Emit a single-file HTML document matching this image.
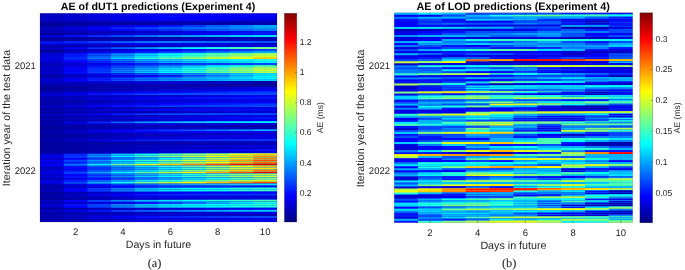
<!DOCTYPE html>
<html><head><meta charset="utf-8"><title>AE heatmaps</title>
<style>
html,body{margin:0;padding:0;background:#fff;}
body{width:685px;height:270px;overflow:hidden;font-family:"Liberation Sans",sans-serif;}
svg{display:block}
text{font-family:"Liberation Sans",sans-serif;fill:#262626;text-rendering:geometricPrecision}
.tk{font-size:9.5px}
.cb{font-size:8.6px}
.cl{font-size:8.6px}
.lb{}
.ti{font-size:10.65px;font-weight:bold;fill:#000}
.tib{font-size:10.8px}
.sf{font-family:"Liberation Serif",serif;font-size:12.3px;fill:#111}
</style></head><body>
<svg width="685" height="270" viewBox="0 0 685 270">
<defs><linearGradient id="jet" x1="0" y1="1" x2="0" y2="0">
<stop offset="0" stop-color="#000080"/><stop offset="0.125" stop-color="#0000ff"/><stop offset="0.375" stop-color="#00ffff"/><stop offset="0.625" stop-color="#ffff00"/><stop offset="0.875" stop-color="#ff0000"/><stop offset="1" stop-color="#800000"/>
</linearGradient>
<filter id="vb" x="-2%" y="-2%" width="104%" height="104%"><feGaussianBlur stdDeviation="0.35 0.5"/></filter></defs>
<rect width="685" height="270" fill="#fff"/>
<g opacity="0.999">
<clipPath id="cpa"><rect x="40.00" y="13.30" width="237.00" height="208.70"/></clipPath>
<g clip-path="url(#cpa)"><g filter="url(#vb)">
<rect x="37.00" y="10.30" width="243.00" height="6.01" fill="#0000c2"/>
<rect x="63.70" y="10.30" width="216.30" height="6.01" fill="#0000ce"/>
<rect x="87.40" y="10.30" width="192.60" height="6.01" fill="#0000db"/>
<rect x="111.10" y="10.30" width="168.90" height="6.01" fill="#0000e7"/>
<rect x="134.80" y="10.30" width="145.20" height="6.01" fill="#0000f4"/>
<rect x="158.50" y="10.30" width="121.50" height="6.01" fill="#0000fa"/>
<rect x="182.20" y="10.30" width="97.80" height="6.01" fill="#0000fa"/>
<rect x="205.90" y="10.30" width="74.10" height="6.01" fill="#0000fa"/>
<rect x="229.60" y="10.30" width="50.40" height="6.01" fill="#0000fa"/>
<rect x="253.30" y="10.30" width="26.70" height="6.01" fill="#0000fa"/>
<rect x="37.00" y="15.31" width="243.00" height="3.01" fill="#0000c2"/>
<rect x="63.70" y="15.31" width="216.30" height="3.01" fill="#0000d2"/>
<rect x="87.40" y="15.31" width="192.60" height="3.01" fill="#0000e2"/>
<rect x="111.10" y="15.31" width="168.90" height="3.01" fill="#0000f1"/>
<rect x="134.80" y="15.31" width="145.20" height="3.01" fill="#0002ff"/>
<rect x="158.50" y="15.31" width="121.50" height="3.01" fill="#0008ff"/>
<rect x="182.20" y="15.31" width="97.80" height="3.01" fill="#0005ff"/>
<rect x="205.90" y="15.31" width="74.10" height="3.01" fill="#0002ff"/>
<rect x="229.60" y="15.31" width="50.40" height="3.01" fill="#0000fd"/>
<rect x="253.30" y="15.31" width="26.70" height="3.01" fill="#0000fa"/>
<rect x="37.00" y="17.31" width="243.00" height="3.01" fill="#0000c2"/>
<rect x="63.70" y="17.31" width="216.30" height="3.01" fill="#0000cf"/>
<rect x="87.40" y="17.31" width="192.60" height="3.01" fill="#0000dd"/>
<rect x="111.10" y="17.31" width="168.90" height="3.01" fill="#0000eb"/>
<rect x="134.80" y="17.31" width="145.20" height="3.01" fill="#0000f8"/>
<rect x="158.50" y="17.31" width="121.50" height="3.01" fill="#0000fc"/>
<rect x="182.20" y="17.31" width="97.80" height="3.01" fill="#0000f6"/>
<rect x="205.90" y="17.31" width="74.10" height="3.01" fill="#0000f1"/>
<rect x="229.60" y="17.31" width="50.40" height="3.01" fill="#0000eb"/>
<rect x="253.30" y="17.31" width="26.70" height="3.01" fill="#0000e6"/>
<rect x="37.00" y="19.32" width="243.00" height="3.01" fill="#0000c8"/>
<rect x="63.70" y="19.32" width="216.30" height="3.01" fill="#0000d3"/>
<rect x="87.40" y="19.32" width="192.60" height="3.01" fill="#0000de"/>
<rect x="111.10" y="19.32" width="168.90" height="3.01" fill="#0000e9"/>
<rect x="134.80" y="19.32" width="145.20" height="3.01" fill="#0000f4"/>
<rect x="158.50" y="19.32" width="121.50" height="3.01" fill="#0000f8"/>
<rect x="182.20" y="19.32" width="97.80" height="3.01" fill="#0000f3"/>
<rect x="205.90" y="19.32" width="74.10" height="3.01" fill="#0000ef"/>
<rect x="229.60" y="19.32" width="50.40" height="3.01" fill="#0000ea"/>
<rect x="253.30" y="19.32" width="26.70" height="3.01" fill="#0000e6"/>
<rect x="37.00" y="21.33" width="243.00" height="3.01" fill="#0000a3"/>
<rect x="63.70" y="21.33" width="216.30" height="3.01" fill="#0000a7"/>
<rect x="87.40" y="21.33" width="192.60" height="3.01" fill="#0000aa"/>
<rect x="111.10" y="21.33" width="168.90" height="3.01" fill="#0000ad"/>
<rect x="134.80" y="21.33" width="145.20" height="3.01" fill="#0000b1"/>
<rect x="158.50" y="21.33" width="121.50" height="3.01" fill="#0000b2"/>
<rect x="182.20" y="21.33" width="97.80" height="3.01" fill="#0000b2"/>
<rect x="205.90" y="21.33" width="74.10" height="3.01" fill="#0000b2"/>
<rect x="229.60" y="21.33" width="50.40" height="3.01" fill="#0000b2"/>
<rect x="253.30" y="21.33" width="26.70" height="3.01" fill="#0000b2"/>
<rect x="37.00" y="23.33" width="243.00" height="3.01" fill="#00009e"/>
<rect x="63.70" y="23.33" width="216.30" height="3.01" fill="#0000a2"/>
<rect x="87.40" y="23.33" width="192.60" height="3.01" fill="#0000a5"/>
<rect x="111.10" y="23.33" width="168.90" height="3.01" fill="#0000a8"/>
<rect x="134.80" y="23.33" width="145.20" height="3.01" fill="#0000ac"/>
<rect x="158.50" y="23.33" width="121.50" height="3.01" fill="#0000ae"/>
<rect x="182.20" y="23.33" width="97.80" height="3.01" fill="#0000af"/>
<rect x="205.90" y="23.33" width="74.10" height="3.01" fill="#0000b0"/>
<rect x="229.60" y="23.33" width="50.40" height="3.01" fill="#0000b1"/>
<rect x="253.30" y="23.33" width="26.70" height="3.01" fill="#0000b2"/>
<rect x="37.00" y="25.34" width="243.00" height="3.01" fill="#00009e"/>
<rect x="63.70" y="25.34" width="216.30" height="3.01" fill="#0000b5"/>
<rect x="87.40" y="25.34" width="192.60" height="3.01" fill="#0000cd"/>
<rect x="111.10" y="25.34" width="168.90" height="3.01" fill="#0000e4"/>
<rect x="134.80" y="25.34" width="145.20" height="3.01" fill="#0000fb"/>
<rect x="158.50" y="25.34" width="121.50" height="3.01" fill="#001bff"/>
<rect x="182.20" y="25.34" width="97.80" height="3.01" fill="#0041ff"/>
<rect x="205.90" y="25.34" width="74.10" height="3.01" fill="#0067ff"/>
<rect x="229.60" y="25.34" width="50.40" height="3.01" fill="#008dff"/>
<rect x="253.30" y="25.34" width="26.70" height="3.01" fill="#00b2ff"/>
<rect x="37.00" y="27.35" width="243.00" height="3.01" fill="#0000c2"/>
<rect x="63.70" y="27.35" width="216.30" height="3.01" fill="#0000e3"/>
<rect x="87.40" y="27.35" width="192.60" height="3.01" fill="#0005ff"/>
<rect x="111.10" y="27.35" width="168.90" height="3.01" fill="#0025ff"/>
<rect x="134.80" y="27.35" width="145.20" height="3.01" fill="#0046ff"/>
<rect x="158.50" y="27.35" width="121.50" height="3.01" fill="#005fff"/>
<rect x="182.20" y="27.35" width="97.80" height="3.01" fill="#006fff"/>
<rect x="205.90" y="27.35" width="74.10" height="3.01" fill="#007eff"/>
<rect x="229.60" y="27.35" width="50.40" height="3.01" fill="#008eff"/>
<rect x="253.30" y="27.35" width="26.70" height="3.01" fill="#009eff"/>
<rect x="37.00" y="29.35" width="243.00" height="3.01" fill="#0000b8"/>
<rect x="63.70" y="29.35" width="216.30" height="3.01" fill="#0000d1"/>
<rect x="87.40" y="29.35" width="192.60" height="3.01" fill="#0000e9"/>
<rect x="111.10" y="29.35" width="168.90" height="3.01" fill="#0003ff"/>
<rect x="134.80" y="29.35" width="145.20" height="3.01" fill="#001cff"/>
<rect x="158.50" y="29.35" width="121.50" height="3.01" fill="#0032ff"/>
<rect x="182.20" y="29.35" width="97.80" height="3.01" fill="#0046ff"/>
<rect x="205.90" y="29.35" width="74.10" height="3.01" fill="#0059ff"/>
<rect x="229.60" y="29.35" width="50.40" height="3.01" fill="#006cff"/>
<rect x="253.30" y="29.35" width="26.70" height="3.01" fill="#0080ff"/>
<rect x="37.00" y="31.36" width="243.00" height="3.01" fill="#0000ad"/>
<rect x="63.70" y="31.36" width="216.30" height="3.01" fill="#0000b4"/>
<rect x="87.40" y="31.36" width="192.60" height="3.01" fill="#0000bb"/>
<rect x="111.10" y="31.36" width="168.90" height="3.01" fill="#0000c2"/>
<rect x="134.80" y="31.36" width="145.20" height="3.01" fill="#0000c9"/>
<rect x="158.50" y="31.36" width="121.50" height="3.01" fill="#0000d4"/>
<rect x="182.20" y="31.36" width="97.80" height="3.01" fill="#0000e6"/>
<rect x="205.90" y="31.36" width="74.10" height="3.01" fill="#0000f6"/>
<rect x="229.60" y="31.36" width="50.40" height="3.01" fill="#0008ff"/>
<rect x="253.30" y="31.36" width="26.70" height="3.01" fill="#0019ff"/>
<rect x="37.00" y="33.37" width="243.00" height="3.01" fill="#00009e"/>
<rect x="63.70" y="33.37" width="216.30" height="3.01" fill="#0000af"/>
<rect x="87.40" y="33.37" width="192.60" height="3.01" fill="#0000bf"/>
<rect x="111.10" y="33.37" width="168.90" height="3.01" fill="#0000cf"/>
<rect x="134.80" y="33.37" width="145.20" height="3.01" fill="#0000e0"/>
<rect x="158.50" y="33.37" width="121.50" height="3.01" fill="#0000ed"/>
<rect x="182.20" y="33.37" width="97.80" height="3.01" fill="#0000f8"/>
<rect x="205.90" y="33.37" width="74.10" height="3.01" fill="#0004ff"/>
<rect x="229.60" y="33.37" width="50.40" height="3.01" fill="#000fff"/>
<rect x="253.30" y="33.37" width="26.70" height="3.01" fill="#0019ff"/>
<rect x="37.00" y="35.37" width="243.00" height="3.01" fill="#0000e7"/>
<rect x="63.70" y="35.37" width="216.30" height="3.01" fill="#000cff"/>
<rect x="87.40" y="35.37" width="192.60" height="3.01" fill="#0030ff"/>
<rect x="111.10" y="35.37" width="168.90" height="3.01" fill="#0054ff"/>
<rect x="134.80" y="35.37" width="145.20" height="3.01" fill="#0078ff"/>
<rect x="158.50" y="35.37" width="121.50" height="3.01" fill="#0094ff"/>
<rect x="182.20" y="35.37" width="97.80" height="3.01" fill="#00a8ff"/>
<rect x="205.90" y="35.37" width="74.10" height="3.01" fill="#00bdff"/>
<rect x="229.60" y="35.37" width="50.40" height="3.01" fill="#00d1ff"/>
<rect x="253.30" y="35.37" width="26.70" height="3.01" fill="#00e5ff"/>
<rect x="37.00" y="37.38" width="243.00" height="3.01" fill="#00009e"/>
<rect x="63.70" y="37.38" width="216.30" height="3.01" fill="#0000a2"/>
<rect x="87.40" y="37.38" width="192.60" height="3.01" fill="#0000a5"/>
<rect x="111.10" y="37.38" width="168.90" height="3.01" fill="#0000a8"/>
<rect x="134.80" y="37.38" width="145.20" height="3.01" fill="#0000ac"/>
<rect x="158.50" y="37.38" width="121.50" height="3.01" fill="#0000ae"/>
<rect x="182.20" y="37.38" width="97.80" height="3.01" fill="#0000af"/>
<rect x="205.90" y="37.38" width="74.10" height="3.01" fill="#0000b0"/>
<rect x="229.60" y="37.38" width="50.40" height="3.01" fill="#0000b1"/>
<rect x="253.30" y="37.38" width="26.70" height="3.01" fill="#0000b2"/>
<rect x="37.00" y="39.39" width="243.00" height="3.01" fill="#00009e"/>
<rect x="63.70" y="39.39" width="216.30" height="3.01" fill="#0000a6"/>
<rect x="87.40" y="39.39" width="192.60" height="3.01" fill="#0000ae"/>
<rect x="111.10" y="39.39" width="168.90" height="3.01" fill="#0000b6"/>
<rect x="134.80" y="39.39" width="145.20" height="3.01" fill="#0000be"/>
<rect x="158.50" y="39.39" width="121.50" height="3.01" fill="#0000c1"/>
<rect x="182.20" y="39.39" width="97.80" height="3.01" fill="#0000c0"/>
<rect x="205.90" y="39.39" width="74.10" height="3.01" fill="#0000bf"/>
<rect x="229.60" y="39.39" width="50.40" height="3.01" fill="#0000be"/>
<rect x="253.30" y="39.39" width="26.70" height="3.01" fill="#0000bd"/>
<rect x="37.00" y="41.39" width="243.00" height="3.01" fill="#0014ff"/>
<rect x="63.70" y="41.39" width="216.30" height="3.01" fill="#002eff"/>
<rect x="87.40" y="41.39" width="192.60" height="3.01" fill="#0049ff"/>
<rect x="111.10" y="41.39" width="168.90" height="3.01" fill="#0063ff"/>
<rect x="134.80" y="41.39" width="145.20" height="3.01" fill="#007dff"/>
<rect x="158.50" y="41.39" width="121.50" height="3.01" fill="#0083ff"/>
<rect x="182.20" y="41.39" width="97.80" height="3.01" fill="#0075ff"/>
<rect x="205.90" y="41.39" width="74.10" height="3.01" fill="#0068ff"/>
<rect x="229.60" y="41.39" width="50.40" height="3.01" fill="#005aff"/>
<rect x="253.30" y="41.39" width="26.70" height="3.01" fill="#004dff"/>
<rect x="37.00" y="43.40" width="243.00" height="3.01" fill="#0000d4"/>
<rect x="63.70" y="43.40" width="216.30" height="3.01" fill="#0000dc"/>
<rect x="87.40" y="43.40" width="192.60" height="3.01" fill="#0000e4"/>
<rect x="111.10" y="43.40" width="168.90" height="3.01" fill="#0000ec"/>
<rect x="134.80" y="43.40" width="145.20" height="3.01" fill="#0000f3"/>
<rect x="158.50" y="43.40" width="121.50" height="3.01" fill="#0000f2"/>
<rect x="182.20" y="43.40" width="97.80" height="3.01" fill="#0000e7"/>
<rect x="205.90" y="43.40" width="74.10" height="3.01" fill="#0000dc"/>
<rect x="229.60" y="43.40" width="50.40" height="3.01" fill="#0000d2"/>
<rect x="253.30" y="43.40" width="26.70" height="3.01" fill="#0000c7"/>
<rect x="37.00" y="45.41" width="243.00" height="3.01" fill="#0000a3"/>
<rect x="63.70" y="45.41" width="216.30" height="3.01" fill="#0000a9"/>
<rect x="87.40" y="45.41" width="192.60" height="3.01" fill="#0000af"/>
<rect x="111.10" y="45.41" width="168.90" height="3.01" fill="#0000b4"/>
<rect x="134.80" y="45.41" width="145.20" height="3.01" fill="#0000ba"/>
<rect x="158.50" y="45.41" width="121.50" height="3.01" fill="#0000c1"/>
<rect x="182.20" y="45.41" width="97.80" height="3.01" fill="#0000ca"/>
<rect x="205.90" y="45.41" width="74.10" height="3.01" fill="#0000d3"/>
<rect x="229.60" y="45.41" width="50.40" height="3.01" fill="#0000dc"/>
<rect x="253.30" y="45.41" width="26.70" height="3.01" fill="#0000e6"/>
<rect x="37.00" y="47.41" width="243.00" height="3.01" fill="#0000c8"/>
<rect x="63.70" y="47.41" width="216.30" height="3.01" fill="#0000fc"/>
<rect x="87.40" y="47.41" width="192.60" height="3.01" fill="#0031ff"/>
<rect x="111.10" y="47.41" width="168.90" height="3.01" fill="#0065ff"/>
<rect x="134.80" y="47.41" width="145.20" height="3.01" fill="#0099ff"/>
<rect x="158.50" y="47.41" width="121.50" height="3.01" fill="#00c9ff"/>
<rect x="182.20" y="47.41" width="97.80" height="3.01" fill="#00f7ff"/>
<rect x="205.90" y="47.41" width="74.10" height="3.01" fill="#25ffda"/>
<rect x="229.60" y="47.41" width="50.40" height="3.01" fill="#52ffad"/>
<rect x="253.30" y="47.41" width="26.70" height="3.01" fill="#80ff80"/>
<rect x="37.00" y="49.42" width="243.00" height="3.01" fill="#00009e"/>
<rect x="63.70" y="49.42" width="216.30" height="3.01" fill="#0000b2"/>
<rect x="87.40" y="49.42" width="192.60" height="3.01" fill="#0000c6"/>
<rect x="111.10" y="49.42" width="168.90" height="3.01" fill="#0000da"/>
<rect x="134.80" y="49.42" width="145.20" height="3.01" fill="#0000ed"/>
<rect x="158.50" y="49.42" width="121.50" height="3.01" fill="#0002ff"/>
<rect x="182.20" y="49.42" width="97.80" height="3.01" fill="#0014ff"/>
<rect x="205.90" y="49.42" width="74.10" height="3.01" fill="#0027ff"/>
<rect x="229.60" y="49.42" width="50.40" height="3.01" fill="#003aff"/>
<rect x="253.30" y="49.42" width="26.70" height="3.01" fill="#004dff"/>
<rect x="37.00" y="51.43" width="243.00" height="3.01" fill="#0000ad"/>
<rect x="63.70" y="51.43" width="216.30" height="3.01" fill="#0000cb"/>
<rect x="87.40" y="51.43" width="192.60" height="3.01" fill="#0000e8"/>
<rect x="111.10" y="51.43" width="168.90" height="3.01" fill="#0007ff"/>
<rect x="134.80" y="51.43" width="145.20" height="3.01" fill="#0024ff"/>
<rect x="158.50" y="51.43" width="121.50" height="3.01" fill="#0041ff"/>
<rect x="182.20" y="51.43" width="97.80" height="3.01" fill="#005dff"/>
<rect x="205.90" y="51.43" width="74.10" height="3.01" fill="#007aff"/>
<rect x="229.60" y="51.43" width="50.40" height="3.01" fill="#0096ff"/>
<rect x="253.30" y="51.43" width="26.70" height="3.01" fill="#00b2ff"/>
<rect x="37.00" y="53.43" width="243.00" height="3.01" fill="#0000da"/>
<rect x="63.70" y="53.43" width="216.30" height="3.01" fill="#0018ff"/>
<rect x="87.40" y="53.43" width="192.60" height="3.01" fill="#0054ff"/>
<rect x="111.10" y="53.43" width="168.90" height="3.01" fill="#0090ff"/>
<rect x="134.80" y="53.43" width="145.20" height="3.01" fill="#00ccff"/>
<rect x="158.50" y="53.43" width="121.50" height="3.01" fill="#02fffd"/>
<rect x="182.20" y="53.43" width="97.80" height="3.01" fill="#2effd1"/>
<rect x="205.90" y="53.43" width="74.10" height="3.01" fill="#5affa5"/>
<rect x="229.60" y="53.43" width="50.40" height="3.01" fill="#86ff79"/>
<rect x="253.30" y="53.43" width="26.70" height="3.01" fill="#b3ff4c"/>
<rect x="37.00" y="55.44" width="243.00" height="3.01" fill="#0000da"/>
<rect x="63.70" y="55.44" width="216.30" height="3.01" fill="#001cff"/>
<rect x="87.40" y="55.44" width="192.60" height="3.01" fill="#005dff"/>
<rect x="111.10" y="55.44" width="168.90" height="3.01" fill="#009eff"/>
<rect x="134.80" y="55.44" width="145.20" height="3.01" fill="#00dfff"/>
<rect x="158.50" y="55.44" width="121.50" height="3.01" fill="#17ffe8"/>
<rect x="182.20" y="55.44" width="97.80" height="3.01" fill="#46ffb9"/>
<rect x="205.90" y="55.44" width="74.10" height="3.01" fill="#74ff8b"/>
<rect x="229.60" y="55.44" width="50.40" height="3.01" fill="#a3ff5c"/>
<rect x="253.30" y="55.44" width="26.70" height="3.01" fill="#d1ff2e"/>
<rect x="37.00" y="57.45" width="243.00" height="3.01" fill="#0000e7"/>
<rect x="63.70" y="57.45" width="216.30" height="3.01" fill="#0037ff"/>
<rect x="87.40" y="57.45" width="192.60" height="3.01" fill="#0086ff"/>
<rect x="111.10" y="57.45" width="168.90" height="3.01" fill="#00d5ff"/>
<rect x="134.80" y="57.45" width="145.20" height="3.01" fill="#25ffda"/>
<rect x="158.50" y="57.45" width="121.50" height="3.01" fill="#67ff98"/>
<rect x="182.20" y="57.45" width="97.80" height="3.01" fill="#9bff64"/>
<rect x="205.90" y="57.45" width="74.10" height="3.01" fill="#cfff30"/>
<rect x="229.60" y="57.45" width="50.40" height="3.01" fill="#fffb00"/>
<rect x="253.30" y="57.45" width="26.70" height="3.01" fill="#ffc700"/>
<rect x="37.00" y="59.45" width="243.00" height="3.01" fill="#0000da"/>
<rect x="63.70" y="59.45" width="216.30" height="3.01" fill="#000fff"/>
<rect x="87.40" y="59.45" width="192.60" height="3.01" fill="#0042ff"/>
<rect x="111.10" y="59.45" width="168.90" height="3.01" fill="#0075ff"/>
<rect x="134.80" y="59.45" width="145.20" height="3.01" fill="#00a8ff"/>
<rect x="158.50" y="59.45" width="121.50" height="3.01" fill="#00cbff"/>
<rect x="182.20" y="59.45" width="97.80" height="3.01" fill="#00dfff"/>
<rect x="205.90" y="59.45" width="74.10" height="3.01" fill="#00f2ff"/>
<rect x="229.60" y="59.45" width="50.40" height="3.01" fill="#06fff9"/>
<rect x="253.30" y="59.45" width="26.70" height="3.01" fill="#1affe5"/>
<rect x="37.00" y="61.46" width="243.00" height="3.01" fill="#0000c8"/>
<rect x="63.70" y="61.46" width="216.30" height="3.01" fill="#0000f6"/>
<rect x="87.40" y="61.46" width="192.60" height="3.01" fill="#0025ff"/>
<rect x="111.10" y="61.46" width="168.90" height="3.01" fill="#0054ff"/>
<rect x="134.80" y="61.46" width="145.20" height="3.01" fill="#0082ff"/>
<rect x="158.50" y="61.46" width="121.50" height="3.01" fill="#00a4ff"/>
<rect x="182.20" y="61.46" width="97.80" height="3.01" fill="#00b9ff"/>
<rect x="205.90" y="61.46" width="74.10" height="3.01" fill="#00cfff"/>
<rect x="229.60" y="61.46" width="50.40" height="3.01" fill="#00e4ff"/>
<rect x="253.30" y="61.46" width="26.70" height="3.01" fill="#00faff"/>
<rect x="37.00" y="63.47" width="243.00" height="3.01" fill="#0000b8"/>
<rect x="63.70" y="63.47" width="216.30" height="3.01" fill="#0000d3"/>
<rect x="87.40" y="63.47" width="192.60" height="3.01" fill="#0000ee"/>
<rect x="111.10" y="63.47" width="168.90" height="3.01" fill="#000aff"/>
<rect x="134.80" y="63.47" width="145.20" height="3.01" fill="#0025ff"/>
<rect x="158.50" y="63.47" width="121.50" height="3.01" fill="#0036ff"/>
<rect x="182.20" y="63.47" width="97.80" height="3.01" fill="#003bff"/>
<rect x="205.90" y="63.47" width="74.10" height="3.01" fill="#0041ff"/>
<rect x="229.60" y="63.47" width="50.40" height="3.01" fill="#0047ff"/>
<rect x="253.30" y="63.47" width="26.70" height="3.01" fill="#004dff"/>
<rect x="37.00" y="65.47" width="243.00" height="3.01" fill="#0000c8"/>
<rect x="63.70" y="65.47" width="216.30" height="3.01" fill="#0000f0"/>
<rect x="87.40" y="65.47" width="192.60" height="3.01" fill="#001aff"/>
<rect x="111.10" y="65.47" width="168.90" height="3.01" fill="#0043ff"/>
<rect x="134.80" y="65.47" width="145.20" height="3.01" fill="#006bff"/>
<rect x="158.50" y="65.47" width="121.50" height="3.01" fill="#0097ff"/>
<rect x="182.20" y="65.47" width="97.80" height="3.01" fill="#00c7ff"/>
<rect x="205.90" y="65.47" width="74.10" height="3.01" fill="#00f7ff"/>
<rect x="229.60" y="65.47" width="50.40" height="3.01" fill="#27ffd8"/>
<rect x="253.30" y="65.47" width="26.70" height="3.01" fill="#57ffa8"/>
<rect x="37.00" y="67.48" width="243.00" height="3.01" fill="#0000c8"/>
<rect x="63.70" y="67.48" width="216.30" height="3.01" fill="#0000fd"/>
<rect x="87.40" y="67.48" width="192.60" height="3.01" fill="#0033ff"/>
<rect x="111.10" y="67.48" width="168.90" height="3.01" fill="#0068ff"/>
<rect x="134.80" y="67.48" width="145.20" height="3.01" fill="#009dff"/>
<rect x="158.50" y="67.48" width="121.50" height="3.01" fill="#00d4ff"/>
<rect x="182.20" y="67.48" width="97.80" height="3.01" fill="#0ffff0"/>
<rect x="205.90" y="67.48" width="74.10" height="3.01" fill="#49ffb6"/>
<rect x="229.60" y="67.48" width="50.40" height="3.01" fill="#83ff7c"/>
<rect x="253.30" y="67.48" width="26.70" height="3.01" fill="#bdff42"/>
<rect x="37.00" y="69.49" width="243.00" height="3.01" fill="#0000c8"/>
<rect x="63.70" y="69.49" width="216.30" height="3.01" fill="#0006ff"/>
<rect x="87.40" y="69.49" width="192.60" height="3.01" fill="#0043ff"/>
<rect x="111.10" y="69.49" width="168.90" height="3.01" fill="#0080ff"/>
<rect x="134.80" y="69.49" width="145.20" height="3.01" fill="#00bdff"/>
<rect x="158.50" y="69.49" width="121.50" height="3.01" fill="#00f7ff"/>
<rect x="182.20" y="69.49" width="97.80" height="3.01" fill="#2effd1"/>
<rect x="205.90" y="69.49" width="74.10" height="3.01" fill="#64ff9b"/>
<rect x="229.60" y="69.49" width="50.40" height="3.01" fill="#9bff64"/>
<rect x="253.30" y="69.49" width="26.70" height="3.01" fill="#d1ff2e"/>
<rect x="37.00" y="71.50" width="243.00" height="3.01" fill="#0000c8"/>
<rect x="63.70" y="71.50" width="216.30" height="3.01" fill="#0008ff"/>
<rect x="87.40" y="71.50" width="192.60" height="3.01" fill="#0047ff"/>
<rect x="111.10" y="71.50" width="168.90" height="3.01" fill="#0087ff"/>
<rect x="134.80" y="71.50" width="145.20" height="3.01" fill="#00c6ff"/>
<rect x="158.50" y="71.50" width="121.50" height="3.01" fill="#00fdff"/>
<rect x="182.20" y="71.50" width="97.80" height="3.01" fill="#2effd1"/>
<rect x="205.90" y="71.50" width="74.10" height="3.01" fill="#5effa2"/>
<rect x="229.60" y="71.50" width="50.40" height="3.01" fill="#8dff72"/>
<rect x="253.30" y="71.50" width="26.70" height="3.01" fill="#bdff42"/>
<rect x="37.00" y="73.50" width="243.00" height="3.01" fill="#0000b8"/>
<rect x="63.70" y="73.50" width="216.30" height="3.01" fill="#0000de"/>
<rect x="87.40" y="73.50" width="192.60" height="3.01" fill="#0006ff"/>
<rect x="111.10" y="73.50" width="168.90" height="3.01" fill="#002cff"/>
<rect x="134.80" y="73.50" width="145.20" height="3.01" fill="#0053ff"/>
<rect x="158.50" y="73.50" width="121.50" height="3.01" fill="#0074ff"/>
<rect x="182.20" y="73.50" width="97.80" height="3.01" fill="#0090ff"/>
<rect x="205.90" y="73.50" width="74.10" height="3.01" fill="#00adff"/>
<rect x="229.60" y="73.50" width="50.40" height="3.01" fill="#00c9ff"/>
<rect x="253.30" y="73.50" width="26.70" height="3.01" fill="#00e5ff"/>
<rect x="37.00" y="75.51" width="243.00" height="3.01" fill="#00009e"/>
<rect x="63.70" y="75.51" width="216.30" height="3.01" fill="#0000b8"/>
<rect x="87.40" y="75.51" width="192.60" height="3.01" fill="#0000d1"/>
<rect x="111.10" y="75.51" width="168.90" height="3.01" fill="#0000eb"/>
<rect x="134.80" y="75.51" width="145.20" height="3.01" fill="#0005ff"/>
<rect x="158.50" y="75.51" width="121.50" height="3.01" fill="#002dff"/>
<rect x="182.20" y="75.51" width="97.80" height="3.01" fill="#0063ff"/>
<rect x="205.90" y="75.51" width="74.10" height="3.01" fill="#0098ff"/>
<rect x="229.60" y="75.51" width="50.40" height="3.01" fill="#00ceff"/>
<rect x="253.30" y="75.51" width="26.70" height="3.01" fill="#05fffa"/>
<rect x="37.00" y="77.52" width="243.00" height="3.01" fill="#0000c8"/>
<rect x="63.70" y="77.52" width="216.30" height="3.01" fill="#0000f0"/>
<rect x="87.40" y="77.52" width="192.60" height="3.01" fill="#001aff"/>
<rect x="111.10" y="77.52" width="168.90" height="3.01" fill="#0043ff"/>
<rect x="134.80" y="77.52" width="145.20" height="3.01" fill="#006bff"/>
<rect x="158.50" y="77.52" width="121.50" height="3.01" fill="#008dff"/>
<rect x="182.20" y="77.52" width="97.80" height="3.01" fill="#00a8ff"/>
<rect x="205.90" y="77.52" width="74.10" height="3.01" fill="#00c3ff"/>
<rect x="229.60" y="77.52" width="50.40" height="3.01" fill="#00dfff"/>
<rect x="253.30" y="77.52" width="26.70" height="3.01" fill="#00faff"/>
<rect x="37.00" y="79.52" width="243.00" height="3.01" fill="#0000d4"/>
<rect x="63.70" y="79.52" width="216.30" height="3.01" fill="#0000fc"/>
<rect x="87.40" y="79.52" width="192.60" height="3.01" fill="#0025ff"/>
<rect x="111.10" y="79.52" width="168.90" height="3.01" fill="#004eff"/>
<rect x="134.80" y="79.52" width="145.20" height="3.01" fill="#0076ff"/>
<rect x="158.50" y="79.52" width="121.50" height="3.01" fill="#0092ff"/>
<rect x="182.20" y="79.52" width="97.80" height="3.01" fill="#00a2ff"/>
<rect x="205.90" y="79.52" width="74.10" height="3.01" fill="#00b1ff"/>
<rect x="229.60" y="79.52" width="50.40" height="3.01" fill="#00c1ff"/>
<rect x="253.30" y="79.52" width="26.70" height="3.01" fill="#00d1ff"/>
<rect x="37.00" y="81.53" width="243.00" height="3.01" fill="#0000b8"/>
<rect x="63.70" y="81.53" width="216.30" height="3.01" fill="#0000c2"/>
<rect x="87.40" y="81.53" width="192.60" height="3.01" fill="#0000cd"/>
<rect x="111.10" y="81.53" width="168.90" height="3.01" fill="#0000d8"/>
<rect x="134.80" y="81.53" width="145.20" height="3.01" fill="#0000e3"/>
<rect x="158.50" y="81.53" width="121.50" height="3.01" fill="#0000e0"/>
<rect x="182.20" y="81.53" width="97.80" height="3.01" fill="#0000cf"/>
<rect x="205.90" y="81.53" width="74.10" height="3.01" fill="#0000bf"/>
<rect x="229.60" y="81.53" width="50.40" height="3.01" fill="#0000af"/>
<rect x="253.30" y="81.53" width="26.70" height="3.01" fill="#00009e"/>
<rect x="37.00" y="83.54" width="243.00" height="3.01" fill="#0000b8"/>
<rect x="63.70" y="83.54" width="216.30" height="3.01" fill="#0000bb"/>
<rect x="87.40" y="83.54" width="192.60" height="3.01" fill="#0000be"/>
<rect x="111.10" y="83.54" width="168.90" height="3.01" fill="#0000c2"/>
<rect x="134.80" y="83.54" width="145.20" height="3.01" fill="#0000c5"/>
<rect x="158.50" y="83.54" width="121.50" height="3.01" fill="#0000c1"/>
<rect x="182.20" y="83.54" width="97.80" height="3.01" fill="#0000b6"/>
<rect x="205.90" y="83.54" width="74.10" height="3.01" fill="#0000ab"/>
<rect x="229.60" y="83.54" width="50.40" height="3.01" fill="#00009f"/>
<rect x="253.30" y="83.54" width="26.70" height="3.01" fill="#000094"/>
<rect x="37.00" y="85.54" width="243.00" height="3.01" fill="#00009e"/>
<rect x="63.70" y="85.54" width="216.30" height="3.01" fill="#0000a3"/>
<rect x="87.40" y="85.54" width="192.60" height="3.01" fill="#0000a7"/>
<rect x="111.10" y="85.54" width="168.90" height="3.01" fill="#0000ac"/>
<rect x="134.80" y="85.54" width="145.20" height="3.01" fill="#0000b0"/>
<rect x="158.50" y="85.54" width="121.50" height="3.01" fill="#0000b0"/>
<rect x="182.20" y="85.54" width="97.80" height="3.01" fill="#0000ac"/>
<rect x="205.90" y="85.54" width="74.10" height="3.01" fill="#0000a7"/>
<rect x="229.60" y="85.54" width="50.40" height="3.01" fill="#0000a3"/>
<rect x="253.30" y="85.54" width="26.70" height="3.01" fill="#00009e"/>
<rect x="37.00" y="87.55" width="243.00" height="3.01" fill="#00009e"/>
<rect x="63.70" y="87.55" width="216.30" height="3.01" fill="#0000a6"/>
<rect x="87.40" y="87.55" width="192.60" height="3.01" fill="#0000ae"/>
<rect x="111.10" y="87.55" width="168.90" height="3.01" fill="#0000b6"/>
<rect x="134.80" y="87.55" width="145.20" height="3.01" fill="#0000be"/>
<rect x="158.50" y="87.55" width="121.50" height="3.01" fill="#0000c6"/>
<rect x="182.20" y="87.55" width="97.80" height="3.01" fill="#0000ce"/>
<rect x="205.90" y="87.55" width="74.10" height="3.01" fill="#0000d6"/>
<rect x="229.60" y="87.55" width="50.40" height="3.01" fill="#0000de"/>
<rect x="253.30" y="87.55" width="26.70" height="3.01" fill="#0000e6"/>
<rect x="37.00" y="89.56" width="243.00" height="3.01" fill="#0000a3"/>
<rect x="63.70" y="89.56" width="216.30" height="3.01" fill="#0000aa"/>
<rect x="87.40" y="89.56" width="192.60" height="3.01" fill="#0000b1"/>
<rect x="111.10" y="89.56" width="168.90" height="3.01" fill="#0000b8"/>
<rect x="134.80" y="89.56" width="145.20" height="3.01" fill="#0000be"/>
<rect x="158.50" y="89.56" width="121.50" height="3.01" fill="#0000c8"/>
<rect x="182.20" y="89.56" width="97.80" height="3.01" fill="#0000d4"/>
<rect x="205.90" y="89.56" width="74.10" height="3.01" fill="#0000e1"/>
<rect x="229.60" y="89.56" width="50.40" height="3.01" fill="#0000ed"/>
<rect x="253.30" y="89.56" width="26.70" height="3.01" fill="#0000fa"/>
<rect x="37.00" y="91.56" width="243.00" height="3.01" fill="#0000b8"/>
<rect x="63.70" y="91.56" width="216.30" height="3.01" fill="#0000ca"/>
<rect x="87.40" y="91.56" width="192.60" height="3.01" fill="#0000dc"/>
<rect x="111.10" y="91.56" width="168.90" height="3.01" fill="#0000ee"/>
<rect x="134.80" y="91.56" width="145.20" height="3.01" fill="#0001ff"/>
<rect x="158.50" y="91.56" width="121.50" height="3.01" fill="#000fff"/>
<rect x="182.20" y="91.56" width="97.80" height="3.01" fill="#0019ff"/>
<rect x="205.90" y="91.56" width="74.10" height="3.01" fill="#0024ff"/>
<rect x="229.60" y="91.56" width="50.40" height="3.01" fill="#002eff"/>
<rect x="253.30" y="91.56" width="26.70" height="3.01" fill="#0038ff"/>
<rect x="37.00" y="93.57" width="243.00" height="3.01" fill="#0000da"/>
<rect x="63.70" y="93.57" width="216.30" height="3.01" fill="#0000f6"/>
<rect x="87.40" y="93.57" width="192.60" height="3.01" fill="#0012ff"/>
<rect x="111.10" y="93.57" width="168.90" height="3.01" fill="#002eff"/>
<rect x="134.80" y="93.57" width="145.20" height="3.01" fill="#0049ff"/>
<rect x="158.50" y="93.57" width="121.50" height="3.01" fill="#0056ff"/>
<rect x="182.20" y="93.57" width="97.80" height="3.01" fill="#0053ff"/>
<rect x="205.90" y="93.57" width="74.10" height="3.01" fill="#0051ff"/>
<rect x="229.60" y="93.57" width="50.40" height="3.01" fill="#004fff"/>
<rect x="253.30" y="93.57" width="26.70" height="3.01" fill="#004dff"/>
<rect x="37.00" y="95.58" width="243.00" height="3.01" fill="#0000ad"/>
<rect x="63.70" y="95.58" width="216.30" height="3.01" fill="#0000b6"/>
<rect x="87.40" y="95.58" width="192.60" height="3.01" fill="#0000c0"/>
<rect x="111.10" y="95.58" width="168.90" height="3.01" fill="#0000c9"/>
<rect x="134.80" y="95.58" width="145.20" height="3.01" fill="#0000d2"/>
<rect x="158.50" y="95.58" width="121.50" height="3.01" fill="#0000da"/>
<rect x="182.20" y="95.58" width="97.80" height="3.01" fill="#0000e2"/>
<rect x="205.90" y="95.58" width="74.10" height="3.01" fill="#0000ea"/>
<rect x="229.60" y="95.58" width="50.40" height="3.01" fill="#0000f2"/>
<rect x="253.30" y="95.58" width="26.70" height="3.01" fill="#0000fa"/>
<rect x="37.00" y="97.58" width="243.00" height="3.01" fill="#0000b8"/>
<rect x="63.70" y="97.58" width="216.30" height="3.01" fill="#0000ca"/>
<rect x="87.40" y="97.58" width="192.60" height="3.01" fill="#0000dc"/>
<rect x="111.10" y="97.58" width="168.90" height="3.01" fill="#0000ee"/>
<rect x="134.80" y="97.58" width="145.20" height="3.01" fill="#0001ff"/>
<rect x="158.50" y="97.58" width="121.50" height="3.01" fill="#000cff"/>
<rect x="182.20" y="97.58" width="97.80" height="3.01" fill="#000fff"/>
<rect x="205.90" y="97.58" width="74.10" height="3.01" fill="#0013ff"/>
<rect x="229.60" y="97.58" width="50.40" height="3.01" fill="#0016ff"/>
<rect x="253.30" y="97.58" width="26.70" height="3.01" fill="#0019ff"/>
<rect x="37.00" y="99.59" width="243.00" height="3.01" fill="#0000ad"/>
<rect x="63.70" y="99.59" width="216.30" height="3.01" fill="#0000b6"/>
<rect x="87.40" y="99.59" width="192.60" height="3.01" fill="#0000c0"/>
<rect x="111.10" y="99.59" width="168.90" height="3.01" fill="#0000c9"/>
<rect x="134.80" y="99.59" width="145.20" height="3.01" fill="#0000d2"/>
<rect x="158.50" y="99.59" width="121.50" height="3.01" fill="#0000d8"/>
<rect x="182.20" y="99.59" width="97.80" height="3.01" fill="#0000db"/>
<rect x="205.90" y="99.59" width="74.10" height="3.01" fill="#0000df"/>
<rect x="229.60" y="99.59" width="50.40" height="3.01" fill="#0000e2"/>
<rect x="253.30" y="99.59" width="26.70" height="3.01" fill="#0000e6"/>
<rect x="37.00" y="101.60" width="243.00" height="3.01" fill="#0000a3"/>
<rect x="63.70" y="101.60" width="216.30" height="3.01" fill="#0000b0"/>
<rect x="87.40" y="101.60" width="192.60" height="3.01" fill="#0000bd"/>
<rect x="111.10" y="101.60" width="168.90" height="3.01" fill="#0000ca"/>
<rect x="134.80" y="101.60" width="145.20" height="3.01" fill="#0000d7"/>
<rect x="158.50" y="101.60" width="121.50" height="3.01" fill="#0000e1"/>
<rect x="182.20" y="101.60" width="97.80" height="3.01" fill="#0000e7"/>
<rect x="205.90" y="101.60" width="74.10" height="3.01" fill="#0000ed"/>
<rect x="229.60" y="101.60" width="50.40" height="3.01" fill="#0000f4"/>
<rect x="253.30" y="101.60" width="26.70" height="3.01" fill="#0000fa"/>
<rect x="37.00" y="103.60" width="243.00" height="3.01" fill="#0000ad"/>
<rect x="63.70" y="103.60" width="216.30" height="3.01" fill="#0000c1"/>
<rect x="87.40" y="103.60" width="192.60" height="3.01" fill="#0000d5"/>
<rect x="111.10" y="103.60" width="168.90" height="3.01" fill="#0000e9"/>
<rect x="134.80" y="103.60" width="145.20" height="3.01" fill="#0000fd"/>
<rect x="158.50" y="103.60" width="121.50" height="3.01" fill="#000dff"/>
<rect x="182.20" y="103.60" width="97.80" height="3.01" fill="#0018ff"/>
<rect x="205.90" y="103.60" width="74.10" height="3.01" fill="#0023ff"/>
<rect x="229.60" y="103.60" width="50.40" height="3.01" fill="#002dff"/>
<rect x="253.30" y="103.60" width="26.70" height="3.01" fill="#0038ff"/>
<rect x="37.00" y="105.61" width="243.00" height="3.01" fill="#0000c8"/>
<rect x="63.70" y="105.61" width="216.30" height="3.01" fill="#0000e2"/>
<rect x="87.40" y="105.61" width="192.60" height="3.01" fill="#0000fc"/>
<rect x="111.10" y="105.61" width="168.90" height="3.01" fill="#0016ff"/>
<rect x="134.80" y="105.61" width="145.20" height="3.01" fill="#0030ff"/>
<rect x="158.50" y="105.61" width="121.50" height="3.01" fill="#003fff"/>
<rect x="182.20" y="105.61" width="97.80" height="3.01" fill="#0042ff"/>
<rect x="205.90" y="105.61" width="74.10" height="3.01" fill="#0046ff"/>
<rect x="229.60" y="105.61" width="50.40" height="3.01" fill="#0049ff"/>
<rect x="253.30" y="105.61" width="26.70" height="3.01" fill="#004dff"/>
<rect x="37.00" y="107.62" width="243.00" height="3.01" fill="#00009e"/>
<rect x="63.70" y="107.62" width="216.30" height="3.01" fill="#0000a7"/>
<rect x="87.40" y="107.62" width="192.60" height="3.01" fill="#0000b0"/>
<rect x="111.10" y="107.62" width="168.90" height="3.01" fill="#0000b9"/>
<rect x="134.80" y="107.62" width="145.20" height="3.01" fill="#0000c2"/>
<rect x="158.50" y="107.62" width="121.50" height="3.01" fill="#0000ca"/>
<rect x="182.20" y="107.62" width="97.80" height="3.01" fill="#0000d1"/>
<rect x="205.90" y="107.62" width="74.10" height="3.01" fill="#0000d8"/>
<rect x="229.60" y="107.62" width="50.40" height="3.01" fill="#0000df"/>
<rect x="253.30" y="107.62" width="26.70" height="3.01" fill="#0000e6"/>
<rect x="37.00" y="109.62" width="243.00" height="3.01" fill="#0000b8"/>
<rect x="63.70" y="109.62" width="216.30" height="3.01" fill="#0000c7"/>
<rect x="87.40" y="109.62" width="192.60" height="3.01" fill="#0000d7"/>
<rect x="111.10" y="109.62" width="168.90" height="3.01" fill="#0000e7"/>
<rect x="134.80" y="109.62" width="145.20" height="3.01" fill="#0000f7"/>
<rect x="158.50" y="109.62" width="121.50" height="3.01" fill="#0001ff"/>
<rect x="182.20" y="109.62" width="97.80" height="3.01" fill="#0002ff"/>
<rect x="205.90" y="109.62" width="74.10" height="3.01" fill="#0003ff"/>
<rect x="229.60" y="109.62" width="50.40" height="3.01" fill="#0004ff"/>
<rect x="253.30" y="109.62" width="26.70" height="3.01" fill="#0005ff"/>
<rect x="37.00" y="111.63" width="243.00" height="3.01" fill="#00009e"/>
<rect x="63.70" y="111.63" width="216.30" height="3.01" fill="#0000a4"/>
<rect x="87.40" y="111.63" width="192.60" height="3.01" fill="#0000a9"/>
<rect x="111.10" y="111.63" width="168.90" height="3.01" fill="#0000af"/>
<rect x="134.80" y="111.63" width="145.20" height="3.01" fill="#0000b5"/>
<rect x="158.50" y="111.63" width="121.50" height="3.01" fill="#0000ba"/>
<rect x="182.20" y="111.63" width="97.80" height="3.01" fill="#0000c0"/>
<rect x="205.90" y="111.63" width="74.10" height="3.01" fill="#0000c6"/>
<rect x="229.60" y="111.63" width="50.40" height="3.01" fill="#0000cb"/>
<rect x="253.30" y="111.63" width="26.70" height="3.01" fill="#0000d1"/>
<rect x="37.00" y="113.64" width="243.00" height="3.01" fill="#0000c8"/>
<rect x="63.70" y="113.64" width="216.30" height="3.01" fill="#0000e5"/>
<rect x="87.40" y="113.64" width="192.60" height="3.01" fill="#0003ff"/>
<rect x="111.10" y="113.64" width="168.90" height="3.01" fill="#0021ff"/>
<rect x="134.80" y="113.64" width="145.20" height="3.01" fill="#003eff"/>
<rect x="158.50" y="113.64" width="121.50" height="3.01" fill="#004dff"/>
<rect x="182.20" y="113.64" width="97.80" height="3.01" fill="#004dff"/>
<rect x="205.90" y="113.64" width="74.10" height="3.01" fill="#004dff"/>
<rect x="229.60" y="113.64" width="50.40" height="3.01" fill="#004dff"/>
<rect x="253.30" y="113.64" width="26.70" height="3.01" fill="#004dff"/>
<rect x="37.00" y="115.64" width="243.00" height="3.01" fill="#0000a3"/>
<rect x="63.70" y="115.64" width="216.30" height="3.01" fill="#0000ac"/>
<rect x="87.40" y="115.64" width="192.60" height="3.01" fill="#0000b5"/>
<rect x="111.10" y="115.64" width="168.90" height="3.01" fill="#0000be"/>
<rect x="134.80" y="115.64" width="145.20" height="3.01" fill="#0000c7"/>
<rect x="158.50" y="115.64" width="121.50" height="3.01" fill="#0000cf"/>
<rect x="182.20" y="115.64" width="97.80" height="3.01" fill="#0000d4"/>
<rect x="205.90" y="115.64" width="74.10" height="3.01" fill="#0000da"/>
<rect x="229.60" y="115.64" width="50.40" height="3.01" fill="#0000e0"/>
<rect x="253.30" y="115.64" width="26.70" height="3.01" fill="#0000e6"/>
<rect x="37.00" y="117.65" width="243.00" height="3.01" fill="#0000ad"/>
<rect x="63.70" y="117.65" width="216.30" height="3.01" fill="#0000ba"/>
<rect x="87.40" y="117.65" width="192.60" height="3.01" fill="#0000c7"/>
<rect x="111.10" y="117.65" width="168.90" height="3.01" fill="#0000d4"/>
<rect x="134.80" y="117.65" width="145.20" height="3.01" fill="#0000e2"/>
<rect x="158.50" y="117.65" width="121.50" height="3.01" fill="#0000ed"/>
<rect x="182.20" y="117.65" width="97.80" height="3.01" fill="#0000f8"/>
<rect x="205.90" y="117.65" width="74.10" height="3.01" fill="#0004ff"/>
<rect x="229.60" y="117.65" width="50.40" height="3.01" fill="#000fff"/>
<rect x="253.30" y="117.65" width="26.70" height="3.01" fill="#0019ff"/>
<rect x="37.00" y="119.66" width="243.00" height="3.01" fill="#0000a3"/>
<rect x="63.70" y="119.66" width="216.30" height="3.01" fill="#0000ac"/>
<rect x="87.40" y="119.66" width="192.60" height="3.01" fill="#0000b5"/>
<rect x="111.10" y="119.66" width="168.90" height="3.01" fill="#0000be"/>
<rect x="134.80" y="119.66" width="145.20" height="3.01" fill="#0000c7"/>
<rect x="158.50" y="119.66" width="121.50" height="3.01" fill="#0000d1"/>
<rect x="182.20" y="119.66" width="97.80" height="3.01" fill="#0000db"/>
<rect x="205.90" y="119.66" width="74.10" height="3.01" fill="#0000e6"/>
<rect x="229.60" y="119.66" width="50.40" height="3.01" fill="#0000f0"/>
<rect x="253.30" y="119.66" width="26.70" height="3.01" fill="#0000fa"/>
<rect x="37.00" y="121.66" width="243.00" height="3.01" fill="#0000b8"/>
<rect x="63.70" y="121.66" width="216.30" height="3.01" fill="#0000f0"/>
<rect x="87.40" y="121.66" width="192.60" height="3.01" fill="#002aff"/>
<rect x="111.10" y="121.66" width="168.90" height="3.01" fill="#0063ff"/>
<rect x="134.80" y="121.66" width="145.20" height="3.01" fill="#009bff"/>
<rect x="158.50" y="121.66" width="121.50" height="3.01" fill="#00beff"/>
<rect x="182.20" y="121.66" width="97.80" height="3.01" fill="#00caff"/>
<rect x="205.90" y="121.66" width="74.10" height="3.01" fill="#00d7ff"/>
<rect x="229.60" y="121.66" width="50.40" height="3.01" fill="#00e3ff"/>
<rect x="253.30" y="121.66" width="26.70" height="3.01" fill="#00f0ff"/>
<rect x="37.00" y="123.67" width="243.00" height="3.01" fill="#0000a3"/>
<rect x="63.70" y="123.67" width="216.30" height="3.01" fill="#0000b2"/>
<rect x="87.40" y="123.67" width="192.60" height="3.01" fill="#0000c2"/>
<rect x="111.10" y="123.67" width="168.90" height="3.01" fill="#0000d1"/>
<rect x="134.80" y="123.67" width="145.20" height="3.01" fill="#0000e0"/>
<rect x="158.50" y="123.67" width="121.50" height="3.01" fill="#0000e6"/>
<rect x="182.20" y="123.67" width="97.80" height="3.01" fill="#0000e0"/>
<rect x="205.90" y="123.67" width="74.10" height="3.01" fill="#0000db"/>
<rect x="229.60" y="123.67" width="50.40" height="3.01" fill="#0000d6"/>
<rect x="253.30" y="123.67" width="26.70" height="3.01" fill="#0000d1"/>
<rect x="37.00" y="125.68" width="243.00" height="3.01" fill="#00009e"/>
<rect x="63.70" y="125.68" width="216.30" height="3.01" fill="#0000a4"/>
<rect x="87.40" y="125.68" width="192.60" height="3.01" fill="#0000a9"/>
<rect x="111.10" y="125.68" width="168.90" height="3.01" fill="#0000af"/>
<rect x="134.80" y="125.68" width="145.20" height="3.01" fill="#0000b5"/>
<rect x="158.50" y="125.68" width="121.50" height="3.01" fill="#0000b6"/>
<rect x="182.20" y="125.68" width="97.80" height="3.01" fill="#0000b2"/>
<rect x="205.90" y="125.68" width="74.10" height="3.01" fill="#0000af"/>
<rect x="229.60" y="125.68" width="50.40" height="3.01" fill="#0000ac"/>
<rect x="253.30" y="125.68" width="26.70" height="3.01" fill="#0000a8"/>
<rect x="37.00" y="127.68" width="243.00" height="3.01" fill="#0000a3"/>
<rect x="63.70" y="127.68" width="216.30" height="3.01" fill="#0000ac"/>
<rect x="87.40" y="127.68" width="192.60" height="3.01" fill="#0000b5"/>
<rect x="111.10" y="127.68" width="168.90" height="3.01" fill="#0000be"/>
<rect x="134.80" y="127.68" width="145.20" height="3.01" fill="#0000c7"/>
<rect x="158.50" y="127.68" width="121.50" height="3.01" fill="#0000c9"/>
<rect x="182.20" y="127.68" width="97.80" height="3.01" fill="#0000c4"/>
<rect x="205.90" y="127.68" width="74.10" height="3.01" fill="#0000be"/>
<rect x="229.60" y="127.68" width="50.40" height="3.01" fill="#0000b8"/>
<rect x="253.30" y="127.68" width="26.70" height="3.01" fill="#0000b2"/>
<rect x="37.00" y="129.69" width="243.00" height="3.01" fill="#0000a3"/>
<rect x="63.70" y="129.69" width="216.30" height="3.01" fill="#0000c3"/>
<rect x="87.40" y="129.69" width="192.60" height="3.01" fill="#0000e3"/>
<rect x="111.10" y="129.69" width="168.90" height="3.01" fill="#0003ff"/>
<rect x="134.80" y="129.69" width="145.20" height="3.01" fill="#0023ff"/>
<rect x="158.50" y="129.69" width="121.50" height="3.01" fill="#0041ff"/>
<rect x="182.20" y="129.69" width="97.80" height="3.01" fill="#005dff"/>
<rect x="205.90" y="129.69" width="74.10" height="3.01" fill="#007aff"/>
<rect x="229.60" y="129.69" width="50.40" height="3.01" fill="#0096ff"/>
<rect x="253.30" y="129.69" width="26.70" height="3.01" fill="#00b2ff"/>
<rect x="37.00" y="131.70" width="243.00" height="3.01" fill="#0000ad"/>
<rect x="63.70" y="131.70" width="216.30" height="3.01" fill="#0000c2"/>
<rect x="87.40" y="131.70" width="192.60" height="3.01" fill="#0000d6"/>
<rect x="111.10" y="131.70" width="168.90" height="3.01" fill="#0000eb"/>
<rect x="134.80" y="131.70" width="145.20" height="3.01" fill="#0000ff"/>
<rect x="158.50" y="131.70" width="121.50" height="3.01" fill="#0006ff"/>
<rect x="182.20" y="131.70" width="97.80" height="3.01" fill="#0000fd"/>
<rect x="205.90" y="131.70" width="74.10" height="3.01" fill="#0000f5"/>
<rect x="229.60" y="131.70" width="50.40" height="3.01" fill="#0000ed"/>
<rect x="253.30" y="131.70" width="26.70" height="3.01" fill="#0000e6"/>
<rect x="37.00" y="133.70" width="243.00" height="3.01" fill="#00009e"/>
<rect x="63.70" y="133.70" width="216.30" height="3.01" fill="#0000a4"/>
<rect x="87.40" y="133.70" width="192.60" height="3.01" fill="#0000a9"/>
<rect x="111.10" y="133.70" width="168.90" height="3.01" fill="#0000af"/>
<rect x="134.80" y="133.70" width="145.20" height="3.01" fill="#0000b5"/>
<rect x="158.50" y="133.70" width="121.50" height="3.01" fill="#0000ba"/>
<rect x="182.20" y="133.70" width="97.80" height="3.01" fill="#0000c0"/>
<rect x="205.90" y="133.70" width="74.10" height="3.01" fill="#0000c6"/>
<rect x="229.60" y="133.70" width="50.40" height="3.01" fill="#0000cb"/>
<rect x="253.30" y="133.70" width="26.70" height="3.01" fill="#0000d1"/>
<rect x="37.00" y="135.71" width="243.00" height="3.01" fill="#0000a3"/>
<rect x="63.70" y="135.71" width="216.30" height="3.01" fill="#0000af"/>
<rect x="87.40" y="135.71" width="192.60" height="3.01" fill="#0000ba"/>
<rect x="111.10" y="135.71" width="168.90" height="3.01" fill="#0000c5"/>
<rect x="134.80" y="135.71" width="145.20" height="3.01" fill="#0000d1"/>
<rect x="158.50" y="135.71" width="121.50" height="3.01" fill="#0000d8"/>
<rect x="182.20" y="135.71" width="97.80" height="3.01" fill="#0000db"/>
<rect x="205.90" y="135.71" width="74.10" height="3.01" fill="#0000df"/>
<rect x="229.60" y="135.71" width="50.40" height="3.01" fill="#0000e2"/>
<rect x="253.30" y="135.71" width="26.70" height="3.01" fill="#0000e6"/>
<rect x="37.00" y="137.72" width="243.00" height="3.01" fill="#0000a3"/>
<rect x="63.70" y="137.72" width="216.30" height="3.01" fill="#0000af"/>
<rect x="87.40" y="137.72" width="192.60" height="3.01" fill="#0000ba"/>
<rect x="111.10" y="137.72" width="168.90" height="3.01" fill="#0000c5"/>
<rect x="134.80" y="137.72" width="145.20" height="3.01" fill="#0000d1"/>
<rect x="158.50" y="137.72" width="121.50" height="3.01" fill="#0000d8"/>
<rect x="182.20" y="137.72" width="97.80" height="3.01" fill="#0000db"/>
<rect x="205.90" y="137.72" width="74.10" height="3.01" fill="#0000df"/>
<rect x="229.60" y="137.72" width="50.40" height="3.01" fill="#0000e2"/>
<rect x="253.30" y="137.72" width="26.70" height="3.01" fill="#0000e6"/>
<rect x="37.00" y="139.72" width="243.00" height="3.01" fill="#0000ad"/>
<rect x="63.70" y="139.72" width="216.30" height="3.01" fill="#0000cb"/>
<rect x="87.40" y="139.72" width="192.60" height="3.01" fill="#0000e8"/>
<rect x="111.10" y="139.72" width="168.90" height="3.01" fill="#0007ff"/>
<rect x="134.80" y="139.72" width="145.20" height="3.01" fill="#0024ff"/>
<rect x="158.50" y="139.72" width="121.50" height="3.01" fill="#0034ff"/>
<rect x="182.20" y="139.72" width="97.80" height="3.01" fill="#0035ff"/>
<rect x="205.90" y="139.72" width="74.10" height="3.01" fill="#0036ff"/>
<rect x="229.60" y="139.72" width="50.40" height="3.01" fill="#0037ff"/>
<rect x="253.30" y="139.72" width="26.70" height="3.01" fill="#0038ff"/>
<rect x="37.00" y="141.73" width="243.00" height="3.01" fill="#00009e"/>
<rect x="63.70" y="141.73" width="216.30" height="3.01" fill="#0000a3"/>
<rect x="87.40" y="141.73" width="192.60" height="3.01" fill="#0000a7"/>
<rect x="111.10" y="141.73" width="168.90" height="3.01" fill="#0000ac"/>
<rect x="134.80" y="141.73" width="145.20" height="3.01" fill="#0000b0"/>
<rect x="158.50" y="141.73" width="121.50" height="3.01" fill="#0000b5"/>
<rect x="182.20" y="141.73" width="97.80" height="3.01" fill="#0000b9"/>
<rect x="205.90" y="141.73" width="74.10" height="3.01" fill="#0000be"/>
<rect x="229.60" y="141.73" width="50.40" height="3.01" fill="#0000c2"/>
<rect x="253.30" y="141.73" width="26.70" height="3.01" fill="#0000c7"/>
<rect x="37.00" y="143.74" width="243.00" height="3.01" fill="#00009e"/>
<rect x="63.70" y="143.74" width="216.30" height="3.01" fill="#0000a2"/>
<rect x="87.40" y="143.74" width="192.60" height="3.01" fill="#0000a5"/>
<rect x="111.10" y="143.74" width="168.90" height="3.01" fill="#0000a8"/>
<rect x="134.80" y="143.74" width="145.20" height="3.01" fill="#0000ac"/>
<rect x="158.50" y="143.74" width="121.50" height="3.01" fill="#0000ae"/>
<rect x="182.20" y="143.74" width="97.80" height="3.01" fill="#0000af"/>
<rect x="205.90" y="143.74" width="74.10" height="3.01" fill="#0000b0"/>
<rect x="229.60" y="143.74" width="50.40" height="3.01" fill="#0000b1"/>
<rect x="253.30" y="143.74" width="26.70" height="3.01" fill="#0000b2"/>
<rect x="37.00" y="145.74" width="243.00" height="3.01" fill="#0000a3"/>
<rect x="63.70" y="145.74" width="216.30" height="3.01" fill="#0000af"/>
<rect x="87.40" y="145.74" width="192.60" height="3.01" fill="#0000ba"/>
<rect x="111.10" y="145.74" width="168.90" height="3.01" fill="#0000c5"/>
<rect x="134.80" y="145.74" width="145.20" height="3.01" fill="#0000d1"/>
<rect x="158.50" y="145.74" width="121.50" height="3.01" fill="#0000d8"/>
<rect x="182.20" y="145.74" width="97.80" height="3.01" fill="#0000db"/>
<rect x="205.90" y="145.74" width="74.10" height="3.01" fill="#0000df"/>
<rect x="229.60" y="145.74" width="50.40" height="3.01" fill="#0000e2"/>
<rect x="253.30" y="145.74" width="26.70" height="3.01" fill="#0000e6"/>
<rect x="37.00" y="147.75" width="243.00" height="3.01" fill="#00009e"/>
<rect x="63.70" y="147.75" width="216.30" height="3.01" fill="#0000a5"/>
<rect x="87.40" y="147.75" width="192.60" height="3.01" fill="#0000ac"/>
<rect x="111.10" y="147.75" width="168.90" height="3.01" fill="#0000b2"/>
<rect x="134.80" y="147.75" width="145.20" height="3.01" fill="#0000b9"/>
<rect x="158.50" y="147.75" width="121.50" height="3.01" fill="#0000bf"/>
<rect x="182.20" y="147.75" width="97.80" height="3.01" fill="#0000c3"/>
<rect x="205.90" y="147.75" width="74.10" height="3.01" fill="#0000c8"/>
<rect x="229.60" y="147.75" width="50.40" height="3.01" fill="#0000cd"/>
<rect x="253.30" y="147.75" width="26.70" height="3.01" fill="#0000d1"/>
<rect x="37.00" y="149.76" width="243.00" height="3.01" fill="#00009e"/>
<rect x="63.70" y="149.76" width="216.30" height="3.01" fill="#0000ac"/>
<rect x="87.40" y="149.76" width="192.60" height="3.01" fill="#0000ba"/>
<rect x="111.10" y="149.76" width="168.90" height="3.01" fill="#0000c9"/>
<rect x="134.80" y="149.76" width="145.20" height="3.01" fill="#0000d7"/>
<rect x="158.50" y="149.76" width="121.50" height="3.01" fill="#0000e4"/>
<rect x="182.20" y="149.76" width="97.80" height="3.01" fill="#0000f1"/>
<rect x="205.90" y="149.76" width="74.10" height="3.01" fill="#0000fe"/>
<rect x="229.60" y="149.76" width="50.40" height="3.01" fill="#000cff"/>
<rect x="253.30" y="149.76" width="26.70" height="3.01" fill="#0019ff"/>
<rect x="37.00" y="151.76" width="243.00" height="3.01" fill="#0000a3"/>
<rect x="63.70" y="151.76" width="216.30" height="3.01" fill="#0000ac"/>
<rect x="87.40" y="151.76" width="192.60" height="3.01" fill="#0000b5"/>
<rect x="111.10" y="151.76" width="168.90" height="3.01" fill="#0000be"/>
<rect x="134.80" y="151.76" width="145.20" height="3.01" fill="#0000c7"/>
<rect x="158.50" y="151.76" width="121.50" height="3.01" fill="#0000cf"/>
<rect x="182.20" y="151.76" width="97.80" height="3.01" fill="#0000d4"/>
<rect x="205.90" y="151.76" width="74.10" height="3.01" fill="#0000da"/>
<rect x="229.60" y="151.76" width="50.40" height="3.01" fill="#0000e0"/>
<rect x="253.30" y="151.76" width="26.70" height="3.01" fill="#0000e6"/>
<rect x="37.00" y="153.77" width="243.00" height="3.01" fill="#0000da"/>
<rect x="63.70" y="153.77" width="216.30" height="3.01" fill="#002bff"/>
<rect x="87.40" y="153.77" width="192.60" height="3.01" fill="#007aff"/>
<rect x="111.10" y="153.77" width="168.90" height="3.01" fill="#00caff"/>
<rect x="134.80" y="153.77" width="145.20" height="3.01" fill="#1bffe4"/>
<rect x="158.50" y="153.77" width="121.50" height="3.01" fill="#5cffa3"/>
<rect x="182.20" y="153.77" width="97.80" height="3.01" fill="#91ff6e"/>
<rect x="205.90" y="153.77" width="74.10" height="3.01" fill="#c5ff3a"/>
<rect x="229.60" y="153.77" width="50.40" height="3.01" fill="#f9ff06"/>
<rect x="253.30" y="153.77" width="26.70" height="3.01" fill="#ffd100"/>
<rect x="37.00" y="155.78" width="243.00" height="3.01" fill="#0000e7"/>
<rect x="63.70" y="155.78" width="216.30" height="3.01" fill="#0040ff"/>
<rect x="87.40" y="155.78" width="192.60" height="3.01" fill="#0098ff"/>
<rect x="111.10" y="155.78" width="168.90" height="3.01" fill="#00f0ff"/>
<rect x="134.80" y="155.78" width="145.20" height="3.01" fill="#49ffb6"/>
<rect x="158.50" y="155.78" width="121.50" height="3.01" fill="#90ff6f"/>
<rect x="182.20" y="155.78" width="97.80" height="3.01" fill="#c7ff38"/>
<rect x="205.90" y="155.78" width="74.10" height="3.01" fill="#fdff02"/>
<rect x="229.60" y="155.78" width="50.40" height="3.01" fill="#ffca00"/>
<rect x="253.30" y="155.78" width="26.70" height="3.01" fill="#ff9400"/>
<rect x="37.00" y="157.78" width="243.00" height="3.01" fill="#0000c8"/>
<rect x="63.70" y="157.78" width="216.30" height="3.01" fill="#0000ff"/>
<rect x="87.40" y="157.78" width="192.60" height="3.01" fill="#0038ff"/>
<rect x="111.10" y="157.78" width="168.90" height="3.01" fill="#006fff"/>
<rect x="134.80" y="157.78" width="145.20" height="3.01" fill="#00a6ff"/>
<rect x="158.50" y="157.78" width="121.50" height="3.01" fill="#00f3ff"/>
<rect x="182.20" y="157.78" width="97.80" height="3.01" fill="#57ffa8"/>
<rect x="205.90" y="157.78" width="74.10" height="3.01" fill="#b9ff46"/>
<rect x="229.60" y="157.78" width="50.40" height="3.01" fill="#ffe200"/>
<rect x="253.30" y="157.78" width="26.70" height="3.01" fill="#ff8000"/>
<rect x="37.00" y="159.79" width="243.00" height="3.01" fill="#0000f3"/>
<rect x="63.70" y="159.79" width="216.30" height="3.01" fill="#0046ff"/>
<rect x="87.40" y="159.79" width="192.60" height="3.01" fill="#0098ff"/>
<rect x="111.10" y="159.79" width="168.90" height="3.01" fill="#00eaff"/>
<rect x="134.80" y="159.79" width="145.20" height="3.01" fill="#3dffc2"/>
<rect x="158.50" y="159.79" width="121.50" height="3.01" fill="#8bff74"/>
<rect x="182.20" y="159.79" width="97.80" height="3.01" fill="#d5ff2a"/>
<rect x="205.90" y="159.79" width="74.10" height="3.01" fill="#ffe000"/>
<rect x="229.60" y="159.79" width="50.40" height="3.01" fill="#ff9600"/>
<rect x="253.30" y="159.79" width="26.70" height="3.01" fill="#ff4c00"/>
<rect x="37.00" y="161.80" width="243.00" height="3.01" fill="#0000d4"/>
<rect x="63.70" y="161.80" width="216.30" height="3.01" fill="#0020ff"/>
<rect x="87.40" y="161.80" width="192.60" height="3.01" fill="#006cff"/>
<rect x="111.10" y="161.80" width="168.90" height="3.01" fill="#00b7ff"/>
<rect x="134.80" y="161.80" width="145.20" height="3.01" fill="#03fffc"/>
<rect x="158.50" y="161.80" width="121.50" height="3.01" fill="#51ffae"/>
<rect x="182.20" y="161.80" width="97.80" height="3.01" fill="#a2ff5e"/>
<rect x="205.90" y="161.80" width="74.10" height="3.01" fill="#f2ff0d"/>
<rect x="229.60" y="161.80" width="50.40" height="3.01" fill="#ffbc00"/>
<rect x="253.30" y="161.80" width="26.70" height="3.01" fill="#ff6b00"/>
<rect x="37.00" y="163.80" width="243.00" height="3.01" fill="#0006ff"/>
<rect x="63.70" y="163.80" width="216.30" height="3.01" fill="#007cff"/>
<rect x="87.40" y="163.80" width="192.60" height="3.01" fill="#00f1ff"/>
<rect x="111.10" y="163.80" width="168.90" height="3.01" fill="#68ff97"/>
<rect x="134.80" y="163.80" width="145.20" height="3.01" fill="#deff21"/>
<rect x="158.50" y="163.80" width="121.50" height="3.01" fill="#ffc700"/>
<rect x="182.20" y="163.80" width="97.80" height="3.01" fill="#ff8a00"/>
<rect x="205.90" y="163.80" width="74.10" height="3.01" fill="#ff4d00"/>
<rect x="229.60" y="163.80" width="50.40" height="3.01" fill="#ff0f00"/>
<rect x="253.30" y="163.80" width="26.70" height="3.01" fill="#d10000"/>
<rect x="37.00" y="165.81" width="243.00" height="3.01" fill="#0000c8"/>
<rect x="63.70" y="165.81" width="216.30" height="3.01" fill="#000eff"/>
<rect x="87.40" y="165.81" width="192.60" height="3.01" fill="#0053ff"/>
<rect x="111.10" y="165.81" width="168.90" height="3.01" fill="#0098ff"/>
<rect x="134.80" y="165.81" width="145.20" height="3.01" fill="#00ddff"/>
<rect x="158.50" y="165.81" width="121.50" height="3.01" fill="#25ffda"/>
<rect x="182.20" y="165.81" width="97.80" height="3.01" fill="#6eff90"/>
<rect x="205.90" y="165.81" width="74.10" height="3.01" fill="#b8ff47"/>
<rect x="229.60" y="165.81" width="50.40" height="3.01" fill="#fffc00"/>
<rect x="253.30" y="165.81" width="26.70" height="3.01" fill="#ffb300"/>
<rect x="37.00" y="167.82" width="243.00" height="3.01" fill="#0000c8"/>
<rect x="63.70" y="167.82" width="216.30" height="3.01" fill="#0000ff"/>
<rect x="87.40" y="167.82" width="192.60" height="3.01" fill="#0038ff"/>
<rect x="111.10" y="167.82" width="168.90" height="3.01" fill="#006fff"/>
<rect x="134.80" y="167.82" width="145.20" height="3.01" fill="#00a6ff"/>
<rect x="158.50" y="167.82" width="121.50" height="3.01" fill="#00e8ff"/>
<rect x="182.20" y="167.82" width="97.80" height="3.01" fill="#35ffca"/>
<rect x="205.90" y="167.82" width="74.10" height="3.01" fill="#81ff7e"/>
<rect x="229.60" y="167.82" width="50.40" height="3.01" fill="#cdff32"/>
<rect x="253.30" y="167.82" width="26.70" height="3.01" fill="#ffe500"/>
<rect x="37.00" y="169.82" width="243.00" height="3.01" fill="#0000d4"/>
<rect x="63.70" y="169.82" width="216.30" height="3.01" fill="#0017ff"/>
<rect x="87.40" y="169.82" width="192.60" height="3.01" fill="#005aff"/>
<rect x="111.10" y="169.82" width="168.90" height="3.01" fill="#009cff"/>
<rect x="134.80" y="169.82" width="145.20" height="3.01" fill="#00deff"/>
<rect x="158.50" y="169.82" width="121.50" height="3.01" fill="#2bffd4"/>
<rect x="182.20" y="169.82" width="97.80" height="3.01" fill="#80ff80"/>
<rect x="205.90" y="169.82" width="74.10" height="3.01" fill="#d5ff2a"/>
<rect x="229.60" y="169.82" width="50.40" height="3.01" fill="#ffd400"/>
<rect x="253.30" y="169.82" width="26.70" height="3.01" fill="#ff8000"/>
<rect x="37.00" y="171.83" width="243.00" height="3.01" fill="#0000e7"/>
<rect x="63.70" y="171.83" width="216.30" height="3.01" fill="#0046ff"/>
<rect x="87.40" y="171.83" width="192.60" height="3.01" fill="#00a5ff"/>
<rect x="111.10" y="171.83" width="168.90" height="3.01" fill="#05fffa"/>
<rect x="134.80" y="171.83" width="145.20" height="3.01" fill="#64ff9b"/>
<rect x="158.50" y="171.83" width="121.50" height="3.01" fill="#bdff42"/>
<rect x="182.20" y="171.83" width="97.80" height="3.01" fill="#fff000"/>
<rect x="205.90" y="171.83" width="74.10" height="3.01" fill="#ff9e00"/>
<rect x="229.60" y="171.83" width="50.40" height="3.01" fill="#ff4c00"/>
<rect x="253.30" y="171.83" width="26.70" height="3.01" fill="#fa0000"/>
<rect x="37.00" y="173.84" width="243.00" height="3.01" fill="#0000c8"/>
<rect x="63.70" y="173.84" width="216.30" height="3.01" fill="#0000ff"/>
<rect x="87.40" y="173.84" width="192.60" height="3.01" fill="#0038ff"/>
<rect x="111.10" y="173.84" width="168.90" height="3.01" fill="#006fff"/>
<rect x="134.80" y="173.84" width="145.20" height="3.01" fill="#00a6ff"/>
<rect x="158.50" y="173.84" width="121.50" height="3.01" fill="#00dcff"/>
<rect x="182.20" y="173.84" width="97.80" height="3.01" fill="#13ffec"/>
<rect x="205.90" y="173.84" width="74.10" height="3.01" fill="#48ffb7"/>
<rect x="229.60" y="173.84" width="50.40" height="3.01" fill="#7dff82"/>
<rect x="253.30" y="173.84" width="26.70" height="3.01" fill="#b3ff4c"/>
<rect x="37.00" y="175.85" width="243.00" height="3.01" fill="#0000d4"/>
<rect x="63.70" y="175.85" width="216.30" height="3.01" fill="#0013ff"/>
<rect x="87.40" y="175.85" width="192.60" height="3.01" fill="#0050ff"/>
<rect x="111.10" y="175.85" width="168.90" height="3.01" fill="#008eff"/>
<rect x="134.80" y="175.85" width="145.20" height="3.01" fill="#00ccff"/>
<rect x="158.50" y="175.85" width="121.50" height="3.01" fill="#05fffa"/>
<rect x="182.20" y="175.85" width="97.80" height="3.01" fill="#38ffc7"/>
<rect x="205.90" y="175.85" width="74.10" height="3.01" fill="#6bff94"/>
<rect x="229.60" y="175.85" width="50.40" height="3.01" fill="#9eff61"/>
<rect x="253.30" y="175.85" width="26.70" height="3.01" fill="#d1ff2e"/>
<rect x="37.00" y="177.85" width="243.00" height="3.01" fill="#0000b8"/>
<rect x="63.70" y="177.85" width="216.30" height="3.01" fill="#0000e4"/>
<rect x="87.40" y="177.85" width="192.60" height="3.01" fill="#0011ff"/>
<rect x="111.10" y="177.85" width="168.90" height="3.01" fill="#003dff"/>
<rect x="134.80" y="177.85" width="145.20" height="3.01" fill="#0069ff"/>
<rect x="158.50" y="177.85" width="121.50" height="3.01" fill="#009cff"/>
<rect x="182.20" y="177.85" width="97.80" height="3.01" fill="#00d4ff"/>
<rect x="205.90" y="177.85" width="74.10" height="3.01" fill="#0efff1"/>
<rect x="229.60" y="177.85" width="50.40" height="3.01" fill="#47ffb8"/>
<rect x="253.30" y="177.85" width="26.70" height="3.01" fill="#80ff80"/>
<rect x="37.00" y="179.86" width="243.00" height="3.01" fill="#0000da"/>
<rect x="63.70" y="179.86" width="216.30" height="3.01" fill="#001cff"/>
<rect x="87.40" y="179.86" width="192.60" height="3.01" fill="#005dff"/>
<rect x="111.10" y="179.86" width="168.90" height="3.01" fill="#009eff"/>
<rect x="134.80" y="179.86" width="145.20" height="3.01" fill="#00dfff"/>
<rect x="158.50" y="179.86" width="121.50" height="3.01" fill="#1affe5"/>
<rect x="182.20" y="179.86" width="97.80" height="3.01" fill="#4dffb2"/>
<rect x="205.90" y="179.86" width="74.10" height="3.01" fill="#80ff80"/>
<rect x="229.60" y="179.86" width="50.40" height="3.01" fill="#b2ff4d"/>
<rect x="253.30" y="179.86" width="26.70" height="3.01" fill="#e5ff1a"/>
<rect x="37.00" y="181.87" width="243.00" height="3.01" fill="#0000e7"/>
<rect x="63.70" y="181.87" width="216.30" height="3.01" fill="#004bff"/>
<rect x="87.40" y="181.87" width="192.60" height="3.01" fill="#00afff"/>
<rect x="111.10" y="181.87" width="168.90" height="3.01" fill="#13ffec"/>
<rect x="134.80" y="181.87" width="145.20" height="3.01" fill="#77ff88"/>
<rect x="158.50" y="181.87" width="121.50" height="3.01" fill="#c6ff39"/>
<rect x="182.20" y="181.87" width="97.80" height="3.01" fill="#fffd00"/>
<rect x="205.90" y="181.87" width="74.10" height="3.01" fill="#ffc200"/>
<rect x="229.60" y="181.87" width="50.40" height="3.01" fill="#ff8700"/>
<rect x="253.30" y="181.87" width="26.70" height="3.01" fill="#ff4c00"/>
<rect x="37.00" y="183.87" width="243.00" height="3.01" fill="#0000b8"/>
<rect x="63.70" y="183.87" width="216.30" height="3.01" fill="#0000e4"/>
<rect x="87.40" y="183.87" width="192.60" height="3.01" fill="#0011ff"/>
<rect x="111.10" y="183.87" width="168.90" height="3.01" fill="#003dff"/>
<rect x="134.80" y="183.87" width="145.20" height="3.01" fill="#0069ff"/>
<rect x="158.50" y="183.87" width="121.50" height="3.01" fill="#008bff"/>
<rect x="182.20" y="183.87" width="97.80" height="3.01" fill="#00a2ff"/>
<rect x="205.90" y="183.87" width="74.10" height="3.01" fill="#00b8ff"/>
<rect x="229.60" y="183.87" width="50.40" height="3.01" fill="#00cfff"/>
<rect x="253.30" y="183.87" width="26.70" height="3.01" fill="#00e5ff"/>
<rect x="37.00" y="185.88" width="243.00" height="3.01" fill="#0000a3"/>
<rect x="63.70" y="185.88" width="216.30" height="3.01" fill="#0000c3"/>
<rect x="87.40" y="185.88" width="192.60" height="3.01" fill="#0000e3"/>
<rect x="111.10" y="185.88" width="168.90" height="3.01" fill="#0003ff"/>
<rect x="134.80" y="185.88" width="145.20" height="3.01" fill="#0023ff"/>
<rect x="158.50" y="185.88" width="121.50" height="3.01" fill="#0030ff"/>
<rect x="182.20" y="185.88" width="97.80" height="3.01" fill="#002aff"/>
<rect x="205.90" y="185.88" width="74.10" height="3.01" fill="#0025ff"/>
<rect x="229.60" y="185.88" width="50.40" height="3.01" fill="#001fff"/>
<rect x="253.30" y="185.88" width="26.70" height="3.01" fill="#0019ff"/>
<rect x="37.00" y="187.89" width="243.00" height="3.01" fill="#0000b8"/>
<rect x="63.70" y="187.89" width="216.30" height="3.01" fill="#0000f8"/>
<rect x="87.40" y="187.89" width="192.60" height="3.01" fill="#003aff"/>
<rect x="111.10" y="187.89" width="168.90" height="3.01" fill="#007aff"/>
<rect x="134.80" y="187.89" width="145.20" height="3.01" fill="#00bbff"/>
<rect x="158.50" y="187.89" width="121.50" height="3.01" fill="#00e5ff"/>
<rect x="182.20" y="187.89" width="97.80" height="3.01" fill="#00faff"/>
<rect x="205.90" y="187.89" width="74.10" height="3.01" fill="#0ffff0"/>
<rect x="229.60" y="187.89" width="50.40" height="3.01" fill="#24ffdb"/>
<rect x="253.30" y="187.89" width="26.70" height="3.01" fill="#38ffc7"/>
<rect x="37.00" y="189.89" width="243.00" height="3.01" fill="#0000b8"/>
<rect x="63.70" y="189.89" width="216.30" height="3.01" fill="#0000f8"/>
<rect x="87.40" y="189.89" width="192.60" height="3.01" fill="#003aff"/>
<rect x="111.10" y="189.89" width="168.90" height="3.01" fill="#007aff"/>
<rect x="134.80" y="189.89" width="145.20" height="3.01" fill="#00bbff"/>
<rect x="158.50" y="189.89" width="121.50" height="3.01" fill="#00e5ff"/>
<rect x="182.20" y="189.89" width="97.80" height="3.01" fill="#00faff"/>
<rect x="205.90" y="189.89" width="74.10" height="3.01" fill="#0ffff0"/>
<rect x="229.60" y="189.89" width="50.40" height="3.01" fill="#24ffdb"/>
<rect x="253.30" y="189.89" width="26.70" height="3.01" fill="#38ffc7"/>
<rect x="37.00" y="191.90" width="243.00" height="3.01" fill="#00009e"/>
<rect x="63.70" y="191.90" width="216.30" height="3.01" fill="#0000b2"/>
<rect x="87.40" y="191.90" width="192.60" height="3.01" fill="#0000c6"/>
<rect x="111.10" y="191.90" width="168.90" height="3.01" fill="#0000da"/>
<rect x="134.80" y="191.90" width="145.20" height="3.01" fill="#0000ed"/>
<rect x="158.50" y="191.90" width="121.50" height="3.01" fill="#0000f8"/>
<rect x="182.20" y="191.90" width="97.80" height="3.01" fill="#0000f8"/>
<rect x="205.90" y="191.90" width="74.10" height="3.01" fill="#0000f9"/>
<rect x="229.60" y="191.90" width="50.40" height="3.01" fill="#0000f9"/>
<rect x="253.30" y="191.90" width="26.70" height="3.01" fill="#0000fa"/>
<rect x="37.00" y="193.91" width="243.00" height="3.01" fill="#0000ad"/>
<rect x="63.70" y="193.91" width="216.30" height="3.01" fill="#0000c9"/>
<rect x="87.40" y="193.91" width="192.60" height="3.01" fill="#0000e4"/>
<rect x="111.10" y="193.91" width="168.90" height="3.01" fill="#0000ff"/>
<rect x="134.80" y="193.91" width="145.20" height="3.01" fill="#001bff"/>
<rect x="158.50" y="193.91" width="121.50" height="3.01" fill="#002aff"/>
<rect x="182.20" y="193.91" width="97.80" height="3.01" fill="#002eff"/>
<rect x="205.90" y="193.91" width="74.10" height="3.01" fill="#0031ff"/>
<rect x="229.60" y="193.91" width="50.40" height="3.01" fill="#0035ff"/>
<rect x="253.30" y="193.91" width="26.70" height="3.01" fill="#0038ff"/>
<rect x="37.00" y="195.91" width="243.00" height="3.01" fill="#0000a3"/>
<rect x="63.70" y="195.91" width="216.30" height="3.01" fill="#0000b6"/>
<rect x="87.40" y="195.91" width="192.60" height="3.01" fill="#0000ca"/>
<rect x="111.10" y="195.91" width="168.90" height="3.01" fill="#0000dd"/>
<rect x="134.80" y="195.91" width="145.20" height="3.01" fill="#0000f0"/>
<rect x="158.50" y="195.91" width="121.50" height="3.01" fill="#0000f5"/>
<rect x="182.20" y="195.91" width="97.80" height="3.01" fill="#0000ec"/>
<rect x="205.90" y="195.91" width="74.10" height="3.01" fill="#0000e3"/>
<rect x="229.60" y="195.91" width="50.40" height="3.01" fill="#0000da"/>
<rect x="253.30" y="195.91" width="26.70" height="3.01" fill="#0000d1"/>
<rect x="37.00" y="197.92" width="243.00" height="3.01" fill="#00009e"/>
<rect x="63.70" y="197.92" width="216.30" height="3.01" fill="#0000a8"/>
<rect x="87.40" y="197.92" width="192.60" height="3.01" fill="#0000b2"/>
<rect x="111.10" y="197.92" width="168.90" height="3.01" fill="#0000bd"/>
<rect x="134.80" y="197.92" width="145.20" height="3.01" fill="#0000c7"/>
<rect x="158.50" y="197.92" width="121.50" height="3.01" fill="#0000cf"/>
<rect x="182.20" y="197.92" width="97.80" height="3.01" fill="#0000d4"/>
<rect x="205.90" y="197.92" width="74.10" height="3.01" fill="#0000da"/>
<rect x="229.60" y="197.92" width="50.40" height="3.01" fill="#0000e0"/>
<rect x="253.30" y="197.92" width="26.70" height="3.01" fill="#0000e6"/>
<rect x="37.00" y="199.93" width="243.00" height="3.01" fill="#0000c8"/>
<rect x="63.70" y="199.93" width="216.30" height="3.01" fill="#0006ff"/>
<rect x="87.40" y="199.93" width="192.60" height="3.01" fill="#0043ff"/>
<rect x="111.10" y="199.93" width="168.90" height="3.01" fill="#0080ff"/>
<rect x="134.80" y="199.93" width="145.20" height="3.01" fill="#00bdff"/>
<rect x="158.50" y="199.93" width="121.50" height="3.01" fill="#00e8ff"/>
<rect x="182.20" y="199.93" width="97.80" height="3.01" fill="#02fffd"/>
<rect x="205.90" y="199.93" width="74.10" height="3.01" fill="#1bffe4"/>
<rect x="229.60" y="199.93" width="50.40" height="3.01" fill="#34ffcb"/>
<rect x="253.30" y="199.93" width="26.70" height="3.01" fill="#4dffb2"/>
<rect x="37.00" y="201.93" width="243.00" height="3.01" fill="#0000ad"/>
<rect x="63.70" y="201.93" width="216.30" height="3.01" fill="#0000c3"/>
<rect x="87.40" y="201.93" width="192.60" height="3.01" fill="#0000da"/>
<rect x="111.10" y="201.93" width="168.90" height="3.01" fill="#0000f0"/>
<rect x="134.80" y="201.93" width="145.20" height="3.01" fill="#0007ff"/>
<rect x="158.50" y="201.93" width="121.50" height="3.01" fill="#002fff"/>
<rect x="182.20" y="201.93" width="97.80" height="3.01" fill="#0069ff"/>
<rect x="205.90" y="201.93" width="74.10" height="3.01" fill="#00a4ff"/>
<rect x="229.60" y="201.93" width="50.40" height="3.01" fill="#00deff"/>
<rect x="253.30" y="201.93" width="26.70" height="3.01" fill="#1affe5"/>
<rect x="37.00" y="203.94" width="243.00" height="3.01" fill="#0000d4"/>
<rect x="63.70" y="203.94" width="216.30" height="3.01" fill="#000fff"/>
<rect x="87.40" y="203.94" width="192.60" height="3.01" fill="#004aff"/>
<rect x="111.10" y="203.94" width="168.90" height="3.01" fill="#0084ff"/>
<rect x="134.80" y="203.94" width="145.20" height="3.01" fill="#00beff"/>
<rect x="158.50" y="203.94" width="121.50" height="3.01" fill="#00e4ff"/>
<rect x="182.20" y="203.94" width="97.80" height="3.01" fill="#00f6ff"/>
<rect x="205.90" y="203.94" width="74.10" height="3.01" fill="#0afff5"/>
<rect x="229.60" y="203.94" width="50.40" height="3.01" fill="#1cffe3"/>
<rect x="253.30" y="203.94" width="26.70" height="3.01" fill="#2effd1"/>
<rect x="37.00" y="205.95" width="243.00" height="3.01" fill="#0000c8"/>
<rect x="63.70" y="205.95" width="216.30" height="3.01" fill="#0002ff"/>
<rect x="87.40" y="205.95" width="192.60" height="3.01" fill="#003cff"/>
<rect x="111.10" y="205.95" width="168.90" height="3.01" fill="#0076ff"/>
<rect x="134.80" y="205.95" width="145.20" height="3.01" fill="#00afff"/>
<rect x="158.50" y="205.95" width="121.50" height="3.01" fill="#00d4ff"/>
<rect x="182.20" y="205.95" width="97.80" height="3.01" fill="#00e5ff"/>
<rect x="205.90" y="205.95" width="74.10" height="3.01" fill="#00f6ff"/>
<rect x="229.60" y="205.95" width="50.40" height="3.01" fill="#09fff6"/>
<rect x="253.30" y="205.95" width="26.70" height="3.01" fill="#1affe5"/>
<rect x="37.00" y="207.95" width="243.00" height="3.01" fill="#0000a3"/>
<rect x="63.70" y="207.95" width="216.30" height="3.01" fill="#0000ac"/>
<rect x="87.40" y="207.95" width="192.60" height="3.01" fill="#0000b5"/>
<rect x="111.10" y="207.95" width="168.90" height="3.01" fill="#0000be"/>
<rect x="134.80" y="207.95" width="145.20" height="3.01" fill="#0000c7"/>
<rect x="158.50" y="207.95" width="121.50" height="3.01" fill="#0000d1"/>
<rect x="182.20" y="207.95" width="97.80" height="3.01" fill="#0000db"/>
<rect x="205.90" y="207.95" width="74.10" height="3.01" fill="#0000e6"/>
<rect x="229.60" y="207.95" width="50.40" height="3.01" fill="#0000f0"/>
<rect x="253.30" y="207.95" width="26.70" height="3.01" fill="#0000fa"/>
<rect x="37.00" y="209.96" width="243.00" height="3.01" fill="#0000c8"/>
<rect x="63.70" y="209.96" width="216.30" height="3.01" fill="#0000ed"/>
<rect x="87.40" y="209.96" width="192.60" height="3.01" fill="#0013ff"/>
<rect x="111.10" y="209.96" width="168.90" height="3.01" fill="#0038ff"/>
<rect x="134.80" y="209.96" width="145.20" height="3.01" fill="#005eff"/>
<rect x="158.50" y="209.96" width="121.50" height="3.01" fill="#007bff"/>
<rect x="182.20" y="209.96" width="97.80" height="3.01" fill="#0090ff"/>
<rect x="205.90" y="209.96" width="74.10" height="3.01" fill="#00a6ff"/>
<rect x="229.60" y="209.96" width="50.40" height="3.01" fill="#00bcff"/>
<rect x="253.30" y="209.96" width="26.70" height="3.01" fill="#00d1ff"/>
<rect x="37.00" y="211.97" width="243.00" height="3.01" fill="#0000a3"/>
<rect x="63.70" y="211.97" width="216.30" height="3.01" fill="#0000aa"/>
<rect x="87.40" y="211.97" width="192.60" height="3.01" fill="#0000b1"/>
<rect x="111.10" y="211.97" width="168.90" height="3.01" fill="#0000b8"/>
<rect x="134.80" y="211.97" width="145.20" height="3.01" fill="#0000be"/>
<rect x="158.50" y="211.97" width="121.50" height="3.01" fill="#0000c6"/>
<rect x="182.20" y="211.97" width="97.80" height="3.01" fill="#0000ce"/>
<rect x="205.90" y="211.97" width="74.10" height="3.01" fill="#0000d6"/>
<rect x="229.60" y="211.97" width="50.40" height="3.01" fill="#0000de"/>
<rect x="253.30" y="211.97" width="26.70" height="3.01" fill="#0000e6"/>
<rect x="37.00" y="213.97" width="243.00" height="3.01" fill="#0000ad"/>
<rect x="63.70" y="213.97" width="216.30" height="3.01" fill="#0000b6"/>
<rect x="87.40" y="213.97" width="192.60" height="3.01" fill="#0000c0"/>
<rect x="111.10" y="213.97" width="168.90" height="3.01" fill="#0000c9"/>
<rect x="134.80" y="213.97" width="145.20" height="3.01" fill="#0000d2"/>
<rect x="158.50" y="213.97" width="121.50" height="3.01" fill="#0000d2"/>
<rect x="182.20" y="213.97" width="97.80" height="3.01" fill="#0000ca"/>
<rect x="205.90" y="213.97" width="74.10" height="3.01" fill="#0000c2"/>
<rect x="229.60" y="213.97" width="50.40" height="3.01" fill="#0000ba"/>
<rect x="253.30" y="213.97" width="26.70" height="3.01" fill="#0000b2"/>
<rect x="37.00" y="215.98" width="243.00" height="3.01" fill="#0000ad"/>
<rect x="63.70" y="215.98" width="216.30" height="3.01" fill="#0000c5"/>
<rect x="87.40" y="215.98" width="192.60" height="3.01" fill="#0000dd"/>
<rect x="111.10" y="215.98" width="168.90" height="3.01" fill="#0000f5"/>
<rect x="134.80" y="215.98" width="145.20" height="3.01" fill="#000eff"/>
<rect x="158.50" y="215.98" width="121.50" height="3.01" fill="#001fff"/>
<rect x="182.20" y="215.98" width="97.80" height="3.01" fill="#002aff"/>
<rect x="205.90" y="215.98" width="74.10" height="3.01" fill="#0036ff"/>
<rect x="229.60" y="215.98" width="50.40" height="3.01" fill="#0041ff"/>
<rect x="253.30" y="215.98" width="26.70" height="3.01" fill="#004dff"/>
<rect x="37.00" y="217.99" width="243.00" height="3.01" fill="#0000ad"/>
<rect x="63.70" y="217.99" width="216.30" height="3.01" fill="#0000b6"/>
<rect x="87.40" y="217.99" width="192.60" height="3.01" fill="#0000c0"/>
<rect x="111.10" y="217.99" width="168.90" height="3.01" fill="#0000c9"/>
<rect x="134.80" y="217.99" width="145.20" height="3.01" fill="#0000d2"/>
<rect x="158.50" y="217.99" width="121.50" height="3.01" fill="#0000d8"/>
<rect x="182.20" y="217.99" width="97.80" height="3.01" fill="#0000db"/>
<rect x="205.90" y="217.99" width="74.10" height="3.01" fill="#0000df"/>
<rect x="229.60" y="217.99" width="50.40" height="3.01" fill="#0000e2"/>
<rect x="253.30" y="217.99" width="26.70" height="3.01" fill="#0000e6"/>
<rect x="37.00" y="219.99" width="243.00" height="5.01" fill="#0000b8"/>
<rect x="63.70" y="219.99" width="216.30" height="5.01" fill="#0000c6"/>
<rect x="87.40" y="219.99" width="192.60" height="5.01" fill="#0000d5"/>
<rect x="111.10" y="219.99" width="168.90" height="5.01" fill="#0000e4"/>
<rect x="134.80" y="219.99" width="145.20" height="5.01" fill="#0000f3"/>
<rect x="158.50" y="219.99" width="121.50" height="5.01" fill="#0000fa"/>
<rect x="182.20" y="219.99" width="97.80" height="5.01" fill="#0000fa"/>
<rect x="205.90" y="219.99" width="74.10" height="5.01" fill="#0000fa"/>
<rect x="229.60" y="219.99" width="50.40" height="5.01" fill="#0000fa"/>
<rect x="253.30" y="219.99" width="26.70" height="5.01" fill="#0000fa"/>
</g></g>
<line x1="75.55" y1="13.30" x2="75.55" y2="222.00" stroke="#262626" stroke-opacity="0.13" stroke-width="0.6"/>
<line x1="75.55" y1="222.00" x2="75.55" y2="219.80" stroke="#262626" stroke-opacity="0.7" stroke-width="0.5"/>
<line x1="75.55" y1="13.30" x2="75.55" y2="15.50" stroke="#262626" stroke-opacity="0.7" stroke-width="0.5"/>
<text x="75.55" y="234.80" class="tk" text-anchor="middle">2</text>
<line x1="122.95" y1="13.30" x2="122.95" y2="222.00" stroke="#262626" stroke-opacity="0.13" stroke-width="0.6"/>
<line x1="122.95" y1="222.00" x2="122.95" y2="219.80" stroke="#262626" stroke-opacity="0.7" stroke-width="0.5"/>
<line x1="122.95" y1="13.30" x2="122.95" y2="15.50" stroke="#262626" stroke-opacity="0.7" stroke-width="0.5"/>
<text x="122.95" y="234.80" class="tk" text-anchor="middle">4</text>
<line x1="170.35" y1="13.30" x2="170.35" y2="222.00" stroke="#262626" stroke-opacity="0.13" stroke-width="0.6"/>
<line x1="170.35" y1="222.00" x2="170.35" y2="219.80" stroke="#262626" stroke-opacity="0.7" stroke-width="0.5"/>
<line x1="170.35" y1="13.30" x2="170.35" y2="15.50" stroke="#262626" stroke-opacity="0.7" stroke-width="0.5"/>
<text x="170.35" y="234.80" class="tk" text-anchor="middle">6</text>
<line x1="217.75" y1="13.30" x2="217.75" y2="222.00" stroke="#262626" stroke-opacity="0.13" stroke-width="0.6"/>
<line x1="217.75" y1="222.00" x2="217.75" y2="219.80" stroke="#262626" stroke-opacity="0.7" stroke-width="0.5"/>
<line x1="217.75" y1="13.30" x2="217.75" y2="15.50" stroke="#262626" stroke-opacity="0.7" stroke-width="0.5"/>
<text x="217.75" y="234.80" class="tk" text-anchor="middle">8</text>
<line x1="265.15" y1="13.30" x2="265.15" y2="222.00" stroke="#262626" stroke-opacity="0.13" stroke-width="0.6"/>
<line x1="265.15" y1="222.00" x2="265.15" y2="219.80" stroke="#262626" stroke-opacity="0.7" stroke-width="0.5"/>
<line x1="265.15" y1="13.30" x2="265.15" y2="15.50" stroke="#262626" stroke-opacity="0.7" stroke-width="0.5"/>
<text x="265.15" y="234.80" class="tk" text-anchor="middle">10</text>
<line x1="40.00" y1="65.47" x2="277.00" y2="65.47" stroke="#262626" stroke-opacity="0.13" stroke-width="0.6"/>
<line x1="40.00" y1="65.47" x2="42.20" y2="65.47" stroke="#262626" stroke-opacity="0.7" stroke-width="0.5"/>
<line x1="277.00" y1="65.47" x2="274.80" y2="65.47" stroke="#262626" stroke-opacity="0.7" stroke-width="0.5"/>
<text x="35.80" y="69.17" class="tk" text-anchor="end">2021</text>
<line x1="40.00" y1="169.82" x2="277.00" y2="169.82" stroke="#262626" stroke-opacity="0.13" stroke-width="0.6"/>
<line x1="40.00" y1="169.82" x2="42.20" y2="169.82" stroke="#262626" stroke-opacity="0.7" stroke-width="0.5"/>
<line x1="277.00" y1="169.82" x2="274.80" y2="169.82" stroke="#262626" stroke-opacity="0.7" stroke-width="0.5"/>
<text x="35.80" y="173.52" class="tk" text-anchor="end">2022</text>
<rect x="40.00" y="13.30" width="237.00" height="208.70" fill="none" stroke="#262626" stroke-opacity="0.3" stroke-width="0.5"/>
<text x="158.00" y="9.80" class="ti" text-anchor="middle">AE of dUT1 predictions (Experiment 4)</text>
<text x="158.50" y="247.60" class="lb" font-size="10.60" text-anchor="middle">Days in future</text>
<text transform="translate(10.10,118.05) rotate(-90)" class="lb" font-size="10.60" textLength="136.2" lengthAdjust="spacing" text-anchor="middle">Iteration year of the test data</text>
<text x="154.50" y="267.20" class="sf" text-anchor="middle">(a)</text>
<rect x="284.40" y="13.30" width="12.40" height="208.70" fill="url(#jet)"/>
<rect x="284.40" y="13.30" width="12.40" height="208.70" fill="none" stroke="#262626" stroke-opacity="0.45" stroke-width="0.6"/>
<line x1="296.80" y1="192.89" x2="295.00" y2="192.89" stroke="#262626" stroke-opacity="0.7" stroke-width="0.5"/>
<text x="299.70" y="195.59" class="cb">0.2</text>
<line x1="296.80" y1="162.81" x2="295.00" y2="162.81" stroke="#262626" stroke-opacity="0.7" stroke-width="0.5"/>
<text x="299.70" y="165.51" class="cb">0.4</text>
<line x1="296.80" y1="132.73" x2="295.00" y2="132.73" stroke="#262626" stroke-opacity="0.7" stroke-width="0.5"/>
<text x="299.70" y="135.43" class="cb">0.6</text>
<line x1="296.80" y1="102.65" x2="295.00" y2="102.65" stroke="#262626" stroke-opacity="0.7" stroke-width="0.5"/>
<text x="299.70" y="105.35" class="cb">0.8</text>
<line x1="296.80" y1="72.56" x2="295.00" y2="72.56" stroke="#262626" stroke-opacity="0.7" stroke-width="0.5"/>
<text x="299.70" y="75.26" class="cb">1</text>
<line x1="296.80" y1="42.48" x2="295.00" y2="42.48" stroke="#262626" stroke-opacity="0.7" stroke-width="0.5"/>
<text x="299.70" y="45.18" class="cb">1.2</text>
<text transform="translate(322.90,117.65) rotate(-90)" class="cl" text-anchor="middle">AE (ms)</text>
<clipPath id="cpb"><rect x="394.20" y="12.80" width="238.50" height="210.00"/></clipPath>
<g clip-path="url(#cpb)"><g filter="url(#vb)">
<rect x="391.20" y="9.80" width="244.50" height="6.02" fill="#00b2ff"/>
<rect x="418.05" y="9.80" width="217.65" height="6.02" fill="#00faff"/>
<rect x="441.90" y="9.80" width="193.80" height="6.02" fill="#00c7ff"/>
<rect x="465.75" y="9.80" width="169.95" height="6.02" fill="#004dff"/>
<rect x="489.60" y="9.80" width="146.10" height="6.02" fill="#004dff"/>
<rect x="513.45" y="9.80" width="122.25" height="6.02" fill="#004dff"/>
<rect x="537.30" y="9.80" width="98.40" height="6.02" fill="#004dff"/>
<rect x="561.15" y="9.80" width="74.55" height="6.02" fill="#0019ff"/>
<rect x="585.00" y="9.80" width="50.70" height="6.02" fill="#0019ff"/>
<rect x="608.85" y="9.80" width="26.85" height="6.02" fill="#0005ff"/>
<rect x="391.20" y="14.82" width="244.50" height="3.02" fill="#0000fa"/>
<rect x="418.05" y="14.82" width="217.65" height="3.02" fill="#0000fa"/>
<rect x="441.90" y="14.82" width="193.80" height="3.02" fill="#004dff"/>
<rect x="465.75" y="14.82" width="169.95" height="3.02" fill="#00b2ff"/>
<rect x="489.60" y="14.82" width="146.10" height="3.02" fill="#1affe5"/>
<rect x="513.45" y="14.82" width="122.25" height="3.02" fill="#4dffb2"/>
<rect x="537.30" y="14.82" width="98.40" height="3.02" fill="#6bff94"/>
<rect x="561.15" y="14.82" width="74.55" height="3.02" fill="#2effd1"/>
<rect x="585.00" y="14.82" width="50.70" height="3.02" fill="#4dffb2"/>
<rect x="608.85" y="14.82" width="26.85" height="3.02" fill="#05fffa"/>
<rect x="391.20" y="16.84" width="244.50" height="3.02" fill="#0075ff"/>
<rect x="418.05" y="16.84" width="217.65" height="3.02" fill="#00b2ff"/>
<rect x="441.90" y="16.84" width="193.80" height="3.02" fill="#00b2ff"/>
<rect x="465.75" y="16.84" width="169.95" height="3.02" fill="#0080ff"/>
<rect x="489.60" y="16.84" width="146.10" height="3.02" fill="#0080ff"/>
<rect x="513.45" y="16.84" width="122.25" height="3.02" fill="#00b2ff"/>
<rect x="537.30" y="16.84" width="98.40" height="3.02" fill="#009eff"/>
<rect x="561.15" y="16.84" width="74.55" height="3.02" fill="#00b2ff"/>
<rect x="585.00" y="16.84" width="50.70" height="3.02" fill="#0061ff"/>
<rect x="608.85" y="16.84" width="26.85" height="3.02" fill="#0019ff"/>
<rect x="391.20" y="18.86" width="244.50" height="3.02" fill="#0019ff"/>
<rect x="418.05" y="18.86" width="217.65" height="3.02" fill="#004dff"/>
<rect x="441.90" y="18.86" width="193.80" height="3.02" fill="#0019ff"/>
<rect x="465.75" y="18.86" width="169.95" height="3.02" fill="#00d1ff"/>
<rect x="489.60" y="18.86" width="146.10" height="3.02" fill="#00d1ff"/>
<rect x="513.45" y="18.86" width="122.25" height="3.02" fill="#00b2ff"/>
<rect x="537.30" y="18.86" width="98.40" height="3.02" fill="#0038ff"/>
<rect x="561.15" y="18.86" width="74.55" height="3.02" fill="#0000fa"/>
<rect x="585.00" y="18.86" width="50.70" height="3.02" fill="#0000e6"/>
<rect x="608.85" y="18.86" width="26.85" height="3.02" fill="#0000fa"/>
<rect x="391.20" y="20.88" width="244.50" height="3.02" fill="#0000fa"/>
<rect x="418.05" y="20.88" width="217.65" height="3.02" fill="#002eff"/>
<rect x="441.90" y="20.88" width="193.80" height="3.02" fill="#0019ff"/>
<rect x="465.75" y="20.88" width="169.95" height="3.02" fill="#0000f0"/>
<rect x="489.60" y="20.88" width="146.10" height="3.02" fill="#0000fa"/>
<rect x="513.45" y="20.88" width="122.25" height="3.02" fill="#004dff"/>
<rect x="537.30" y="20.88" width="98.40" height="3.02" fill="#0057ff"/>
<rect x="561.15" y="20.88" width="74.55" height="3.02" fill="#0000e6"/>
<rect x="585.00" y="20.88" width="50.70" height="3.02" fill="#0000b2"/>
<rect x="608.85" y="20.88" width="26.85" height="3.02" fill="#0019ff"/>
<rect x="391.20" y="22.90" width="244.50" height="3.02" fill="#0000fa"/>
<rect x="418.05" y="22.90" width="217.65" height="3.02" fill="#004dff"/>
<rect x="441.90" y="22.90" width="193.80" height="3.02" fill="#0061ff"/>
<rect x="465.75" y="22.90" width="169.95" height="3.02" fill="#004dff"/>
<rect x="489.60" y="22.90" width="146.10" height="3.02" fill="#004dff"/>
<rect x="513.45" y="22.90" width="122.25" height="3.02" fill="#0080ff"/>
<rect x="537.30" y="22.90" width="98.40" height="3.02" fill="#0061ff"/>
<rect x="561.15" y="22.90" width="74.55" height="3.02" fill="#0019ff"/>
<rect x="585.00" y="22.90" width="50.70" height="3.02" fill="#0000d1"/>
<rect x="608.85" y="22.90" width="26.85" height="3.02" fill="#0019ff"/>
<rect x="391.20" y="24.92" width="244.50" height="3.02" fill="#0000fa"/>
<rect x="418.05" y="24.92" width="217.65" height="3.02" fill="#0000fa"/>
<rect x="441.90" y="24.92" width="193.80" height="3.02" fill="#0000e6"/>
<rect x="465.75" y="24.92" width="169.95" height="3.02" fill="#0000e6"/>
<rect x="489.60" y="24.92" width="146.10" height="3.02" fill="#0000e6"/>
<rect x="513.45" y="24.92" width="122.25" height="3.02" fill="#0000d1"/>
<rect x="537.30" y="24.92" width="98.40" height="3.02" fill="#0000e6"/>
<rect x="561.15" y="24.92" width="74.55" height="3.02" fill="#009eff"/>
<rect x="585.00" y="24.92" width="50.70" height="3.02" fill="#009eff"/>
<rect x="608.85" y="24.92" width="26.85" height="3.02" fill="#0019ff"/>
<rect x="391.20" y="26.93" width="244.50" height="3.02" fill="#00d1ff"/>
<rect x="418.05" y="26.93" width="217.65" height="3.02" fill="#00e5ff"/>
<rect x="441.90" y="26.93" width="193.80" height="3.02" fill="#00d1ff"/>
<rect x="465.75" y="26.93" width="169.95" height="3.02" fill="#00b2ff"/>
<rect x="489.60" y="26.93" width="146.10" height="3.02" fill="#00b2ff"/>
<rect x="513.45" y="26.93" width="122.25" height="3.02" fill="#004dff"/>
<rect x="537.30" y="26.93" width="98.40" height="3.02" fill="#004dff"/>
<rect x="561.15" y="26.93" width="74.55" height="3.02" fill="#0000b2"/>
<rect x="585.00" y="26.93" width="50.70" height="3.02" fill="#0000a8"/>
<rect x="608.85" y="26.93" width="26.85" height="3.02" fill="#0000e6"/>
<rect x="391.20" y="28.95" width="244.50" height="3.02" fill="#0000a8"/>
<rect x="418.05" y="28.95" width="217.65" height="3.02" fill="#0000bd"/>
<rect x="441.90" y="28.95" width="193.80" height="3.02" fill="#0000d1"/>
<rect x="465.75" y="28.95" width="169.95" height="3.02" fill="#0000c7"/>
<rect x="489.60" y="28.95" width="146.10" height="3.02" fill="#0000e6"/>
<rect x="513.45" y="28.95" width="122.25" height="3.02" fill="#0000e6"/>
<rect x="537.30" y="28.95" width="98.40" height="3.02" fill="#002eff"/>
<rect x="561.15" y="28.95" width="74.55" height="3.02" fill="#0061ff"/>
<rect x="585.00" y="28.95" width="50.70" height="3.02" fill="#0019ff"/>
<rect x="608.85" y="28.95" width="26.85" height="3.02" fill="#004dff"/>
<rect x="391.20" y="30.97" width="244.50" height="3.02" fill="#0000e6"/>
<rect x="418.05" y="30.97" width="217.65" height="3.02" fill="#0000fa"/>
<rect x="441.90" y="30.97" width="193.80" height="3.02" fill="#0019ff"/>
<rect x="465.75" y="30.97" width="169.95" height="3.02" fill="#004dff"/>
<rect x="489.60" y="30.97" width="146.10" height="3.02" fill="#004dff"/>
<rect x="513.45" y="30.97" width="122.25" height="3.02" fill="#004dff"/>
<rect x="537.30" y="30.97" width="98.40" height="3.02" fill="#0080ff"/>
<rect x="561.15" y="30.97" width="74.55" height="3.02" fill="#0080ff"/>
<rect x="585.00" y="30.97" width="50.70" height="3.02" fill="#0080ff"/>
<rect x="608.85" y="30.97" width="26.85" height="3.02" fill="#004dff"/>
<rect x="391.20" y="32.99" width="244.50" height="3.02" fill="#0000e6"/>
<rect x="418.05" y="32.99" width="217.65" height="3.02" fill="#0019ff"/>
<rect x="441.90" y="32.99" width="193.80" height="3.02" fill="#004dff"/>
<rect x="465.75" y="32.99" width="169.95" height="3.02" fill="#006bff"/>
<rect x="489.60" y="32.99" width="146.10" height="3.02" fill="#0080ff"/>
<rect x="513.45" y="32.99" width="122.25" height="3.02" fill="#009eff"/>
<rect x="537.30" y="32.99" width="98.40" height="3.02" fill="#009eff"/>
<rect x="561.15" y="32.99" width="74.55" height="3.02" fill="#004dff"/>
<rect x="585.00" y="32.99" width="50.70" height="3.02" fill="#0000fa"/>
<rect x="608.85" y="32.99" width="26.85" height="3.02" fill="#0000fa"/>
<rect x="391.20" y="35.01" width="244.50" height="3.02" fill="#0094ff"/>
<rect x="418.05" y="35.01" width="217.65" height="3.02" fill="#00b2ff"/>
<rect x="441.90" y="35.01" width="193.80" height="3.02" fill="#00b2ff"/>
<rect x="465.75" y="35.01" width="169.95" height="3.02" fill="#0094ff"/>
<rect x="489.60" y="35.01" width="146.10" height="3.02" fill="#0061ff"/>
<rect x="513.45" y="35.01" width="122.25" height="3.02" fill="#0061ff"/>
<rect x="537.30" y="35.01" width="98.40" height="3.02" fill="#008aff"/>
<rect x="561.15" y="35.01" width="74.55" height="3.02" fill="#004dff"/>
<rect x="585.00" y="35.01" width="50.70" height="3.02" fill="#0019ff"/>
<rect x="608.85" y="35.01" width="26.85" height="3.02" fill="#004dff"/>
<rect x="391.20" y="37.03" width="244.50" height="3.02" fill="#0000d1"/>
<rect x="418.05" y="37.03" width="217.65" height="3.02" fill="#0000e6"/>
<rect x="441.90" y="37.03" width="193.80" height="3.02" fill="#0000e6"/>
<rect x="465.75" y="37.03" width="169.95" height="3.02" fill="#0000d1"/>
<rect x="489.60" y="37.03" width="146.10" height="3.02" fill="#0000d1"/>
<rect x="513.45" y="37.03" width="122.25" height="3.02" fill="#0000d1"/>
<rect x="537.30" y="37.03" width="98.40" height="3.02" fill="#0000db"/>
<rect x="561.15" y="37.03" width="74.55" height="3.02" fill="#0000bd"/>
<rect x="585.00" y="37.03" width="50.70" height="3.02" fill="#0000bd"/>
<rect x="608.85" y="37.03" width="26.85" height="3.02" fill="#0000e6"/>
<rect x="391.20" y="39.05" width="244.50" height="3.02" fill="#0000e6"/>
<rect x="418.05" y="39.05" width="217.65" height="3.02" fill="#0000fa"/>
<rect x="441.90" y="39.05" width="193.80" height="3.02" fill="#00b2ff"/>
<rect x="465.75" y="39.05" width="169.95" height="3.02" fill="#1affe5"/>
<rect x="489.60" y="39.05" width="146.10" height="3.02" fill="#38ffc7"/>
<rect x="513.45" y="39.05" width="122.25" height="3.02" fill="#2effd1"/>
<rect x="537.30" y="39.05" width="98.40" height="3.02" fill="#2effd1"/>
<rect x="561.15" y="39.05" width="74.55" height="3.02" fill="#1affe5"/>
<rect x="585.00" y="39.05" width="50.70" height="3.02" fill="#1affe5"/>
<rect x="608.85" y="39.05" width="26.85" height="3.02" fill="#05fffa"/>
<rect x="391.20" y="41.07" width="244.50" height="3.02" fill="#00b2ff"/>
<rect x="418.05" y="41.07" width="217.65" height="3.02" fill="#00d1ff"/>
<rect x="441.90" y="41.07" width="193.80" height="3.02" fill="#0080ff"/>
<rect x="465.75" y="41.07" width="169.95" height="3.02" fill="#0061ff"/>
<rect x="489.60" y="41.07" width="146.10" height="3.02" fill="#004dff"/>
<rect x="513.45" y="41.07" width="122.25" height="3.02" fill="#0080ff"/>
<rect x="537.30" y="41.07" width="98.40" height="3.02" fill="#00b2ff"/>
<rect x="561.15" y="41.07" width="74.55" height="3.02" fill="#004dff"/>
<rect x="585.00" y="41.07" width="50.70" height="3.02" fill="#0019ff"/>
<rect x="608.85" y="41.07" width="26.85" height="3.02" fill="#004dff"/>
<rect x="391.20" y="43.09" width="244.50" height="3.02" fill="#0000fa"/>
<rect x="418.05" y="43.09" width="217.65" height="3.02" fill="#009eff"/>
<rect x="441.90" y="43.09" width="193.80" height="3.02" fill="#009eff"/>
<rect x="465.75" y="43.09" width="169.95" height="3.02" fill="#00d1ff"/>
<rect x="489.60" y="43.09" width="146.10" height="3.02" fill="#00b2ff"/>
<rect x="513.45" y="43.09" width="122.25" height="3.02" fill="#009eff"/>
<rect x="537.30" y="43.09" width="98.40" height="3.02" fill="#0080ff"/>
<rect x="561.15" y="43.09" width="74.55" height="3.02" fill="#0080ff"/>
<rect x="585.00" y="43.09" width="50.70" height="3.02" fill="#004dff"/>
<rect x="608.85" y="43.09" width="26.85" height="3.02" fill="#00b2ff"/>
<rect x="391.20" y="45.11" width="244.50" height="3.02" fill="#0080ff"/>
<rect x="418.05" y="45.11" width="217.65" height="3.02" fill="#004dff"/>
<rect x="441.90" y="45.11" width="193.80" height="3.02" fill="#0019ff"/>
<rect x="465.75" y="45.11" width="169.95" height="3.02" fill="#0000fa"/>
<rect x="489.60" y="45.11" width="146.10" height="3.02" fill="#004dff"/>
<rect x="513.45" y="45.11" width="122.25" height="3.02" fill="#0080ff"/>
<rect x="537.30" y="45.11" width="98.40" height="3.02" fill="#00a8ff"/>
<rect x="561.15" y="45.11" width="74.55" height="3.02" fill="#009eff"/>
<rect x="585.00" y="45.11" width="50.70" height="3.02" fill="#009eff"/>
<rect x="608.85" y="45.11" width="26.85" height="3.02" fill="#00d1ff"/>
<rect x="391.20" y="47.13" width="244.50" height="3.02" fill="#0000d1"/>
<rect x="418.05" y="47.13" width="217.65" height="3.02" fill="#0019ff"/>
<rect x="441.90" y="47.13" width="193.80" height="3.02" fill="#004dff"/>
<rect x="465.75" y="47.13" width="169.95" height="3.02" fill="#004dff"/>
<rect x="489.60" y="47.13" width="146.10" height="3.02" fill="#0019ff"/>
<rect x="513.45" y="47.13" width="122.25" height="3.02" fill="#0019ff"/>
<rect x="537.30" y="47.13" width="98.40" height="3.02" fill="#002eff"/>
<rect x="561.15" y="47.13" width="74.55" height="3.02" fill="#0080ff"/>
<rect x="585.00" y="47.13" width="50.70" height="3.02" fill="#0080ff"/>
<rect x="608.85" y="47.13" width="26.85" height="3.02" fill="#0019ff"/>
<rect x="391.20" y="49.15" width="244.50" height="3.02" fill="#004dff"/>
<rect x="418.05" y="49.15" width="217.65" height="3.02" fill="#00b2ff"/>
<rect x="441.90" y="49.15" width="193.80" height="3.02" fill="#00e5ff"/>
<rect x="465.75" y="49.15" width="169.95" height="3.02" fill="#2effd1"/>
<rect x="489.60" y="49.15" width="146.10" height="3.02" fill="#61ff9e"/>
<rect x="513.45" y="49.15" width="122.25" height="3.02" fill="#61ff9e"/>
<rect x="537.30" y="49.15" width="98.40" height="3.02" fill="#00dbff"/>
<rect x="561.15" y="49.15" width="74.55" height="3.02" fill="#00b2ff"/>
<rect x="585.00" y="49.15" width="50.70" height="3.02" fill="#0000fa"/>
<rect x="608.85" y="49.15" width="26.85" height="3.02" fill="#0000e6"/>
<rect x="391.20" y="51.17" width="244.50" height="3.02" fill="#0000e6"/>
<rect x="418.05" y="51.17" width="217.65" height="3.02" fill="#0000fa"/>
<rect x="441.90" y="51.17" width="193.80" height="3.02" fill="#0019ff"/>
<rect x="465.75" y="51.17" width="169.95" height="3.02" fill="#0019ff"/>
<rect x="489.60" y="51.17" width="146.10" height="3.02" fill="#0000fa"/>
<rect x="513.45" y="51.17" width="122.25" height="3.02" fill="#0000fa"/>
<rect x="537.30" y="51.17" width="98.40" height="3.02" fill="#0000fa"/>
<rect x="561.15" y="51.17" width="74.55" height="3.02" fill="#0000d1"/>
<rect x="585.00" y="51.17" width="50.70" height="3.02" fill="#0000bd"/>
<rect x="608.85" y="51.17" width="26.85" height="3.02" fill="#0000bd"/>
<rect x="391.20" y="53.18" width="244.50" height="3.02" fill="#00b2ff"/>
<rect x="418.05" y="53.18" width="217.65" height="3.02" fill="#0061ff"/>
<rect x="441.90" y="53.18" width="193.80" height="3.02" fill="#0019ff"/>
<rect x="465.75" y="53.18" width="169.95" height="3.02" fill="#0057ff"/>
<rect x="489.60" y="53.18" width="146.10" height="3.02" fill="#004dff"/>
<rect x="513.45" y="53.18" width="122.25" height="3.02" fill="#0019ff"/>
<rect x="537.30" y="53.18" width="98.40" height="3.02" fill="#0019ff"/>
<rect x="561.15" y="53.18" width="74.55" height="3.02" fill="#0000bd"/>
<rect x="585.00" y="53.18" width="50.70" height="3.02" fill="#0000fa"/>
<rect x="608.85" y="53.18" width="26.85" height="3.02" fill="#004dff"/>
<rect x="391.20" y="55.20" width="244.50" height="3.02" fill="#0000e6"/>
<rect x="418.05" y="55.20" width="217.65" height="3.02" fill="#0000e6"/>
<rect x="441.90" y="55.20" width="193.80" height="3.02" fill="#0000e6"/>
<rect x="465.75" y="55.20" width="169.95" height="3.02" fill="#0000e6"/>
<rect x="489.60" y="55.20" width="146.10" height="3.02" fill="#0000e6"/>
<rect x="513.45" y="55.20" width="122.25" height="3.02" fill="#0000e6"/>
<rect x="537.30" y="55.20" width="98.40" height="3.02" fill="#0000f0"/>
<rect x="561.15" y="55.20" width="74.55" height="3.02" fill="#0000e6"/>
<rect x="585.00" y="55.20" width="50.70" height="3.02" fill="#0000fa"/>
<rect x="608.85" y="55.20" width="26.85" height="3.02" fill="#004dff"/>
<rect x="391.20" y="57.22" width="244.50" height="3.02" fill="#0000fa"/>
<rect x="418.05" y="57.22" width="217.65" height="3.02" fill="#0019ff"/>
<rect x="441.90" y="57.22" width="193.80" height="3.02" fill="#0080ff"/>
<rect x="465.75" y="57.22" width="169.95" height="3.02" fill="#0061ff"/>
<rect x="489.60" y="57.22" width="146.10" height="3.02" fill="#0000fa"/>
<rect x="513.45" y="57.22" width="122.25" height="3.02" fill="#0000fa"/>
<rect x="537.30" y="57.22" width="98.40" height="3.02" fill="#0024ff"/>
<rect x="561.15" y="57.22" width="74.55" height="3.02" fill="#004dff"/>
<rect x="585.00" y="57.22" width="50.70" height="3.02" fill="#0019ff"/>
<rect x="608.85" y="57.22" width="26.85" height="3.02" fill="#0061ff"/>
<rect x="391.20" y="59.24" width="244.50" height="3.02" fill="#004dff"/>
<rect x="418.05" y="59.24" width="217.65" height="3.02" fill="#0061ff"/>
<rect x="441.90" y="59.24" width="193.80" height="3.02" fill="#00e5ff"/>
<rect x="465.75" y="59.24" width="169.95" height="3.02" fill="#ff6100"/>
<rect x="489.60" y="59.24" width="146.10" height="3.02" fill="#ff9e00"/>
<rect x="513.45" y="59.24" width="122.25" height="3.02" fill="#fa0000"/>
<rect x="537.30" y="59.24" width="98.40" height="3.02" fill="#fa0000"/>
<rect x="561.15" y="59.24" width="74.55" height="3.02" fill="#ff3800"/>
<rect x="585.00" y="59.24" width="50.70" height="3.02" fill="#ff8000"/>
<rect x="608.85" y="59.24" width="26.85" height="3.02" fill="#ffc700"/>
<rect x="391.20" y="61.26" width="244.50" height="3.02" fill="#c7ff38"/>
<rect x="418.05" y="61.26" width="217.65" height="3.02" fill="#94ff6b"/>
<rect x="441.90" y="61.26" width="193.80" height="3.02" fill="#faff05"/>
<rect x="465.75" y="61.26" width="169.95" height="3.02" fill="#0000bd"/>
<rect x="489.60" y="61.26" width="146.10" height="3.02" fill="#0000b2"/>
<rect x="513.45" y="61.26" width="122.25" height="3.02" fill="#0000b2"/>
<rect x="537.30" y="61.26" width="98.40" height="3.02" fill="#0000bd"/>
<rect x="561.15" y="61.26" width="74.55" height="3.02" fill="#0000d1"/>
<rect x="585.00" y="61.26" width="50.70" height="3.02" fill="#0000e6"/>
<rect x="608.85" y="61.26" width="26.85" height="3.02" fill="#00b2ff"/>
<rect x="391.20" y="63.28" width="244.50" height="3.02" fill="#0000d1"/>
<rect x="418.05" y="63.28" width="217.65" height="3.02" fill="#0000e6"/>
<rect x="441.90" y="63.28" width="193.80" height="3.02" fill="#0000e6"/>
<rect x="465.75" y="63.28" width="169.95" height="3.02" fill="#0000db"/>
<rect x="489.60" y="63.28" width="146.10" height="3.02" fill="#0000e6"/>
<rect x="513.45" y="63.28" width="122.25" height="3.02" fill="#0000e6"/>
<rect x="537.30" y="63.28" width="98.40" height="3.02" fill="#0000e6"/>
<rect x="561.15" y="63.28" width="74.55" height="3.02" fill="#0000e6"/>
<rect x="585.00" y="63.28" width="50.70" height="3.02" fill="#0000e6"/>
<rect x="608.85" y="63.28" width="26.85" height="3.02" fill="#0000fa"/>
<rect x="391.20" y="65.30" width="244.50" height="3.02" fill="#0080ff"/>
<rect x="418.05" y="65.30" width="217.65" height="3.02" fill="#1affe5"/>
<rect x="441.90" y="65.30" width="193.80" height="3.02" fill="#00e5ff"/>
<rect x="465.75" y="65.30" width="169.95" height="3.02" fill="#05fffa"/>
<rect x="489.60" y="65.30" width="146.10" height="3.02" fill="#4dffb2"/>
<rect x="513.45" y="65.30" width="122.25" height="3.02" fill="#94ff6b"/>
<rect x="537.30" y="65.30" width="98.40" height="3.02" fill="#e5ff1a"/>
<rect x="561.15" y="65.30" width="74.55" height="3.02" fill="#d1ff2e"/>
<rect x="585.00" y="65.30" width="50.70" height="3.02" fill="#b3ff4c"/>
<rect x="608.85" y="65.30" width="26.85" height="3.02" fill="#94ff6b"/>
<rect x="391.20" y="67.32" width="244.50" height="3.02" fill="#004dff"/>
<rect x="418.05" y="67.32" width="217.65" height="3.02" fill="#004dff"/>
<rect x="441.90" y="67.32" width="193.80" height="3.02" fill="#0019ff"/>
<rect x="465.75" y="67.32" width="169.95" height="3.02" fill="#0080ff"/>
<rect x="489.60" y="67.32" width="146.10" height="3.02" fill="#004dff"/>
<rect x="513.45" y="67.32" width="122.25" height="3.02" fill="#0080ff"/>
<rect x="537.30" y="67.32" width="98.40" height="3.02" fill="#0019ff"/>
<rect x="561.15" y="67.32" width="74.55" height="3.02" fill="#0000e6"/>
<rect x="585.00" y="67.32" width="50.70" height="3.02" fill="#0000e6"/>
<rect x="608.85" y="67.32" width="26.85" height="3.02" fill="#0000d1"/>
<rect x="391.20" y="69.34" width="244.50" height="3.02" fill="#0080ff"/>
<rect x="418.05" y="69.34" width="217.65" height="3.02" fill="#0061ff"/>
<rect x="441.90" y="69.34" width="193.80" height="3.02" fill="#00e5ff"/>
<rect x="465.75" y="69.34" width="169.95" height="3.02" fill="#00d1ff"/>
<rect x="489.60" y="69.34" width="146.10" height="3.02" fill="#00b2ff"/>
<rect x="513.45" y="69.34" width="122.25" height="3.02" fill="#0080ff"/>
<rect x="537.30" y="69.34" width="98.40" height="3.02" fill="#0019ff"/>
<rect x="561.15" y="69.34" width="74.55" height="3.02" fill="#0019ff"/>
<rect x="585.00" y="69.34" width="50.70" height="3.02" fill="#0000e6"/>
<rect x="608.85" y="69.34" width="26.85" height="3.02" fill="#0000e6"/>
<rect x="391.20" y="71.36" width="244.50" height="3.02" fill="#0080ff"/>
<rect x="418.05" y="71.36" width="217.65" height="3.02" fill="#0080ff"/>
<rect x="441.90" y="71.36" width="193.80" height="3.02" fill="#004dff"/>
<rect x="465.75" y="71.36" width="169.95" height="3.02" fill="#0005ff"/>
<rect x="489.60" y="71.36" width="146.10" height="3.02" fill="#0000fa"/>
<rect x="513.45" y="71.36" width="122.25" height="3.02" fill="#004dff"/>
<rect x="537.30" y="71.36" width="98.40" height="3.02" fill="#0000fa"/>
<rect x="561.15" y="71.36" width="74.55" height="3.02" fill="#0000e6"/>
<rect x="585.00" y="71.36" width="50.70" height="3.02" fill="#0000e6"/>
<rect x="608.85" y="71.36" width="26.85" height="3.02" fill="#0000e6"/>
<rect x="391.20" y="73.38" width="244.50" height="3.02" fill="#2effd1"/>
<rect x="418.05" y="73.38" width="217.65" height="3.02" fill="#6bff94"/>
<rect x="441.90" y="73.38" width="193.80" height="3.02" fill="#b3ff4c"/>
<rect x="465.75" y="73.38" width="169.95" height="3.02" fill="#b3ff4c"/>
<rect x="489.60" y="73.38" width="146.10" height="3.02" fill="#00b2ff"/>
<rect x="513.45" y="73.38" width="122.25" height="3.02" fill="#05fffa"/>
<rect x="537.30" y="73.38" width="98.40" height="3.02" fill="#00b2ff"/>
<rect x="561.15" y="73.38" width="74.55" height="3.02" fill="#0080ff"/>
<rect x="585.00" y="73.38" width="50.70" height="3.02" fill="#004dff"/>
<rect x="608.85" y="73.38" width="26.85" height="3.02" fill="#0019ff"/>
<rect x="391.20" y="75.40" width="244.50" height="3.02" fill="#0000fa"/>
<rect x="418.05" y="75.40" width="217.65" height="3.02" fill="#0000fa"/>
<rect x="441.90" y="75.40" width="193.80" height="3.02" fill="#0000fa"/>
<rect x="465.75" y="75.40" width="169.95" height="3.02" fill="#0000fa"/>
<rect x="489.60" y="75.40" width="146.10" height="3.02" fill="#0019ff"/>
<rect x="513.45" y="75.40" width="122.25" height="3.02" fill="#004dff"/>
<rect x="537.30" y="75.40" width="98.40" height="3.02" fill="#004dff"/>
<rect x="561.15" y="75.40" width="74.55" height="3.02" fill="#004dff"/>
<rect x="585.00" y="75.40" width="50.70" height="3.02" fill="#0000fa"/>
<rect x="608.85" y="75.40" width="26.85" height="3.02" fill="#0000a8"/>
<rect x="391.20" y="77.42" width="244.50" height="3.02" fill="#0080ff"/>
<rect x="418.05" y="77.42" width="217.65" height="3.02" fill="#0080ff"/>
<rect x="441.90" y="77.42" width="193.80" height="3.02" fill="#004dff"/>
<rect x="465.75" y="77.42" width="169.95" height="3.02" fill="#00b2ff"/>
<rect x="489.60" y="77.42" width="146.10" height="3.02" fill="#0080ff"/>
<rect x="513.45" y="77.42" width="122.25" height="3.02" fill="#0080ff"/>
<rect x="537.30" y="77.42" width="98.40" height="3.02" fill="#00b2ff"/>
<rect x="561.15" y="77.42" width="74.55" height="3.02" fill="#00e5ff"/>
<rect x="585.00" y="77.42" width="50.70" height="3.02" fill="#009eff"/>
<rect x="608.85" y="77.42" width="26.85" height="3.02" fill="#00b2ff"/>
<rect x="391.20" y="79.43" width="244.50" height="3.02" fill="#0000fa"/>
<rect x="418.05" y="79.43" width="217.65" height="3.02" fill="#0019ff"/>
<rect x="441.90" y="79.43" width="193.80" height="3.02" fill="#0019ff"/>
<rect x="465.75" y="79.43" width="169.95" height="3.02" fill="#0005ff"/>
<rect x="489.60" y="79.43" width="146.10" height="3.02" fill="#0019ff"/>
<rect x="513.45" y="79.43" width="122.25" height="3.02" fill="#004dff"/>
<rect x="537.30" y="79.43" width="98.40" height="3.02" fill="#004dff"/>
<rect x="561.15" y="79.43" width="74.55" height="3.02" fill="#0080ff"/>
<rect x="585.00" y="79.43" width="50.70" height="3.02" fill="#009eff"/>
<rect x="608.85" y="79.43" width="26.85" height="3.02" fill="#00b2ff"/>
<rect x="391.20" y="81.45" width="244.50" height="3.02" fill="#0019ff"/>
<rect x="418.05" y="81.45" width="217.65" height="3.02" fill="#0019ff"/>
<rect x="441.90" y="81.45" width="193.80" height="3.02" fill="#004dff"/>
<rect x="465.75" y="81.45" width="169.95" height="3.02" fill="#00d1ff"/>
<rect x="489.60" y="81.45" width="146.10" height="3.02" fill="#80ff80"/>
<rect x="513.45" y="81.45" width="122.25" height="3.02" fill="#2effd1"/>
<rect x="537.30" y="81.45" width="98.40" height="3.02" fill="#05fffa"/>
<rect x="561.15" y="81.45" width="74.55" height="3.02" fill="#00d1ff"/>
<rect x="585.00" y="81.45" width="50.70" height="3.02" fill="#0019ff"/>
<rect x="608.85" y="81.45" width="26.85" height="3.02" fill="#0000fa"/>
<rect x="391.20" y="83.47" width="244.50" height="3.02" fill="#b3ff4c"/>
<rect x="418.05" y="83.47" width="217.65" height="3.02" fill="#61ff9e"/>
<rect x="441.90" y="83.47" width="193.80" height="3.02" fill="#00faff"/>
<rect x="465.75" y="83.47" width="169.95" height="3.02" fill="#0000fa"/>
<rect x="489.60" y="83.47" width="146.10" height="3.02" fill="#0000a8"/>
<rect x="513.45" y="83.47" width="122.25" height="3.02" fill="#0000e6"/>
<rect x="537.30" y="83.47" width="98.40" height="3.02" fill="#0000f0"/>
<rect x="561.15" y="83.47" width="74.55" height="3.02" fill="#0000fa"/>
<rect x="585.00" y="83.47" width="50.70" height="3.02" fill="#0000d1"/>
<rect x="608.85" y="83.47" width="26.85" height="3.02" fill="#0000bd"/>
<rect x="391.20" y="85.49" width="244.50" height="3.02" fill="#0000d1"/>
<rect x="418.05" y="85.49" width="217.65" height="3.02" fill="#0019ff"/>
<rect x="441.90" y="85.49" width="193.80" height="3.02" fill="#004dff"/>
<rect x="465.75" y="85.49" width="169.95" height="3.02" fill="#00d1ff"/>
<rect x="489.60" y="85.49" width="146.10" height="3.02" fill="#00e5ff"/>
<rect x="513.45" y="85.49" width="122.25" height="3.02" fill="#00e5ff"/>
<rect x="537.30" y="85.49" width="98.40" height="3.02" fill="#00c7ff"/>
<rect x="561.15" y="85.49" width="74.55" height="3.02" fill="#00d1ff"/>
<rect x="585.00" y="85.49" width="50.70" height="3.02" fill="#00faff"/>
<rect x="608.85" y="85.49" width="26.85" height="3.02" fill="#05fffa"/>
<rect x="391.20" y="87.51" width="244.50" height="3.02" fill="#0000d1"/>
<rect x="418.05" y="87.51" width="217.65" height="3.02" fill="#0019ff"/>
<rect x="441.90" y="87.51" width="193.80" height="3.02" fill="#004dff"/>
<rect x="465.75" y="87.51" width="169.95" height="3.02" fill="#00f0ff"/>
<rect x="489.60" y="87.51" width="146.10" height="3.02" fill="#00f0ff"/>
<rect x="513.45" y="87.51" width="122.25" height="3.02" fill="#00d1ff"/>
<rect x="537.30" y="87.51" width="98.40" height="3.02" fill="#00b2ff"/>
<rect x="561.15" y="87.51" width="74.55" height="3.02" fill="#00d1ff"/>
<rect x="585.00" y="87.51" width="50.70" height="3.02" fill="#0080ff"/>
<rect x="608.85" y="87.51" width="26.85" height="3.02" fill="#0080ff"/>
<rect x="391.20" y="89.53" width="244.50" height="3.02" fill="#0000e6"/>
<rect x="418.05" y="89.53" width="217.65" height="3.02" fill="#0019ff"/>
<rect x="441.90" y="89.53" width="193.80" height="3.02" fill="#004dff"/>
<rect x="465.75" y="89.53" width="169.95" height="3.02" fill="#00b2ff"/>
<rect x="489.60" y="89.53" width="146.10" height="3.02" fill="#004dff"/>
<rect x="513.45" y="89.53" width="122.25" height="3.02" fill="#004dff"/>
<rect x="537.30" y="89.53" width="98.40" height="3.02" fill="#0080ff"/>
<rect x="561.15" y="89.53" width="74.55" height="3.02" fill="#0080ff"/>
<rect x="585.00" y="89.53" width="50.70" height="3.02" fill="#0019ff"/>
<rect x="608.85" y="89.53" width="26.85" height="3.02" fill="#0019ff"/>
<rect x="391.20" y="91.55" width="244.50" height="3.02" fill="#80ff80"/>
<rect x="418.05" y="91.55" width="217.65" height="3.02" fill="#e5ff1a"/>
<rect x="441.90" y="91.55" width="193.80" height="3.02" fill="#ffdb00"/>
<rect x="465.75" y="91.55" width="169.95" height="3.02" fill="#9eff61"/>
<rect x="489.60" y="91.55" width="146.10" height="3.02" fill="#6bff94"/>
<rect x="513.45" y="91.55" width="122.25" height="3.02" fill="#00e5ff"/>
<rect x="537.30" y="91.55" width="98.40" height="3.02" fill="#0080ff"/>
<rect x="561.15" y="91.55" width="74.55" height="3.02" fill="#0019ff"/>
<rect x="585.00" y="91.55" width="50.70" height="3.02" fill="#0000bd"/>
<rect x="608.85" y="91.55" width="26.85" height="3.02" fill="#0019ff"/>
<rect x="391.20" y="93.57" width="244.50" height="3.02" fill="#0000e6"/>
<rect x="418.05" y="93.57" width="217.65" height="3.02" fill="#004dff"/>
<rect x="441.90" y="93.57" width="193.80" height="3.02" fill="#0019ff"/>
<rect x="465.75" y="93.57" width="169.95" height="3.02" fill="#004dff"/>
<rect x="489.60" y="93.57" width="146.10" height="3.02" fill="#004dff"/>
<rect x="513.45" y="93.57" width="122.25" height="3.02" fill="#0019ff"/>
<rect x="537.30" y="93.57" width="98.40" height="3.02" fill="#0000fa"/>
<rect x="561.15" y="93.57" width="74.55" height="3.02" fill="#0019ff"/>
<rect x="585.00" y="93.57" width="50.70" height="3.02" fill="#0000bd"/>
<rect x="608.85" y="93.57" width="26.85" height="3.02" fill="#0019ff"/>
<rect x="391.20" y="95.59" width="244.50" height="3.02" fill="#00d1ff"/>
<rect x="418.05" y="95.59" width="217.65" height="3.02" fill="#1affe5"/>
<rect x="441.90" y="95.59" width="193.80" height="3.02" fill="#4dffb2"/>
<rect x="465.75" y="95.59" width="169.95" height="3.02" fill="#80ff80"/>
<rect x="489.60" y="95.59" width="146.10" height="3.02" fill="#1affe5"/>
<rect x="513.45" y="95.59" width="122.25" height="3.02" fill="#2effd1"/>
<rect x="537.30" y="95.59" width="98.40" height="3.02" fill="#1affe5"/>
<rect x="561.15" y="95.59" width="74.55" height="3.02" fill="#00b2ff"/>
<rect x="585.00" y="95.59" width="50.70" height="3.02" fill="#00e5ff"/>
<rect x="608.85" y="95.59" width="26.85" height="3.02" fill="#00d1ff"/>
<rect x="391.20" y="97.61" width="244.50" height="3.02" fill="#00d1ff"/>
<rect x="418.05" y="97.61" width="217.65" height="3.02" fill="#4dffb2"/>
<rect x="441.90" y="97.61" width="193.80" height="3.02" fill="#80ff80"/>
<rect x="465.75" y="97.61" width="169.95" height="3.02" fill="#b3ff4c"/>
<rect x="489.60" y="97.61" width="146.10" height="3.02" fill="#2effd1"/>
<rect x="513.45" y="97.61" width="122.25" height="3.02" fill="#b3ff4c"/>
<rect x="537.30" y="97.61" width="98.40" height="3.02" fill="#80ff80"/>
<rect x="561.15" y="97.61" width="74.55" height="3.02" fill="#80ff80"/>
<rect x="585.00" y="97.61" width="50.70" height="3.02" fill="#4dffb2"/>
<rect x="608.85" y="97.61" width="26.85" height="3.02" fill="#00e5ff"/>
<rect x="391.20" y="99.63" width="244.50" height="3.02" fill="#0000fa"/>
<rect x="418.05" y="99.63" width="217.65" height="3.02" fill="#004dff"/>
<rect x="441.90" y="99.63" width="193.80" height="3.02" fill="#004dff"/>
<rect x="465.75" y="99.63" width="169.95" height="3.02" fill="#0080ff"/>
<rect x="489.60" y="99.63" width="146.10" height="3.02" fill="#0080ff"/>
<rect x="513.45" y="99.63" width="122.25" height="3.02" fill="#004dff"/>
<rect x="537.30" y="99.63" width="98.40" height="3.02" fill="#004dff"/>
<rect x="561.15" y="99.63" width="74.55" height="3.02" fill="#0019ff"/>
<rect x="585.00" y="99.63" width="50.70" height="3.02" fill="#0019ff"/>
<rect x="608.85" y="99.63" width="26.85" height="3.02" fill="#00d1ff"/>
<rect x="391.20" y="101.65" width="244.50" height="3.02" fill="#004dff"/>
<rect x="418.05" y="101.65" width="217.65" height="3.02" fill="#00b2ff"/>
<rect x="441.90" y="101.65" width="193.80" height="3.02" fill="#00b2ff"/>
<rect x="465.75" y="101.65" width="169.95" height="3.02" fill="#4dffb2"/>
<rect x="489.60" y="101.65" width="146.10" height="3.02" fill="#80ff80"/>
<rect x="513.45" y="101.65" width="122.25" height="3.02" fill="#00b2ff"/>
<rect x="537.30" y="101.65" width="98.40" height="3.02" fill="#00f0ff"/>
<rect x="561.15" y="101.65" width="74.55" height="3.02" fill="#1affe5"/>
<rect x="585.00" y="101.65" width="50.70" height="3.02" fill="#80ff80"/>
<rect x="608.85" y="101.65" width="26.85" height="3.02" fill="#4dffb2"/>
<rect x="391.20" y="103.67" width="244.50" height="3.02" fill="#00b2ff"/>
<rect x="418.05" y="103.67" width="217.65" height="3.02" fill="#0080ff"/>
<rect x="441.90" y="103.67" width="193.80" height="3.02" fill="#004dff"/>
<rect x="465.75" y="103.67" width="169.95" height="3.02" fill="#004dff"/>
<rect x="489.60" y="103.67" width="146.10" height="3.02" fill="#faff05"/>
<rect x="513.45" y="103.67" width="122.25" height="3.02" fill="#e5ff1a"/>
<rect x="537.30" y="103.67" width="98.40" height="3.02" fill="#80ff80"/>
<rect x="561.15" y="103.67" width="74.55" height="3.02" fill="#05fffa"/>
<rect x="585.00" y="103.67" width="50.70" height="3.02" fill="#00b2ff"/>
<rect x="608.85" y="103.67" width="26.85" height="3.02" fill="#004dff"/>
<rect x="391.20" y="105.68" width="244.50" height="3.02" fill="#0000e6"/>
<rect x="418.05" y="105.68" width="217.65" height="3.02" fill="#05fffa"/>
<rect x="441.90" y="105.68" width="193.80" height="3.02" fill="#1affe5"/>
<rect x="465.75" y="105.68" width="169.95" height="3.02" fill="#80ff80"/>
<rect x="489.60" y="105.68" width="146.10" height="3.02" fill="#00d1ff"/>
<rect x="513.45" y="105.68" width="122.25" height="3.02" fill="#00b2ff"/>
<rect x="537.30" y="105.68" width="98.40" height="3.02" fill="#0000e6"/>
<rect x="561.15" y="105.68" width="74.55" height="3.02" fill="#0000b2"/>
<rect x="585.00" y="105.68" width="50.70" height="3.02" fill="#0000a8"/>
<rect x="608.85" y="105.68" width="26.85" height="3.02" fill="#0000fa"/>
<rect x="391.20" y="107.70" width="244.50" height="3.02" fill="#0080ff"/>
<rect x="418.05" y="107.70" width="217.65" height="3.02" fill="#00b2ff"/>
<rect x="441.90" y="107.70" width="193.80" height="3.02" fill="#0019ff"/>
<rect x="465.75" y="107.70" width="169.95" height="3.02" fill="#0000e6"/>
<rect x="489.60" y="107.70" width="146.10" height="3.02" fill="#0000fa"/>
<rect x="513.45" y="107.70" width="122.25" height="3.02" fill="#0019ff"/>
<rect x="537.30" y="107.70" width="98.40" height="3.02" fill="#0000d1"/>
<rect x="561.15" y="107.70" width="74.55" height="3.02" fill="#0000b2"/>
<rect x="585.00" y="107.70" width="50.70" height="3.02" fill="#0000a8"/>
<rect x="608.85" y="107.70" width="26.85" height="3.02" fill="#0019ff"/>
<rect x="391.20" y="109.72" width="244.50" height="3.02" fill="#0000e6"/>
<rect x="418.05" y="109.72" width="217.65" height="3.02" fill="#0000e6"/>
<rect x="441.90" y="109.72" width="193.80" height="3.02" fill="#0000fa"/>
<rect x="465.75" y="109.72" width="169.95" height="3.02" fill="#0019ff"/>
<rect x="489.60" y="109.72" width="146.10" height="3.02" fill="#0000fa"/>
<rect x="513.45" y="109.72" width="122.25" height="3.02" fill="#004dff"/>
<rect x="537.30" y="109.72" width="98.40" height="3.02" fill="#0000e6"/>
<rect x="561.15" y="109.72" width="74.55" height="3.02" fill="#0000d1"/>
<rect x="585.00" y="109.72" width="50.70" height="3.02" fill="#0000e6"/>
<rect x="608.85" y="109.72" width="26.85" height="3.02" fill="#0019ff"/>
<rect x="391.20" y="111.74" width="244.50" height="3.02" fill="#0000e6"/>
<rect x="418.05" y="111.74" width="217.65" height="3.02" fill="#0000fa"/>
<rect x="441.90" y="111.74" width="193.80" height="3.02" fill="#0000e6"/>
<rect x="465.75" y="111.74" width="169.95" height="3.02" fill="#80ff80"/>
<rect x="489.60" y="111.74" width="146.10" height="3.02" fill="#d1ff2e"/>
<rect x="513.45" y="111.74" width="122.25" height="3.02" fill="#b3ff4c"/>
<rect x="537.30" y="111.74" width="98.40" height="3.02" fill="#e5ff1a"/>
<rect x="561.15" y="111.74" width="74.55" height="3.02" fill="#e5ff1a"/>
<rect x="585.00" y="111.74" width="50.70" height="3.02" fill="#d1ff2e"/>
<rect x="608.85" y="111.74" width="26.85" height="3.02" fill="#b3ff4c"/>
<rect x="391.20" y="113.76" width="244.50" height="3.02" fill="#2effd1"/>
<rect x="418.05" y="113.76" width="217.65" height="3.02" fill="#b3ff4c"/>
<rect x="441.90" y="113.76" width="193.80" height="3.02" fill="#e5ff1a"/>
<rect x="465.75" y="113.76" width="169.95" height="3.02" fill="#e5ff1a"/>
<rect x="489.60" y="113.76" width="146.10" height="3.02" fill="#1affe5"/>
<rect x="513.45" y="113.76" width="122.25" height="3.02" fill="#00b2ff"/>
<rect x="537.30" y="113.76" width="98.40" height="3.02" fill="#0080ff"/>
<rect x="561.15" y="113.76" width="74.55" height="3.02" fill="#00b2ff"/>
<rect x="585.00" y="113.76" width="50.70" height="3.02" fill="#00e5ff"/>
<rect x="608.85" y="113.76" width="26.85" height="3.02" fill="#0000fa"/>
<rect x="391.20" y="115.78" width="244.50" height="3.02" fill="#00b2ff"/>
<rect x="418.05" y="115.78" width="217.65" height="3.02" fill="#00b2ff"/>
<rect x="441.90" y="115.78" width="193.80" height="3.02" fill="#00b2ff"/>
<rect x="465.75" y="115.78" width="169.95" height="3.02" fill="#00e5ff"/>
<rect x="489.60" y="115.78" width="146.10" height="3.02" fill="#00e5ff"/>
<rect x="513.45" y="115.78" width="122.25" height="3.02" fill="#004dff"/>
<rect x="537.30" y="115.78" width="98.40" height="3.02" fill="#0000fa"/>
<rect x="561.15" y="115.78" width="74.55" height="3.02" fill="#0000fa"/>
<rect x="585.00" y="115.78" width="50.70" height="3.02" fill="#004dff"/>
<rect x="608.85" y="115.78" width="26.85" height="3.02" fill="#0000e6"/>
<rect x="391.20" y="117.80" width="244.50" height="3.02" fill="#0000e6"/>
<rect x="418.05" y="117.80" width="217.65" height="3.02" fill="#004dff"/>
<rect x="441.90" y="117.80" width="193.80" height="3.02" fill="#00d1ff"/>
<rect x="465.75" y="117.80" width="169.95" height="3.02" fill="#1affe5"/>
<rect x="489.60" y="117.80" width="146.10" height="3.02" fill="#00b2ff"/>
<rect x="513.45" y="117.80" width="122.25" height="3.02" fill="#0019ff"/>
<rect x="537.30" y="117.80" width="98.40" height="3.02" fill="#0000e6"/>
<rect x="561.15" y="117.80" width="74.55" height="3.02" fill="#0000d1"/>
<rect x="585.00" y="117.80" width="50.70" height="3.02" fill="#0080ff"/>
<rect x="608.85" y="117.80" width="26.85" height="3.02" fill="#00e5ff"/>
<rect x="391.20" y="119.82" width="244.50" height="3.02" fill="#0019ff"/>
<rect x="418.05" y="119.82" width="217.65" height="3.02" fill="#00b2ff"/>
<rect x="441.90" y="119.82" width="193.80" height="3.02" fill="#0080ff"/>
<rect x="465.75" y="119.82" width="169.95" height="3.02" fill="#004dff"/>
<rect x="489.60" y="119.82" width="146.10" height="3.02" fill="#004dff"/>
<rect x="513.45" y="119.82" width="122.25" height="3.02" fill="#0019ff"/>
<rect x="537.30" y="119.82" width="98.40" height="3.02" fill="#0019ff"/>
<rect x="561.15" y="119.82" width="74.55" height="3.02" fill="#0000fa"/>
<rect x="585.00" y="119.82" width="50.70" height="3.02" fill="#004dff"/>
<rect x="608.85" y="119.82" width="26.85" height="3.02" fill="#00e5ff"/>
<rect x="391.20" y="121.84" width="244.50" height="3.02" fill="#00e5ff"/>
<rect x="418.05" y="121.84" width="217.65" height="3.02" fill="#00b2ff"/>
<rect x="441.90" y="121.84" width="193.80" height="3.02" fill="#4dffb2"/>
<rect x="465.75" y="121.84" width="169.95" height="3.02" fill="#b3ff4c"/>
<rect x="489.60" y="121.84" width="146.10" height="3.02" fill="#b3ff4c"/>
<rect x="513.45" y="121.84" width="122.25" height="3.02" fill="#80ff80"/>
<rect x="537.30" y="121.84" width="98.40" height="3.02" fill="#80ff80"/>
<rect x="561.15" y="121.84" width="74.55" height="3.02" fill="#1affe5"/>
<rect x="585.00" y="121.84" width="50.70" height="3.02" fill="#00b2ff"/>
<rect x="608.85" y="121.84" width="26.85" height="3.02" fill="#0080ff"/>
<rect x="391.20" y="123.86" width="244.50" height="3.02" fill="#4dffb2"/>
<rect x="418.05" y="123.86" width="217.65" height="3.02" fill="#1affe5"/>
<rect x="441.90" y="123.86" width="193.80" height="3.02" fill="#00e5ff"/>
<rect x="465.75" y="123.86" width="169.95" height="3.02" fill="#80ff80"/>
<rect x="489.60" y="123.86" width="146.10" height="3.02" fill="#e5ff1a"/>
<rect x="513.45" y="123.86" width="122.25" height="3.02" fill="#00b2ff"/>
<rect x="537.30" y="123.86" width="98.40" height="3.02" fill="#004dff"/>
<rect x="561.15" y="123.86" width="74.55" height="3.02" fill="#80ff80"/>
<rect x="585.00" y="123.86" width="50.70" height="3.02" fill="#80ff80"/>
<rect x="608.85" y="123.86" width="26.85" height="3.02" fill="#4dffb2"/>
<rect x="391.20" y="125.88" width="244.50" height="3.02" fill="#0019ff"/>
<rect x="418.05" y="125.88" width="217.65" height="3.02" fill="#004dff"/>
<rect x="441.90" y="125.88" width="193.80" height="3.02" fill="#004dff"/>
<rect x="465.75" y="125.88" width="169.95" height="3.02" fill="#004dff"/>
<rect x="489.60" y="125.88" width="146.10" height="3.02" fill="#00b2ff"/>
<rect x="513.45" y="125.88" width="122.25" height="3.02" fill="#00b2ff"/>
<rect x="537.30" y="125.88" width="98.40" height="3.02" fill="#0000fa"/>
<rect x="561.15" y="125.88" width="74.55" height="3.02" fill="#0080ff"/>
<rect x="585.00" y="125.88" width="50.70" height="3.02" fill="#0080ff"/>
<rect x="608.85" y="125.88" width="26.85" height="3.02" fill="#004dff"/>
<rect x="391.20" y="127.90" width="244.50" height="3.02" fill="#0000d1"/>
<rect x="418.05" y="127.90" width="217.65" height="3.02" fill="#004dff"/>
<rect x="441.90" y="127.90" width="193.80" height="3.02" fill="#0080ff"/>
<rect x="465.75" y="127.90" width="169.95" height="3.02" fill="#80ff80"/>
<rect x="489.60" y="127.90" width="146.10" height="3.02" fill="#00e5ff"/>
<rect x="513.45" y="127.90" width="122.25" height="3.02" fill="#004dff"/>
<rect x="537.30" y="127.90" width="98.40" height="3.02" fill="#0000e6"/>
<rect x="561.15" y="127.90" width="74.55" height="3.02" fill="#00b2ff"/>
<rect x="585.00" y="127.90" width="50.70" height="3.02" fill="#80ff80"/>
<rect x="608.85" y="127.90" width="26.85" height="3.02" fill="#b3ff4c"/>
<rect x="391.20" y="129.92" width="244.50" height="3.02" fill="#004dff"/>
<rect x="418.05" y="129.92" width="217.65" height="3.02" fill="#0080ff"/>
<rect x="441.90" y="129.92" width="193.80" height="3.02" fill="#0080ff"/>
<rect x="465.75" y="129.92" width="169.95" height="3.02" fill="#1affe5"/>
<rect x="489.60" y="129.92" width="146.10" height="3.02" fill="#00b2ff"/>
<rect x="513.45" y="129.92" width="122.25" height="3.02" fill="#0019ff"/>
<rect x="537.30" y="129.92" width="98.40" height="3.02" fill="#0000fa"/>
<rect x="561.15" y="129.92" width="74.55" height="3.02" fill="#d1ff2e"/>
<rect x="585.00" y="129.92" width="50.70" height="3.02" fill="#80ff80"/>
<rect x="608.85" y="129.92" width="26.85" height="3.02" fill="#1affe5"/>
<rect x="391.20" y="131.93" width="244.50" height="3.02" fill="#00d1ff"/>
<rect x="418.05" y="131.93" width="217.65" height="3.02" fill="#80ff80"/>
<rect x="441.90" y="131.93" width="193.80" height="3.02" fill="#d1ff2e"/>
<rect x="465.75" y="131.93" width="169.95" height="3.02" fill="#ffe500"/>
<rect x="489.60" y="131.93" width="146.10" height="3.02" fill="#ffdb00"/>
<rect x="513.45" y="131.93" width="122.25" height="3.02" fill="#38ffc7"/>
<rect x="537.30" y="131.93" width="98.40" height="3.02" fill="#00e5ff"/>
<rect x="561.15" y="131.93" width="74.55" height="3.02" fill="#0094ff"/>
<rect x="585.00" y="131.93" width="50.70" height="3.02" fill="#002eff"/>
<rect x="608.85" y="131.93" width="26.85" height="3.02" fill="#004dff"/>
<rect x="391.20" y="133.95" width="244.50" height="3.02" fill="#0019ff"/>
<rect x="418.05" y="133.95" width="217.65" height="3.02" fill="#004dff"/>
<rect x="441.90" y="133.95" width="193.80" height="3.02" fill="#004dff"/>
<rect x="465.75" y="133.95" width="169.95" height="3.02" fill="#00b2ff"/>
<rect x="489.60" y="133.95" width="146.10" height="3.02" fill="#0080ff"/>
<rect x="513.45" y="133.95" width="122.25" height="3.02" fill="#004dff"/>
<rect x="537.30" y="133.95" width="98.40" height="3.02" fill="#0000f0"/>
<rect x="561.15" y="133.95" width="74.55" height="3.02" fill="#0000bd"/>
<rect x="585.00" y="133.95" width="50.70" height="3.02" fill="#0000fa"/>
<rect x="608.85" y="133.95" width="26.85" height="3.02" fill="#004dff"/>
<rect x="391.20" y="135.97" width="244.50" height="3.02" fill="#004dff"/>
<rect x="418.05" y="135.97" width="217.65" height="3.02" fill="#0019ff"/>
<rect x="441.90" y="135.97" width="193.80" height="3.02" fill="#004dff"/>
<rect x="465.75" y="135.97" width="169.95" height="3.02" fill="#0080ff"/>
<rect x="489.60" y="135.97" width="146.10" height="3.02" fill="#0080ff"/>
<rect x="513.45" y="135.97" width="122.25" height="3.02" fill="#0019ff"/>
<rect x="537.30" y="135.97" width="98.40" height="3.02" fill="#0019ff"/>
<rect x="561.15" y="135.97" width="74.55" height="3.02" fill="#004dff"/>
<rect x="585.00" y="135.97" width="50.70" height="3.02" fill="#0080ff"/>
<rect x="608.85" y="135.97" width="26.85" height="3.02" fill="#0080ff"/>
<rect x="391.20" y="137.99" width="244.50" height="3.02" fill="#0000fa"/>
<rect x="418.05" y="137.99" width="217.65" height="3.02" fill="#0019ff"/>
<rect x="441.90" y="137.99" width="193.80" height="3.02" fill="#0000fa"/>
<rect x="465.75" y="137.99" width="169.95" height="3.02" fill="#0000fa"/>
<rect x="489.60" y="137.99" width="146.10" height="3.02" fill="#00b2ff"/>
<rect x="513.45" y="137.99" width="122.25" height="3.02" fill="#00b2ff"/>
<rect x="537.30" y="137.99" width="98.40" height="3.02" fill="#4dffb2"/>
<rect x="561.15" y="137.99" width="74.55" height="3.02" fill="#2effd1"/>
<rect x="585.00" y="137.99" width="50.70" height="3.02" fill="#2effd1"/>
<rect x="608.85" y="137.99" width="26.85" height="3.02" fill="#00e5ff"/>
<rect x="391.20" y="140.01" width="244.50" height="3.02" fill="#0000fa"/>
<rect x="418.05" y="140.01" width="217.65" height="3.02" fill="#004dff"/>
<rect x="441.90" y="140.01" width="193.80" height="3.02" fill="#0080ff"/>
<rect x="465.75" y="140.01" width="169.95" height="3.02" fill="#0080ff"/>
<rect x="489.60" y="140.01" width="146.10" height="3.02" fill="#00b2ff"/>
<rect x="513.45" y="140.01" width="122.25" height="3.02" fill="#00e5ff"/>
<rect x="537.30" y="140.01" width="98.40" height="3.02" fill="#4dffb2"/>
<rect x="561.15" y="140.01" width="74.55" height="3.02" fill="#05fffa"/>
<rect x="585.00" y="140.01" width="50.70" height="3.02" fill="#00b2ff"/>
<rect x="608.85" y="140.01" width="26.85" height="3.02" fill="#0080ff"/>
<rect x="391.20" y="142.03" width="244.50" height="3.02" fill="#00d1ff"/>
<rect x="418.05" y="142.03" width="217.65" height="3.02" fill="#2effd1"/>
<rect x="441.90" y="142.03" width="193.80" height="3.02" fill="#e5ff1a"/>
<rect x="465.75" y="142.03" width="169.95" height="3.02" fill="#fffa00"/>
<rect x="489.60" y="142.03" width="146.10" height="3.02" fill="#ffc700"/>
<rect x="513.45" y="142.03" width="122.25" height="3.02" fill="#b3ff4c"/>
<rect x="537.30" y="142.03" width="98.40" height="3.02" fill="#4dffb2"/>
<rect x="561.15" y="142.03" width="74.55" height="3.02" fill="#0019ff"/>
<rect x="585.00" y="142.03" width="50.70" height="3.02" fill="#0000b2"/>
<rect x="608.85" y="142.03" width="26.85" height="3.02" fill="#0000b2"/>
<rect x="391.20" y="144.05" width="244.50" height="3.02" fill="#0000e6"/>
<rect x="418.05" y="144.05" width="217.65" height="3.02" fill="#0080ff"/>
<rect x="441.90" y="144.05" width="193.80" height="3.02" fill="#00d1ff"/>
<rect x="465.75" y="144.05" width="169.95" height="3.02" fill="#0080ff"/>
<rect x="489.60" y="144.05" width="146.10" height="3.02" fill="#0019ff"/>
<rect x="513.45" y="144.05" width="122.25" height="3.02" fill="#0019ff"/>
<rect x="537.30" y="144.05" width="98.40" height="3.02" fill="#004dff"/>
<rect x="561.15" y="144.05" width="74.55" height="3.02" fill="#0000fa"/>
<rect x="585.00" y="144.05" width="50.70" height="3.02" fill="#0000b2"/>
<rect x="608.85" y="144.05" width="26.85" height="3.02" fill="#0000b2"/>
<rect x="391.20" y="146.07" width="244.50" height="3.02" fill="#0000d1"/>
<rect x="418.05" y="146.07" width="217.65" height="3.02" fill="#0000fa"/>
<rect x="441.90" y="146.07" width="193.80" height="3.02" fill="#0019ff"/>
<rect x="465.75" y="146.07" width="169.95" height="3.02" fill="#00b2ff"/>
<rect x="489.60" y="146.07" width="146.10" height="3.02" fill="#00e5ff"/>
<rect x="513.45" y="146.07" width="122.25" height="3.02" fill="#05fffa"/>
<rect x="537.30" y="146.07" width="98.40" height="3.02" fill="#00b2ff"/>
<rect x="561.15" y="146.07" width="74.55" height="3.02" fill="#00b2ff"/>
<rect x="585.00" y="146.07" width="50.70" height="3.02" fill="#0080ff"/>
<rect x="608.85" y="146.07" width="26.85" height="3.02" fill="#004dff"/>
<rect x="391.20" y="148.09" width="244.50" height="3.02" fill="#0000d1"/>
<rect x="418.05" y="148.09" width="217.65" height="3.02" fill="#0000fa"/>
<rect x="441.90" y="148.09" width="193.80" height="3.02" fill="#0019ff"/>
<rect x="465.75" y="148.09" width="169.95" height="3.02" fill="#004dff"/>
<rect x="489.60" y="148.09" width="146.10" height="3.02" fill="#00b2ff"/>
<rect x="513.45" y="148.09" width="122.25" height="3.02" fill="#00b2ff"/>
<rect x="537.30" y="148.09" width="98.40" height="3.02" fill="#00e5ff"/>
<rect x="561.15" y="148.09" width="74.55" height="3.02" fill="#1affe5"/>
<rect x="585.00" y="148.09" width="50.70" height="3.02" fill="#2effd1"/>
<rect x="608.85" y="148.09" width="26.85" height="3.02" fill="#00b2ff"/>
<rect x="391.20" y="150.11" width="244.50" height="3.02" fill="#0080ff"/>
<rect x="418.05" y="150.11" width="217.65" height="3.02" fill="#00e5ff"/>
<rect x="441.90" y="150.11" width="193.80" height="3.02" fill="#80ff80"/>
<rect x="465.75" y="150.11" width="169.95" height="3.02" fill="#e5ff1a"/>
<rect x="489.60" y="150.11" width="146.10" height="3.02" fill="#ffb300"/>
<rect x="513.45" y="150.11" width="122.25" height="3.02" fill="#e5ff1a"/>
<rect x="537.30" y="150.11" width="98.40" height="3.02" fill="#b3ff4c"/>
<rect x="561.15" y="150.11" width="74.55" height="3.02" fill="#0080ff"/>
<rect x="585.00" y="150.11" width="50.70" height="3.02" fill="#0019ff"/>
<rect x="608.85" y="150.11" width="26.85" height="3.02" fill="#0019ff"/>
<rect x="391.20" y="152.13" width="244.50" height="3.02" fill="#0019ff"/>
<rect x="418.05" y="152.13" width="217.65" height="3.02" fill="#0019ff"/>
<rect x="441.90" y="152.13" width="193.80" height="3.02" fill="#0000e6"/>
<rect x="465.75" y="152.13" width="169.95" height="3.02" fill="#0000b2"/>
<rect x="489.60" y="152.13" width="146.10" height="3.02" fill="#0000a8"/>
<rect x="513.45" y="152.13" width="122.25" height="3.02" fill="#0000e6"/>
<rect x="537.30" y="152.13" width="98.40" height="3.02" fill="#002eff"/>
<rect x="561.15" y="152.13" width="74.55" height="3.02" fill="#b3ff4c"/>
<rect x="585.00" y="152.13" width="50.70" height="3.02" fill="#ff8000"/>
<rect x="608.85" y="152.13" width="26.85" height="3.02" fill="#ff0500"/>
<rect x="391.20" y="154.15" width="244.50" height="3.02" fill="#faff05"/>
<rect x="418.05" y="154.15" width="217.65" height="3.02" fill="#ffb300"/>
<rect x="441.90" y="154.15" width="193.80" height="3.02" fill="#ff9e00"/>
<rect x="465.75" y="154.15" width="169.95" height="3.02" fill="#ff8000"/>
<rect x="489.60" y="154.15" width="146.10" height="3.02" fill="#ff9e00"/>
<rect x="513.45" y="154.15" width="122.25" height="3.02" fill="#4dffb2"/>
<rect x="537.30" y="154.15" width="98.40" height="3.02" fill="#80ff80"/>
<rect x="561.15" y="154.15" width="74.55" height="3.02" fill="#80ff80"/>
<rect x="585.00" y="154.15" width="50.70" height="3.02" fill="#00b2ff"/>
<rect x="608.85" y="154.15" width="26.85" height="3.02" fill="#00b2ff"/>
<rect x="391.20" y="156.17" width="244.50" height="3.02" fill="#b3ff4c"/>
<rect x="418.05" y="156.17" width="217.65" height="3.02" fill="#00b2ff"/>
<rect x="441.90" y="156.17" width="193.80" height="3.02" fill="#004dff"/>
<rect x="465.75" y="156.17" width="169.95" height="3.02" fill="#00b2ff"/>
<rect x="489.60" y="156.17" width="146.10" height="3.02" fill="#00b2ff"/>
<rect x="513.45" y="156.17" width="122.25" height="3.02" fill="#00b2ff"/>
<rect x="537.30" y="156.17" width="98.40" height="3.02" fill="#0080ff"/>
<rect x="561.15" y="156.17" width="74.55" height="3.02" fill="#004dff"/>
<rect x="585.00" y="156.17" width="50.70" height="3.02" fill="#00b2ff"/>
<rect x="608.85" y="156.17" width="26.85" height="3.02" fill="#00b2ff"/>
<rect x="391.20" y="158.18" width="244.50" height="3.02" fill="#0000fa"/>
<rect x="418.05" y="158.18" width="217.65" height="3.02" fill="#0019ff"/>
<rect x="441.90" y="158.18" width="193.80" height="3.02" fill="#0080ff"/>
<rect x="465.75" y="158.18" width="169.95" height="3.02" fill="#6bff94"/>
<rect x="489.60" y="158.18" width="146.10" height="3.02" fill="#d1ff2e"/>
<rect x="513.45" y="158.18" width="122.25" height="3.02" fill="#e5ff1a"/>
<rect x="537.30" y="158.18" width="98.40" height="3.02" fill="#e5ff1a"/>
<rect x="561.15" y="158.18" width="74.55" height="3.02" fill="#b3ff4c"/>
<rect x="585.00" y="158.18" width="50.70" height="3.02" fill="#00faff"/>
<rect x="608.85" y="158.18" width="26.85" height="3.02" fill="#00b2ff"/>
<rect x="391.20" y="160.20" width="244.50" height="3.02" fill="#0000fa"/>
<rect x="418.05" y="160.20" width="217.65" height="3.02" fill="#0000fa"/>
<rect x="441.90" y="160.20" width="193.80" height="3.02" fill="#0000fa"/>
<rect x="465.75" y="160.20" width="169.95" height="3.02" fill="#004dff"/>
<rect x="489.60" y="160.20" width="146.10" height="3.02" fill="#0019ff"/>
<rect x="513.45" y="160.20" width="122.25" height="3.02" fill="#00b2ff"/>
<rect x="537.30" y="160.20" width="98.40" height="3.02" fill="#00e5ff"/>
<rect x="561.15" y="160.20" width="74.55" height="3.02" fill="#00b2ff"/>
<rect x="585.00" y="160.20" width="50.70" height="3.02" fill="#0080ff"/>
<rect x="608.85" y="160.20" width="26.85" height="3.02" fill="#0000fa"/>
<rect x="391.20" y="162.22" width="244.50" height="3.02" fill="#0080ff"/>
<rect x="418.05" y="162.22" width="217.65" height="3.02" fill="#1affe5"/>
<rect x="441.90" y="162.22" width="193.80" height="3.02" fill="#05fffa"/>
<rect x="465.75" y="162.22" width="169.95" height="3.02" fill="#1affe5"/>
<rect x="489.60" y="162.22" width="146.10" height="3.02" fill="#05fffa"/>
<rect x="513.45" y="162.22" width="122.25" height="3.02" fill="#1affe5"/>
<rect x="537.30" y="162.22" width="98.40" height="3.02" fill="#00b2ff"/>
<rect x="561.15" y="162.22" width="74.55" height="3.02" fill="#00e5ff"/>
<rect x="585.00" y="162.22" width="50.70" height="3.02" fill="#00b2ff"/>
<rect x="608.85" y="162.22" width="26.85" height="3.02" fill="#00b2ff"/>
<rect x="391.20" y="164.24" width="244.50" height="3.02" fill="#00e5ff"/>
<rect x="418.05" y="164.24" width="217.65" height="3.02" fill="#00e5ff"/>
<rect x="441.90" y="164.24" width="193.80" height="3.02" fill="#00d1ff"/>
<rect x="465.75" y="164.24" width="169.95" height="3.02" fill="#00e5ff"/>
<rect x="489.60" y="164.24" width="146.10" height="3.02" fill="#00b2ff"/>
<rect x="513.45" y="164.24" width="122.25" height="3.02" fill="#0080ff"/>
<rect x="537.30" y="164.24" width="98.40" height="3.02" fill="#004dff"/>
<rect x="561.15" y="164.24" width="74.55" height="3.02" fill="#b3ff4c"/>
<rect x="585.00" y="164.24" width="50.70" height="3.02" fill="#e5ff1a"/>
<rect x="608.85" y="164.24" width="26.85" height="3.02" fill="#80ff80"/>
<rect x="391.20" y="166.26" width="244.50" height="3.02" fill="#0000fa"/>
<rect x="418.05" y="166.26" width="217.65" height="3.02" fill="#1affe5"/>
<rect x="441.90" y="166.26" width="193.80" height="3.02" fill="#80ff80"/>
<rect x="465.75" y="166.26" width="169.95" height="3.02" fill="#ffc700"/>
<rect x="489.60" y="166.26" width="146.10" height="3.02" fill="#ff9e00"/>
<rect x="513.45" y="166.26" width="122.25" height="3.02" fill="#ffc700"/>
<rect x="537.30" y="166.26" width="98.40" height="3.02" fill="#faff05"/>
<rect x="561.15" y="166.26" width="74.55" height="3.02" fill="#80ff80"/>
<rect x="585.00" y="166.26" width="50.70" height="3.02" fill="#00b2ff"/>
<rect x="608.85" y="166.26" width="26.85" height="3.02" fill="#004dff"/>
<rect x="391.20" y="168.28" width="244.50" height="3.02" fill="#00b2ff"/>
<rect x="418.05" y="168.28" width="217.65" height="3.02" fill="#00b2ff"/>
<rect x="441.90" y="168.28" width="193.80" height="3.02" fill="#004dff"/>
<rect x="465.75" y="168.28" width="169.95" height="3.02" fill="#004dff"/>
<rect x="489.60" y="168.28" width="146.10" height="3.02" fill="#004dff"/>
<rect x="513.45" y="168.28" width="122.25" height="3.02" fill="#00b2ff"/>
<rect x="537.30" y="168.28" width="98.40" height="3.02" fill="#00b2ff"/>
<rect x="561.15" y="168.28" width="74.55" height="3.02" fill="#0000d1"/>
<rect x="585.00" y="168.28" width="50.70" height="3.02" fill="#0019ff"/>
<rect x="608.85" y="168.28" width="26.85" height="3.02" fill="#0000fa"/>
<rect x="391.20" y="170.30" width="244.50" height="3.02" fill="#0000fa"/>
<rect x="418.05" y="170.30" width="217.65" height="3.02" fill="#0019ff"/>
<rect x="441.90" y="170.30" width="193.80" height="3.02" fill="#0000fa"/>
<rect x="465.75" y="170.30" width="169.95" height="3.02" fill="#00b2ff"/>
<rect x="489.60" y="170.30" width="146.10" height="3.02" fill="#00b2ff"/>
<rect x="513.45" y="170.30" width="122.25" height="3.02" fill="#00d1ff"/>
<rect x="537.30" y="170.30" width="98.40" height="3.02" fill="#00b2ff"/>
<rect x="561.15" y="170.30" width="74.55" height="3.02" fill="#0000e6"/>
<rect x="585.00" y="170.30" width="50.70" height="3.02" fill="#004dff"/>
<rect x="608.85" y="170.30" width="26.85" height="3.02" fill="#00b2ff"/>
<rect x="391.20" y="172.32" width="244.50" height="3.02" fill="#0080ff"/>
<rect x="418.05" y="172.32" width="217.65" height="3.02" fill="#00d1ff"/>
<rect x="441.90" y="172.32" width="193.80" height="3.02" fill="#2effd1"/>
<rect x="465.75" y="172.32" width="169.95" height="3.02" fill="#80ff80"/>
<rect x="489.60" y="172.32" width="146.10" height="3.02" fill="#2effd1"/>
<rect x="513.45" y="172.32" width="122.25" height="3.02" fill="#00b2ff"/>
<rect x="537.30" y="172.32" width="98.40" height="3.02" fill="#00e5ff"/>
<rect x="561.15" y="172.32" width="74.55" height="3.02" fill="#4dffb2"/>
<rect x="585.00" y="172.32" width="50.70" height="3.02" fill="#05fffa"/>
<rect x="608.85" y="172.32" width="26.85" height="3.02" fill="#00b2ff"/>
<rect x="391.20" y="174.34" width="244.50" height="3.02" fill="#00b2ff"/>
<rect x="418.05" y="174.34" width="217.65" height="3.02" fill="#00faff"/>
<rect x="441.90" y="174.34" width="193.80" height="3.02" fill="#1affe5"/>
<rect x="465.75" y="174.34" width="169.95" height="3.02" fill="#e5ff1a"/>
<rect x="489.60" y="174.34" width="146.10" height="3.02" fill="#faff05"/>
<rect x="513.45" y="174.34" width="122.25" height="3.02" fill="#80ff80"/>
<rect x="537.30" y="174.34" width="98.40" height="3.02" fill="#4dffb2"/>
<rect x="561.15" y="174.34" width="74.55" height="3.02" fill="#00b2ff"/>
<rect x="585.00" y="174.34" width="50.70" height="3.02" fill="#00b2ff"/>
<rect x="608.85" y="174.34" width="26.85" height="3.02" fill="#00e5ff"/>
<rect x="391.20" y="176.36" width="244.50" height="3.02" fill="#0000d1"/>
<rect x="418.05" y="176.36" width="217.65" height="3.02" fill="#004dff"/>
<rect x="441.90" y="176.36" width="193.80" height="3.02" fill="#0019ff"/>
<rect x="465.75" y="176.36" width="169.95" height="3.02" fill="#004dff"/>
<rect x="489.60" y="176.36" width="146.10" height="3.02" fill="#0080ff"/>
<rect x="513.45" y="176.36" width="122.25" height="3.02" fill="#0019ff"/>
<rect x="537.30" y="176.36" width="98.40" height="3.02" fill="#0000e6"/>
<rect x="561.15" y="176.36" width="74.55" height="3.02" fill="#0000fa"/>
<rect x="585.00" y="176.36" width="50.70" height="3.02" fill="#004dff"/>
<rect x="608.85" y="176.36" width="26.85" height="3.02" fill="#0080ff"/>
<rect x="391.20" y="178.38" width="244.50" height="3.02" fill="#0000d1"/>
<rect x="418.05" y="178.38" width="217.65" height="3.02" fill="#0080ff"/>
<rect x="441.90" y="178.38" width="193.80" height="3.02" fill="#0019ff"/>
<rect x="465.75" y="178.38" width="169.95" height="3.02" fill="#0080ff"/>
<rect x="489.60" y="178.38" width="146.10" height="3.02" fill="#00b2ff"/>
<rect x="513.45" y="178.38" width="122.25" height="3.02" fill="#009eff"/>
<rect x="537.30" y="178.38" width="98.40" height="3.02" fill="#004dff"/>
<rect x="561.15" y="178.38" width="74.55" height="3.02" fill="#00b2ff"/>
<rect x="585.00" y="178.38" width="50.70" height="3.02" fill="#80ff80"/>
<rect x="608.85" y="178.38" width="26.85" height="3.02" fill="#b3ff4c"/>
<rect x="391.20" y="180.40" width="244.50" height="3.02" fill="#00e5ff"/>
<rect x="418.05" y="180.40" width="217.65" height="3.02" fill="#00e5ff"/>
<rect x="441.90" y="180.40" width="193.80" height="3.02" fill="#80ff80"/>
<rect x="465.75" y="180.40" width="169.95" height="3.02" fill="#b3ff4c"/>
<rect x="489.60" y="180.40" width="146.10" height="3.02" fill="#80ff80"/>
<rect x="513.45" y="180.40" width="122.25" height="3.02" fill="#4dffb2"/>
<rect x="537.30" y="180.40" width="98.40" height="3.02" fill="#2effd1"/>
<rect x="561.15" y="180.40" width="74.55" height="3.02" fill="#d1ff2e"/>
<rect x="585.00" y="180.40" width="50.70" height="3.02" fill="#4dffb2"/>
<rect x="608.85" y="180.40" width="26.85" height="3.02" fill="#4dffb2"/>
<rect x="391.20" y="182.42" width="244.50" height="3.02" fill="#004dff"/>
<rect x="418.05" y="182.42" width="217.65" height="3.02" fill="#00d1ff"/>
<rect x="441.90" y="182.42" width="193.80" height="3.02" fill="#00d1ff"/>
<rect x="465.75" y="182.42" width="169.95" height="3.02" fill="#00b2ff"/>
<rect x="489.60" y="182.42" width="146.10" height="3.02" fill="#00b2ff"/>
<rect x="513.45" y="182.42" width="122.25" height="3.02" fill="#00b2ff"/>
<rect x="537.30" y="182.42" width="98.40" height="3.02" fill="#00b2ff"/>
<rect x="561.15" y="182.42" width="74.55" height="3.02" fill="#00b2ff"/>
<rect x="585.00" y="182.42" width="50.70" height="3.02" fill="#00d1ff"/>
<rect x="608.85" y="182.42" width="26.85" height="3.02" fill="#4dffb2"/>
<rect x="391.20" y="184.43" width="244.50" height="3.02" fill="#00b2ff"/>
<rect x="418.05" y="184.43" width="217.65" height="3.02" fill="#80ff80"/>
<rect x="441.90" y="184.43" width="193.80" height="3.02" fill="#e5ff1a"/>
<rect x="465.75" y="184.43" width="169.95" height="3.02" fill="#faff05"/>
<rect x="489.60" y="184.43" width="146.10" height="3.02" fill="#ffe500"/>
<rect x="513.45" y="184.43" width="122.25" height="3.02" fill="#1affe5"/>
<rect x="537.30" y="184.43" width="98.40" height="3.02" fill="#94ff6b"/>
<rect x="561.15" y="184.43" width="74.55" height="3.02" fill="#e5ff1a"/>
<rect x="585.00" y="184.43" width="50.70" height="3.02" fill="#1affe5"/>
<rect x="608.85" y="184.43" width="26.85" height="3.02" fill="#4dffb2"/>
<rect x="391.20" y="186.45" width="244.50" height="3.02" fill="#0000d1"/>
<rect x="418.05" y="186.45" width="217.65" height="3.02" fill="#0000fa"/>
<rect x="441.90" y="186.45" width="193.80" height="3.02" fill="#0000e6"/>
<rect x="465.75" y="186.45" width="169.95" height="3.02" fill="#0080ff"/>
<rect x="489.60" y="186.45" width="146.10" height="3.02" fill="#0019ff"/>
<rect x="513.45" y="186.45" width="122.25" height="3.02" fill="#00e5ff"/>
<rect x="537.30" y="186.45" width="98.40" height="3.02" fill="#1affe5"/>
<rect x="561.15" y="186.45" width="74.55" height="3.02" fill="#2effd1"/>
<rect x="585.00" y="186.45" width="50.70" height="3.02" fill="#00b2ff"/>
<rect x="608.85" y="186.45" width="26.85" height="3.02" fill="#00b2ff"/>
<rect x="391.20" y="188.47" width="244.50" height="3.02" fill="#b3ff4c"/>
<rect x="418.05" y="188.47" width="217.65" height="3.02" fill="#ffe500"/>
<rect x="441.90" y="188.47" width="193.80" height="3.02" fill="#ff8000"/>
<rect x="465.75" y="188.47" width="169.95" height="3.02" fill="#ff1a00"/>
<rect x="489.60" y="188.47" width="146.10" height="3.02" fill="#ff1a00"/>
<rect x="513.45" y="188.47" width="122.25" height="3.02" fill="#ff1a00"/>
<rect x="537.30" y="188.47" width="98.40" height="3.02" fill="#ff9e00"/>
<rect x="561.15" y="188.47" width="74.55" height="3.02" fill="#ffc700"/>
<rect x="585.00" y="188.47" width="50.70" height="3.02" fill="#e5ff1a"/>
<rect x="608.85" y="188.47" width="26.85" height="3.02" fill="#94ff6b"/>
<rect x="391.20" y="190.49" width="244.50" height="3.02" fill="#faff05"/>
<rect x="418.05" y="190.49" width="217.65" height="3.02" fill="#ffc700"/>
<rect x="441.90" y="190.49" width="193.80" height="3.02" fill="#ff8000"/>
<rect x="465.75" y="190.49" width="169.95" height="3.02" fill="#ff1a00"/>
<rect x="489.60" y="190.49" width="146.10" height="3.02" fill="#ff3800"/>
<rect x="513.45" y="190.49" width="122.25" height="3.02" fill="#1affe5"/>
<rect x="537.30" y="190.49" width="98.40" height="3.02" fill="#00b2ff"/>
<rect x="561.15" y="190.49" width="74.55" height="3.02" fill="#00e5ff"/>
<rect x="585.00" y="190.49" width="50.70" height="3.02" fill="#0019ff"/>
<rect x="608.85" y="190.49" width="26.85" height="3.02" fill="#0000b2"/>
<rect x="391.20" y="192.51" width="244.50" height="3.02" fill="#1affe5"/>
<rect x="418.05" y="192.51" width="217.65" height="3.02" fill="#00b2ff"/>
<rect x="441.90" y="192.51" width="193.80" height="3.02" fill="#004dff"/>
<rect x="465.75" y="192.51" width="169.95" height="3.02" fill="#00b2ff"/>
<rect x="489.60" y="192.51" width="146.10" height="3.02" fill="#00b2ff"/>
<rect x="513.45" y="192.51" width="122.25" height="3.02" fill="#004dff"/>
<rect x="537.30" y="192.51" width="98.40" height="3.02" fill="#0080ff"/>
<rect x="561.15" y="192.51" width="74.55" height="3.02" fill="#0080ff"/>
<rect x="585.00" y="192.51" width="50.70" height="3.02" fill="#0000e6"/>
<rect x="608.85" y="192.51" width="26.85" height="3.02" fill="#0000b2"/>
<rect x="391.20" y="194.53" width="244.50" height="3.02" fill="#0000d1"/>
<rect x="418.05" y="194.53" width="217.65" height="3.02" fill="#0000e6"/>
<rect x="441.90" y="194.53" width="193.80" height="3.02" fill="#0019ff"/>
<rect x="465.75" y="194.53" width="169.95" height="3.02" fill="#00b2ff"/>
<rect x="489.60" y="194.53" width="146.10" height="3.02" fill="#009eff"/>
<rect x="513.45" y="194.53" width="122.25" height="3.02" fill="#0000fa"/>
<rect x="537.30" y="194.53" width="98.40" height="3.02" fill="#0019ff"/>
<rect x="561.15" y="194.53" width="74.55" height="3.02" fill="#00b2ff"/>
<rect x="585.00" y="194.53" width="50.70" height="3.02" fill="#05fffa"/>
<rect x="608.85" y="194.53" width="26.85" height="3.02" fill="#05fffa"/>
<rect x="391.20" y="196.55" width="244.50" height="3.02" fill="#0000d1"/>
<rect x="418.05" y="196.55" width="217.65" height="3.02" fill="#0000e6"/>
<rect x="441.90" y="196.55" width="193.80" height="3.02" fill="#0000fa"/>
<rect x="465.75" y="196.55" width="169.95" height="3.02" fill="#004dff"/>
<rect x="489.60" y="196.55" width="146.10" height="3.02" fill="#004dff"/>
<rect x="513.45" y="196.55" width="122.25" height="3.02" fill="#4dffb2"/>
<rect x="537.30" y="196.55" width="98.40" height="3.02" fill="#9eff61"/>
<rect x="561.15" y="196.55" width="74.55" height="3.02" fill="#bdff42"/>
<rect x="585.00" y="196.55" width="50.70" height="3.02" fill="#05fffa"/>
<rect x="608.85" y="196.55" width="26.85" height="3.02" fill="#0080ff"/>
<rect x="391.20" y="198.57" width="244.50" height="3.02" fill="#004dff"/>
<rect x="418.05" y="198.57" width="217.65" height="3.02" fill="#00b2ff"/>
<rect x="441.90" y="198.57" width="193.80" height="3.02" fill="#1affe5"/>
<rect x="465.75" y="198.57" width="169.95" height="3.02" fill="#4dffb2"/>
<rect x="489.60" y="198.57" width="146.10" height="3.02" fill="#80ff80"/>
<rect x="513.45" y="198.57" width="122.25" height="3.02" fill="#00e5ff"/>
<rect x="537.30" y="198.57" width="98.40" height="3.02" fill="#00e5ff"/>
<rect x="561.15" y="198.57" width="74.55" height="3.02" fill="#05fffa"/>
<rect x="585.00" y="198.57" width="50.70" height="3.02" fill="#0019ff"/>
<rect x="608.85" y="198.57" width="26.85" height="3.02" fill="#0000e6"/>
<rect x="391.20" y="200.59" width="244.50" height="3.02" fill="#0019ff"/>
<rect x="418.05" y="200.59" width="217.65" height="3.02" fill="#0080ff"/>
<rect x="441.90" y="200.59" width="193.80" height="3.02" fill="#00b2ff"/>
<rect x="465.75" y="200.59" width="169.95" height="3.02" fill="#00b2ff"/>
<rect x="489.60" y="200.59" width="146.10" height="3.02" fill="#00e5ff"/>
<rect x="513.45" y="200.59" width="122.25" height="3.02" fill="#00b2ff"/>
<rect x="537.30" y="200.59" width="98.40" height="3.02" fill="#004dff"/>
<rect x="561.15" y="200.59" width="74.55" height="3.02" fill="#4dffb2"/>
<rect x="585.00" y="200.59" width="50.70" height="3.02" fill="#00d1ff"/>
<rect x="608.85" y="200.59" width="26.85" height="3.02" fill="#0000e6"/>
<rect x="391.20" y="202.61" width="244.50" height="3.02" fill="#00e5ff"/>
<rect x="418.05" y="202.61" width="217.65" height="3.02" fill="#1affe5"/>
<rect x="441.90" y="202.61" width="193.80" height="3.02" fill="#2effd1"/>
<rect x="465.75" y="202.61" width="169.95" height="3.02" fill="#4dffb2"/>
<rect x="489.60" y="202.61" width="146.10" height="3.02" fill="#1affe5"/>
<rect x="513.45" y="202.61" width="122.25" height="3.02" fill="#00b2ff"/>
<rect x="537.30" y="202.61" width="98.40" height="3.02" fill="#0057ff"/>
<rect x="561.15" y="202.61" width="74.55" height="3.02" fill="#0080ff"/>
<rect x="585.00" y="202.61" width="50.70" height="3.02" fill="#0000d1"/>
<rect x="608.85" y="202.61" width="26.85" height="3.02" fill="#0000b2"/>
<rect x="391.20" y="204.63" width="244.50" height="3.02" fill="#00d1ff"/>
<rect x="418.05" y="204.63" width="217.65" height="3.02" fill="#1affe5"/>
<rect x="441.90" y="204.63" width="193.80" height="3.02" fill="#80ff80"/>
<rect x="465.75" y="204.63" width="169.95" height="3.02" fill="#80ff80"/>
<rect x="489.60" y="204.63" width="146.10" height="3.02" fill="#1affe5"/>
<rect x="513.45" y="204.63" width="122.25" height="3.02" fill="#00b2ff"/>
<rect x="537.30" y="204.63" width="98.40" height="3.02" fill="#004dff"/>
<rect x="561.15" y="204.63" width="74.55" height="3.02" fill="#0000d1"/>
<rect x="585.00" y="204.63" width="50.70" height="3.02" fill="#0000b2"/>
<rect x="608.85" y="204.63" width="26.85" height="3.02" fill="#0000b2"/>
<rect x="391.20" y="206.65" width="244.50" height="3.02" fill="#0000fa"/>
<rect x="418.05" y="206.65" width="217.65" height="3.02" fill="#004dff"/>
<rect x="441.90" y="206.65" width="193.80" height="3.02" fill="#0080ff"/>
<rect x="465.75" y="206.65" width="169.95" height="3.02" fill="#00b2ff"/>
<rect x="489.60" y="206.65" width="146.10" height="3.02" fill="#00d1ff"/>
<rect x="513.45" y="206.65" width="122.25" height="3.02" fill="#00d1ff"/>
<rect x="537.30" y="206.65" width="98.40" height="3.02" fill="#0080ff"/>
<rect x="561.15" y="206.65" width="74.55" height="3.02" fill="#0019ff"/>
<rect x="585.00" y="206.65" width="50.70" height="3.02" fill="#00d1ff"/>
<rect x="608.85" y="206.65" width="26.85" height="3.02" fill="#80ff80"/>
<rect x="391.20" y="208.67" width="244.50" height="3.02" fill="#00e5ff"/>
<rect x="418.05" y="208.67" width="217.65" height="3.02" fill="#00d1ff"/>
<rect x="441.90" y="208.67" width="193.80" height="3.02" fill="#80ff80"/>
<rect x="465.75" y="208.67" width="169.95" height="3.02" fill="#b3ff4c"/>
<rect x="489.60" y="208.67" width="146.10" height="3.02" fill="#80ff80"/>
<rect x="513.45" y="208.67" width="122.25" height="3.02" fill="#b3ff4c"/>
<rect x="537.30" y="208.67" width="98.40" height="3.02" fill="#faff05"/>
<rect x="561.15" y="208.67" width="74.55" height="3.02" fill="#faff05"/>
<rect x="585.00" y="208.67" width="50.70" height="3.02" fill="#80ff80"/>
<rect x="608.85" y="208.67" width="26.85" height="3.02" fill="#0080ff"/>
<rect x="391.20" y="210.68" width="244.50" height="3.02" fill="#0080ff"/>
<rect x="418.05" y="210.68" width="217.65" height="3.02" fill="#00d1ff"/>
<rect x="441.90" y="210.68" width="193.80" height="3.02" fill="#00b2ff"/>
<rect x="465.75" y="210.68" width="169.95" height="3.02" fill="#0094ff"/>
<rect x="489.60" y="210.68" width="146.10" height="3.02" fill="#00d1ff"/>
<rect x="513.45" y="210.68" width="122.25" height="3.02" fill="#00e5ff"/>
<rect x="537.30" y="210.68" width="98.40" height="3.02" fill="#00d1ff"/>
<rect x="561.15" y="210.68" width="74.55" height="3.02" fill="#009eff"/>
<rect x="585.00" y="210.68" width="50.70" height="3.02" fill="#0000f0"/>
<rect x="608.85" y="210.68" width="26.85" height="3.02" fill="#0000c7"/>
<rect x="391.20" y="212.70" width="244.50" height="3.02" fill="#0019ff"/>
<rect x="418.05" y="212.70" width="217.65" height="3.02" fill="#00b2ff"/>
<rect x="441.90" y="212.70" width="193.80" height="3.02" fill="#00e5ff"/>
<rect x="465.75" y="212.70" width="169.95" height="3.02" fill="#00d1ff"/>
<rect x="489.60" y="212.70" width="146.10" height="3.02" fill="#00b2ff"/>
<rect x="513.45" y="212.70" width="122.25" height="3.02" fill="#004dff"/>
<rect x="537.30" y="212.70" width="98.40" height="3.02" fill="#0000fa"/>
<rect x="561.15" y="212.70" width="74.55" height="3.02" fill="#0000e6"/>
<rect x="585.00" y="212.70" width="50.70" height="3.02" fill="#0000bd"/>
<rect x="608.85" y="212.70" width="26.85" height="3.02" fill="#0000b2"/>
<rect x="391.20" y="214.72" width="244.50" height="3.02" fill="#0019ff"/>
<rect x="418.05" y="214.72" width="217.65" height="3.02" fill="#004dff"/>
<rect x="441.90" y="214.72" width="193.80" height="3.02" fill="#00b2ff"/>
<rect x="465.75" y="214.72" width="169.95" height="3.02" fill="#00b2ff"/>
<rect x="489.60" y="214.72" width="146.10" height="3.02" fill="#0080ff"/>
<rect x="513.45" y="214.72" width="122.25" height="3.02" fill="#0080ff"/>
<rect x="537.30" y="214.72" width="98.40" height="3.02" fill="#0000e6"/>
<rect x="561.15" y="214.72" width="74.55" height="3.02" fill="#0000e6"/>
<rect x="585.00" y="214.72" width="50.70" height="3.02" fill="#0000d1"/>
<rect x="608.85" y="214.72" width="26.85" height="3.02" fill="#0080ff"/>
<rect x="391.20" y="216.74" width="244.50" height="3.02" fill="#0000d1"/>
<rect x="418.05" y="216.74" width="217.65" height="3.02" fill="#0080ff"/>
<rect x="441.90" y="216.74" width="193.80" height="3.02" fill="#00d1ff"/>
<rect x="465.75" y="216.74" width="169.95" height="3.02" fill="#4dffb2"/>
<rect x="489.60" y="216.74" width="146.10" height="3.02" fill="#b3ff4c"/>
<rect x="513.45" y="216.74" width="122.25" height="3.02" fill="#d1ff2e"/>
<rect x="537.30" y="216.74" width="98.40" height="3.02" fill="#b3ff4c"/>
<rect x="561.15" y="216.74" width="74.55" height="3.02" fill="#4dffb2"/>
<rect x="585.00" y="216.74" width="50.70" height="3.02" fill="#1affe5"/>
<rect x="608.85" y="216.74" width="26.85" height="3.02" fill="#00b2ff"/>
<rect x="391.20" y="218.76" width="244.50" height="3.02" fill="#00b2ff"/>
<rect x="418.05" y="218.76" width="217.65" height="3.02" fill="#004dff"/>
<rect x="441.90" y="218.76" width="193.80" height="3.02" fill="#0019ff"/>
<rect x="465.75" y="218.76" width="169.95" height="3.02" fill="#0061ff"/>
<rect x="489.60" y="218.76" width="146.10" height="3.02" fill="#00e5ff"/>
<rect x="513.45" y="218.76" width="122.25" height="3.02" fill="#00b2ff"/>
<rect x="537.30" y="218.76" width="98.40" height="3.02" fill="#00e5ff"/>
<rect x="561.15" y="218.76" width="74.55" height="3.02" fill="#b3ff4c"/>
<rect x="585.00" y="218.76" width="50.70" height="3.02" fill="#80ff80"/>
<rect x="608.85" y="218.76" width="26.85" height="3.02" fill="#00b2ff"/>
<rect x="391.20" y="220.78" width="244.50" height="5.02" fill="#0019ff"/>
<rect x="418.05" y="220.78" width="217.65" height="5.02" fill="#2effd1"/>
<rect x="441.90" y="220.78" width="193.80" height="5.02" fill="#80ff80"/>
<rect x="465.75" y="220.78" width="169.95" height="5.02" fill="#b3ff4c"/>
<rect x="489.60" y="220.78" width="146.10" height="5.02" fill="#e5ff1a"/>
<rect x="513.45" y="220.78" width="122.25" height="5.02" fill="#e5ff1a"/>
<rect x="537.30" y="220.78" width="98.40" height="5.02" fill="#b3ff4c"/>
<rect x="561.15" y="220.78" width="74.55" height="5.02" fill="#05fffa"/>
<rect x="585.00" y="220.78" width="50.70" height="5.02" fill="#1affe5"/>
<rect x="608.85" y="220.78" width="26.85" height="5.02" fill="#80ff80"/>
</g></g>
<line x1="429.98" y1="12.80" x2="429.98" y2="222.80" stroke="#262626" stroke-opacity="0.13" stroke-width="0.6"/>
<line x1="429.98" y1="222.80" x2="429.98" y2="220.60" stroke="#262626" stroke-opacity="0.7" stroke-width="0.5"/>
<line x1="429.98" y1="12.80" x2="429.98" y2="15.00" stroke="#262626" stroke-opacity="0.7" stroke-width="0.5"/>
<text x="429.98" y="235.60" class="tk" text-anchor="middle">2</text>
<line x1="477.68" y1="12.80" x2="477.68" y2="222.80" stroke="#262626" stroke-opacity="0.13" stroke-width="0.6"/>
<line x1="477.68" y1="222.80" x2="477.68" y2="220.60" stroke="#262626" stroke-opacity="0.7" stroke-width="0.5"/>
<line x1="477.68" y1="12.80" x2="477.68" y2="15.00" stroke="#262626" stroke-opacity="0.7" stroke-width="0.5"/>
<text x="477.68" y="235.60" class="tk" text-anchor="middle">4</text>
<line x1="525.38" y1="12.80" x2="525.38" y2="222.80" stroke="#262626" stroke-opacity="0.13" stroke-width="0.6"/>
<line x1="525.38" y1="222.80" x2="525.38" y2="220.60" stroke="#262626" stroke-opacity="0.7" stroke-width="0.5"/>
<line x1="525.38" y1="12.80" x2="525.38" y2="15.00" stroke="#262626" stroke-opacity="0.7" stroke-width="0.5"/>
<text x="525.38" y="235.60" class="tk" text-anchor="middle">6</text>
<line x1="573.08" y1="12.80" x2="573.08" y2="222.80" stroke="#262626" stroke-opacity="0.13" stroke-width="0.6"/>
<line x1="573.08" y1="222.80" x2="573.08" y2="220.60" stroke="#262626" stroke-opacity="0.7" stroke-width="0.5"/>
<line x1="573.08" y1="12.80" x2="573.08" y2="15.00" stroke="#262626" stroke-opacity="0.7" stroke-width="0.5"/>
<text x="573.08" y="235.60" class="tk" text-anchor="middle">8</text>
<line x1="620.78" y1="12.80" x2="620.78" y2="222.80" stroke="#262626" stroke-opacity="0.13" stroke-width="0.6"/>
<line x1="620.78" y1="222.80" x2="620.78" y2="220.60" stroke="#262626" stroke-opacity="0.7" stroke-width="0.5"/>
<line x1="620.78" y1="12.80" x2="620.78" y2="15.00" stroke="#262626" stroke-opacity="0.7" stroke-width="0.5"/>
<text x="620.78" y="235.60" class="tk" text-anchor="middle">10</text>
<line x1="394.20" y1="65.30" x2="632.70" y2="65.30" stroke="#262626" stroke-opacity="0.13" stroke-width="0.6"/>
<line x1="394.20" y1="65.30" x2="396.40" y2="65.30" stroke="#262626" stroke-opacity="0.7" stroke-width="0.5"/>
<line x1="632.70" y1="65.30" x2="630.50" y2="65.30" stroke="#262626" stroke-opacity="0.7" stroke-width="0.5"/>
<text x="390.00" y="69.00" class="tk" text-anchor="end">2021</text>
<line x1="394.20" y1="170.30" x2="632.70" y2="170.30" stroke="#262626" stroke-opacity="0.13" stroke-width="0.6"/>
<line x1="394.20" y1="170.30" x2="396.40" y2="170.30" stroke="#262626" stroke-opacity="0.7" stroke-width="0.5"/>
<line x1="632.70" y1="170.30" x2="630.50" y2="170.30" stroke="#262626" stroke-opacity="0.7" stroke-width="0.5"/>
<text x="390.00" y="174.00" class="tk" text-anchor="end">2022</text>
<rect x="394.20" y="12.80" width="238.50" height="210.00" fill="none" stroke="#262626" stroke-opacity="0.3" stroke-width="0.5"/>
<text x="513.15" y="9.70" class="ti tib" text-anchor="middle">AE of LOD predictions (Experiment 4)</text>
<text x="513.45" y="249.10" class="lb" font-size="10.73" text-anchor="middle">Days in future</text>
<text transform="translate(364.30,118.48) rotate(-90)" class="lb" font-size="10.73" textLength="137.8" lengthAdjust="spacing" text-anchor="middle">Iteration year of the test data</text>
<text x="509.10" y="267.30" class="sf" text-anchor="middle">(b)</text>
<rect x="639.90" y="12.80" width="12.70" height="210.00" fill="url(#jet)"/>
<rect x="639.90" y="12.80" width="12.70" height="210.00" fill="none" stroke="#262626" stroke-opacity="0.45" stroke-width="0.6"/>
<line x1="652.60" y1="192.91" x2="650.80" y2="192.91" stroke="#262626" stroke-opacity="0.7" stroke-width="0.5"/>
<text x="655.50" y="195.61" class="cb">0.05</text>
<line x1="652.60" y1="162.09" x2="650.80" y2="162.09" stroke="#262626" stroke-opacity="0.7" stroke-width="0.5"/>
<text x="655.50" y="164.79" class="cb">0.1</text>
<line x1="652.60" y1="131.27" x2="650.80" y2="131.27" stroke="#262626" stroke-opacity="0.7" stroke-width="0.5"/>
<text x="655.50" y="133.97" class="cb">0.15</text>
<line x1="652.60" y1="100.45" x2="650.80" y2="100.45" stroke="#262626" stroke-opacity="0.7" stroke-width="0.5"/>
<text x="655.50" y="103.15" class="cb">0.2</text>
<line x1="652.60" y1="69.63" x2="650.80" y2="69.63" stroke="#262626" stroke-opacity="0.7" stroke-width="0.5"/>
<text x="655.50" y="72.33" class="cb">0.25</text>
<line x1="652.60" y1="38.81" x2="650.80" y2="38.81" stroke="#262626" stroke-opacity="0.7" stroke-width="0.5"/>
<text x="655.50" y="41.51" class="cb">0.3</text>
<text transform="translate(679.50,117.80) rotate(-90)" class="cl" text-anchor="middle">AE (ms)</text>
</g></svg></body></html>
